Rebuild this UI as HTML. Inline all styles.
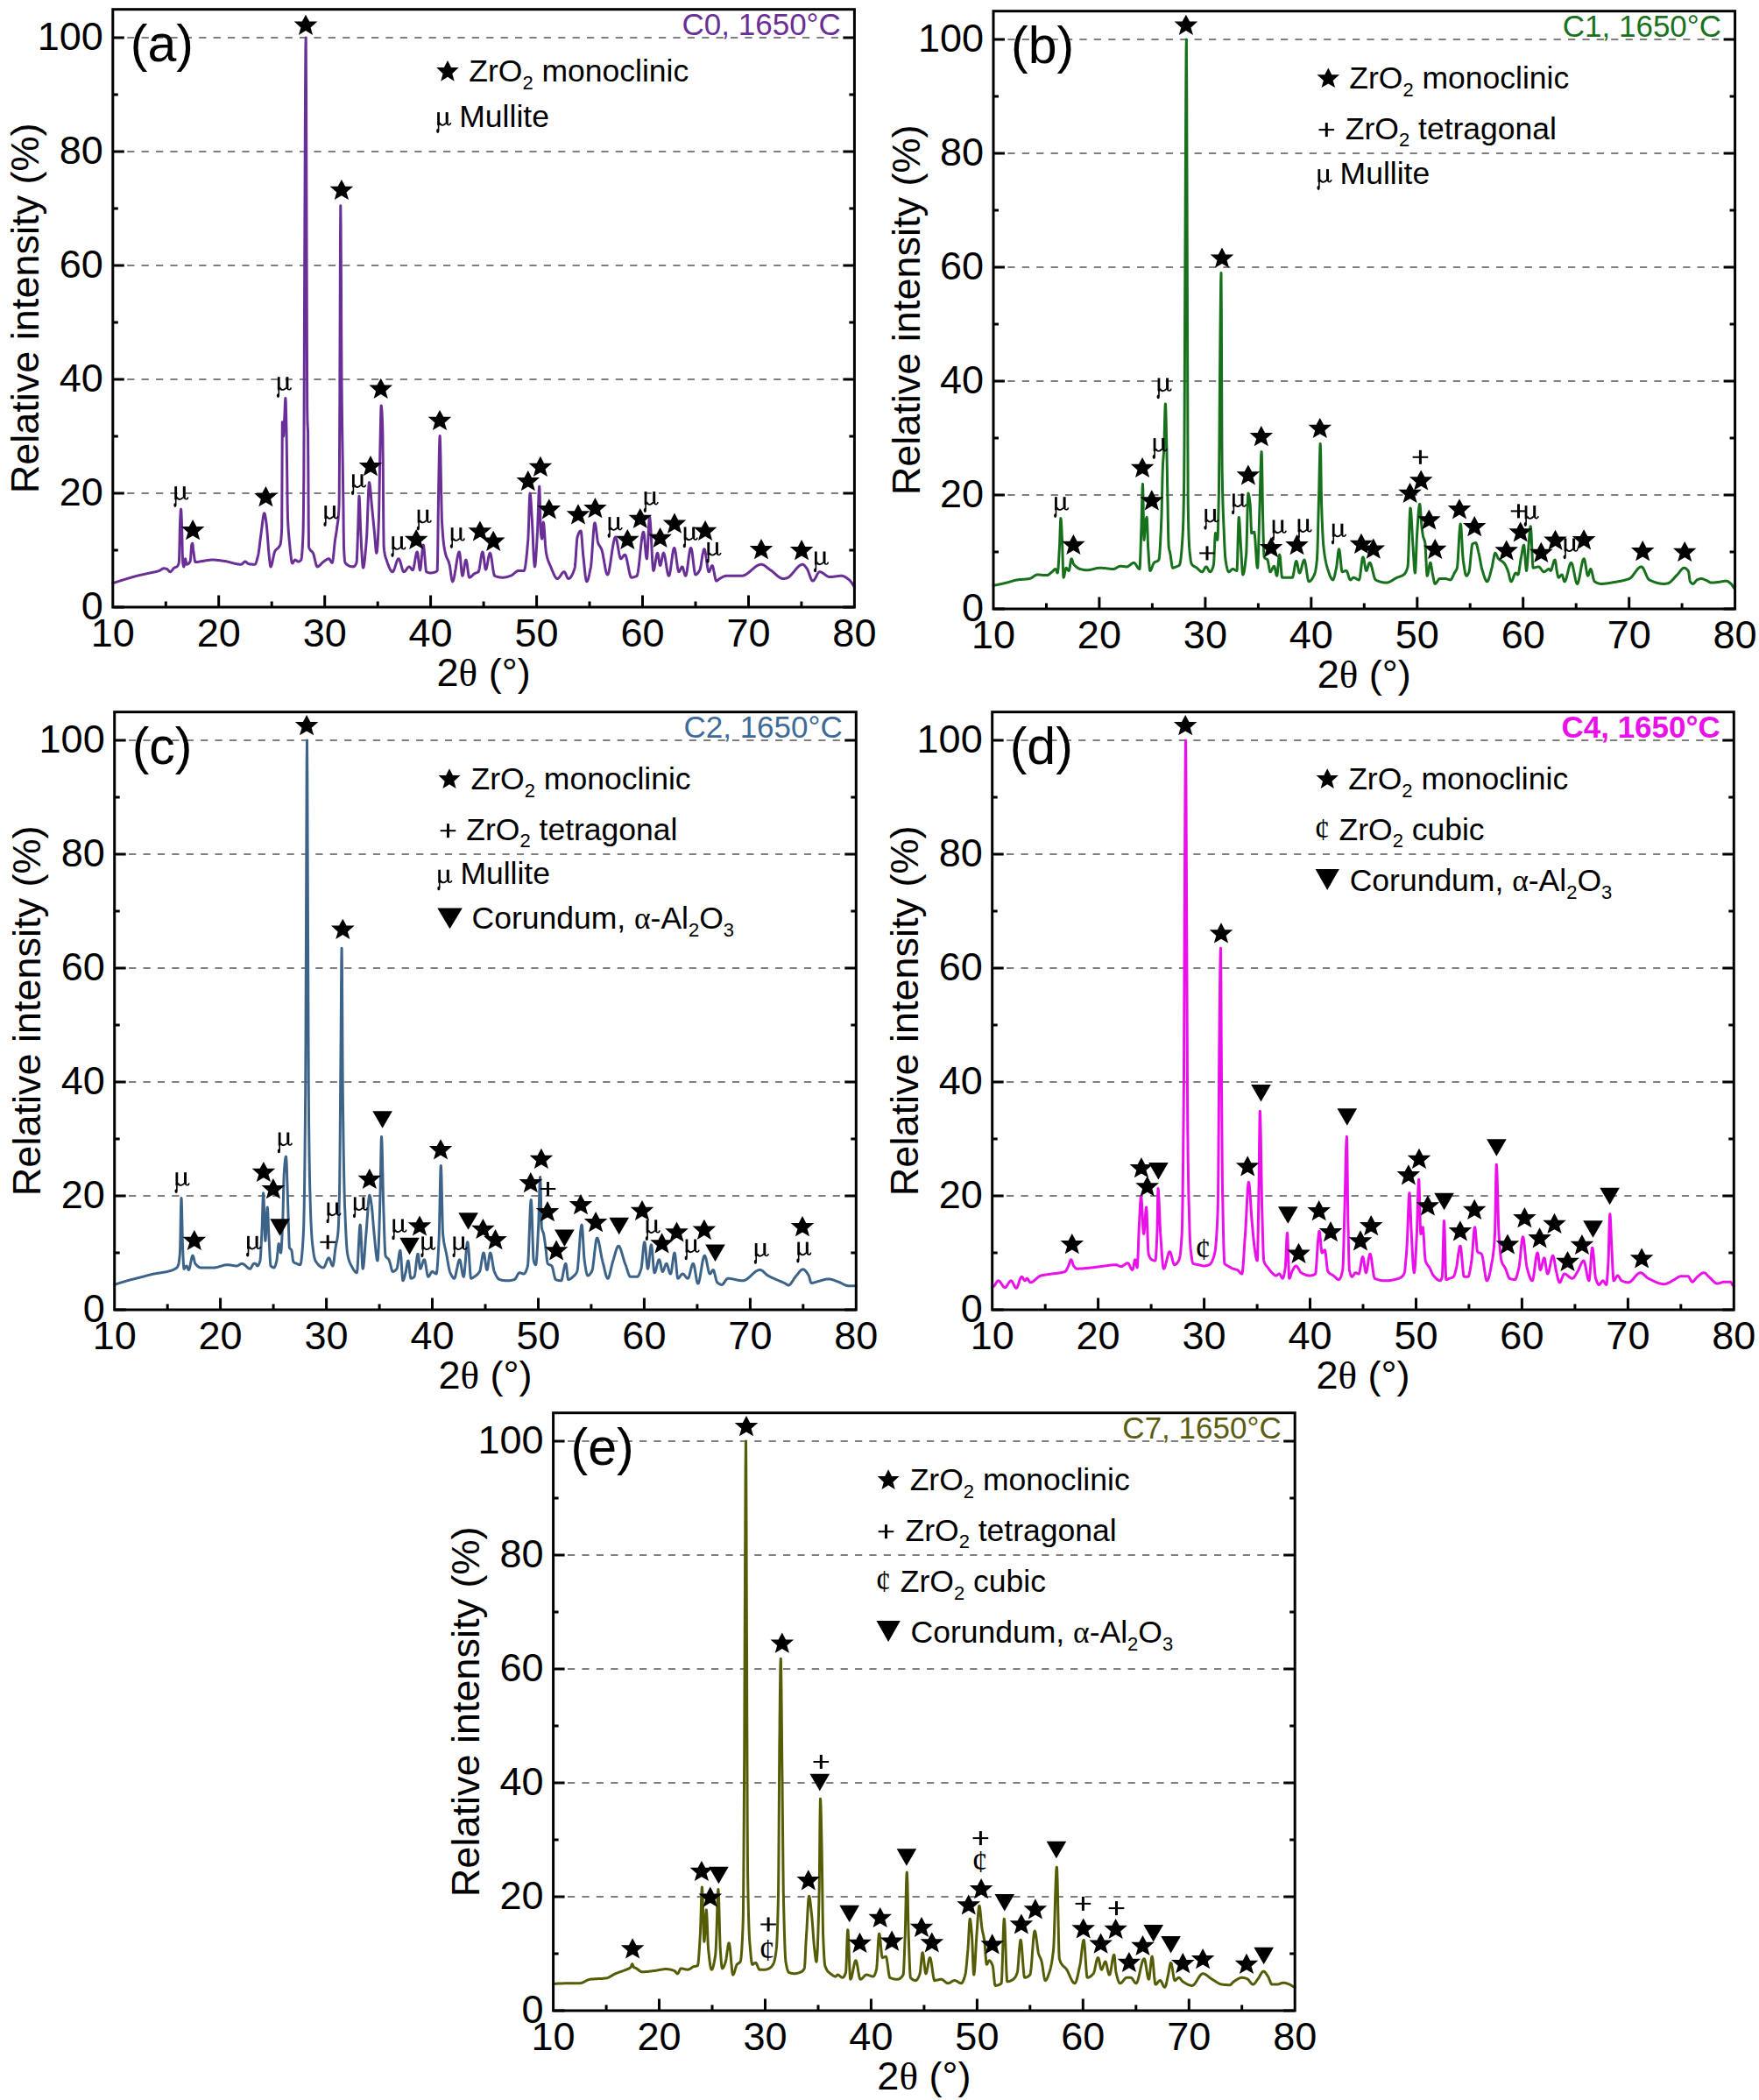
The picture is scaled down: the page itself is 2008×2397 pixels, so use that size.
<!DOCTYPE html><html><head><meta charset="utf-8"><style>html,body{margin:0;padding:0;background:#fff;overflow:hidden}svg{display:block}text{font-family:"Liberation Sans",sans-serif}.sf{font-family:"Liberation Serif",serif}</style></head><body>
<svg xmlns="http://www.w3.org/2000/svg" width="2008" height="2397" viewBox="0 0 2008 2397">
<rect width="2008" height="2397" fill="#fff"/>
<defs><g id="mu" fill="none" stroke="#000"><path d="M-5.85,-15.5V-0.5" stroke-width="2.8"/><path d="M-5.8,-1V5" stroke-width="1.6"/><ellipse cx="-6.6" cy="5.9" rx="1.6" ry="2.4" fill="#000" stroke="none"/><path d="M3.8,-15.5V-2.2" stroke-width="3.0"/><path d="M-4.6,-3.4Q-3.4,-0.5 -1.0,-0.8Q1,-1.1 2.5,-3.0" stroke-width="1.8"/><path d="M3.6,-3.0Q4.4,-0.8 6.3,-1.0Q7.9,-1.2 8.2,-3.4" stroke-width="1.6"/></g><g id="pl" fill="#000"><rect x="-1.5" y="-8" width="3" height="16"/><rect x="-8.8" y="-1" width="17.6" height="2"/></g></defs>
<g stroke="#7f7f7f" stroke-width="1.9" stroke-dasharray="8.2 8.2" fill="none">
<line x1="128.8" y1="563.0" x2="975.4" y2="563.0"/>
<line x1="128.8" y1="433.0" x2="975.4" y2="433.0"/>
<line x1="128.8" y1="303.0" x2="975.4" y2="303.0"/>
<line x1="128.8" y1="173.0" x2="975.4" y2="173.0"/>
<line x1="128.8" y1="43.0" x2="975.4" y2="43.0"/>
</g>
<path d="M128.8,665.7L129.1,665.6L129.4,665.5L129.7,665.4L130.0,665.3L130.3,665.2L130.6,665.1L130.9,665.0L131.2,664.9L131.5,664.8L131.8,664.7L132.1,664.6L132.4,664.5L132.7,664.4L133.0,664.3L133.3,664.2L133.6,664.1L133.9,664.0L134.2,663.9L134.5,663.8L134.8,663.7L135.1,663.6L135.5,663.5L135.8,663.4L136.1,663.3L136.4,663.2L136.7,663.1L137.0,663.0L137.3,662.9L137.6,662.8L137.9,662.7L138.2,662.6L138.5,662.5L138.8,662.5L139.1,662.4L139.4,662.3L139.7,662.2L140.0,662.1L140.3,662.0L140.6,661.9L140.9,661.8L140.9,661.8L141.2,661.7L141.5,661.6L141.8,661.5L142.1,661.4L142.4,661.3L142.7,661.2L143.0,661.2L143.3,661.1L143.6,661.0L143.9,660.9L144.2,660.8L144.5,660.7L144.8,660.6L145.1,660.5L145.4,660.4L145.7,660.3L146.0,660.2L146.3,660.1L146.6,660.0L146.9,660.0L147.2,659.9L147.5,659.8L147.8,659.7L148.2,659.6L148.5,659.5L148.8,659.4L149.1,659.3L149.4,659.2L149.7,659.2L150.0,659.1L150.3,659.0L150.6,658.9L150.9,658.8L151.2,658.7L151.5,658.6L151.8,658.5L152.1,658.5L152.4,658.4L152.7,658.3L153.0,658.2L153.3,658.1L153.6,658.0L153.9,658.0L154.2,657.9L154.5,657.8L154.8,657.7L155.1,657.6L155.4,657.6L155.7,657.5L156.0,657.4L156.3,657.3L156.6,657.2L156.6,657.2L156.9,657.2L157.2,657.1L157.5,657.0L157.8,657.0L158.1,656.9L158.4,656.8L158.7,656.7L159.0,656.7L159.3,656.6L159.6,656.5L159.9,656.5L160.2,656.4L160.5,656.3L160.8,656.2L161.2,656.2L161.5,656.1L161.8,656.0L162.1,656.0L162.4,655.9L162.7,655.8L163.0,655.8L163.3,655.7L163.6,655.7L163.9,655.6L164.2,655.5L164.5,655.5L164.8,655.4L165.1,655.3L165.4,655.3L165.7,655.2L166.0,655.1L166.3,655.1L166.6,655.0L166.9,654.9L167.2,654.9L167.5,654.8L167.8,654.7L168.1,654.7L168.4,654.6L168.7,654.5L169.0,654.5L169.3,654.4L169.6,654.3L169.9,654.3L170.2,654.2L170.5,654.1L170.8,654.1L171.1,654.0L171.1,654.0L171.4,653.9L171.7,653.9L172.0,653.8L172.3,653.7L172.6,653.7L172.9,653.6L173.2,653.5L173.5,653.5L173.9,653.4L174.2,653.4L174.5,653.3L174.8,653.2L175.1,653.2L175.4,653.1L175.7,653.0L176.0,653.0L176.3,652.9L176.6,652.9L176.9,652.8L177.2,652.7L177.5,652.7L177.8,652.6L178.1,652.5L178.4,652.4L178.7,652.4L179.0,652.3L179.3,652.2L179.6,652.1L179.9,652.1L180.2,652.0L180.5,651.9L180.8,651.8L181.1,651.7L181.4,651.6L181.7,651.5L182.0,651.4L182.0,651.4L182.3,651.3L182.6,651.1L182.9,651.0L183.2,650.8L183.5,650.5L183.8,650.3L184.1,650.1L184.4,649.9L184.7,649.7L185.0,649.5L185.3,649.3L185.6,649.1L185.9,649.0L186.2,648.9L186.6,648.8L186.9,648.8L186.9,648.8L187.2,648.8L187.5,648.8L187.8,648.9L188.1,648.9L188.4,648.9L188.7,649.0L189.0,649.1L189.3,649.1L189.6,649.2L189.9,649.3L190.2,649.4L190.5,649.5L190.5,649.5L190.8,649.6L191.1,649.8L191.4,650.1L191.7,650.5L192.0,650.8L192.3,651.2L192.6,651.6L192.9,651.9L193.2,652.2L193.5,652.5L193.8,652.6L194.1,652.7L194.1,652.7L194.4,652.7L194.7,652.5L195.0,652.4L195.3,652.1L195.6,651.9L195.9,651.5L196.2,651.2L196.5,650.8L196.8,650.5L197.1,650.1L197.4,649.7L197.7,649.3L198.0,649.0L198.3,648.7L198.6,648.4L198.9,648.1L198.9,648.1L199.2,648.0L199.6,647.8L199.9,647.7L200.2,647.5L200.5,647.4L200.8,647.3L201.1,647.2L201.4,647.1L201.7,646.9L202.0,646.7L202.3,646.5L202.6,646.2L202.6,646.2L202.9,645.8L203.2,645.3L203.5,644.7L203.8,643.7L204.1,642.5L204.4,641.0L204.4,641.0L204.7,634.1L205.0,620.6L205.3,605.8L205.6,595.5L205.6,595.5L205.9,589.2L206.2,583.9L206.5,581.3L206.6,581.2L206.8,582.9L207.1,588.5L207.4,595.5L207.4,595.5L207.7,606.0L208.0,620.4L208.3,633.7L208.6,641.0L208.6,641.0L208.9,643.4L209.2,645.2L209.5,646.4L209.8,646.9L209.8,646.9L210.1,646.2L210.4,644.5L210.7,642.3L211.0,640.1L211.3,638.4L211.6,637.8L211.6,637.8L211.9,638.8L212.3,641.0L212.6,643.2L212.9,644.2L212.9,644.2L213.2,644.2L213.5,644.2L213.8,644.1L214.1,644.0L214.4,643.9L214.7,643.7L215.0,643.5L215.3,643.2L215.6,643.0L215.9,642.6L216.2,642.3L216.5,641.9L216.8,641.5L217.1,641.0L217.1,641.0L217.4,639.3L217.7,635.8L218.0,631.4L218.3,627.0L218.6,623.4L218.9,621.5L218.9,621.5L219.2,620.8L219.5,620.3L219.7,620.2L219.8,620.3L220.1,622.1L220.4,625.2L220.7,628.0L220.7,628.0L221.0,630.2L221.3,632.4L221.6,634.7L221.9,636.9L222.2,638.8L222.5,640.3L222.8,641.3L223.1,641.6L223.1,641.6L223.4,641.6L223.7,641.6L224.0,641.6L224.3,641.6L224.6,641.6L224.9,641.5L225.3,641.5L225.6,641.5L225.9,641.4L226.2,641.4L226.5,641.3L226.8,641.3L227.1,641.2L227.4,641.1L227.7,641.1L228.0,641.0L228.3,641.0L228.6,640.9L228.9,640.8L229.2,640.8L229.5,640.7L229.8,640.7L230.1,640.6L230.4,640.5L230.7,640.5L231.0,640.4L231.3,640.4L231.6,640.4L231.6,640.3L231.9,640.3L232.2,640.3L232.5,640.2L232.8,640.2L233.1,640.1L233.4,640.1L233.7,640.0L234.0,640.0L234.3,639.9L234.6,639.9L234.9,639.8L235.2,639.8L235.5,639.7L235.8,639.7L236.1,639.7L236.4,639.6L236.7,639.6L237.0,639.5L237.3,639.5L237.6,639.4L238.0,639.4L238.3,639.4L238.6,639.3L238.9,639.3L239.2,639.2L239.5,639.2L239.8,639.2L240.1,639.2L240.4,639.1L240.7,639.1L241.0,639.1L241.3,639.1L241.6,639.1L241.9,639.1L242.2,639.1L242.5,639.0L242.5,639.0L242.8,639.1L243.1,639.1L243.4,639.1L243.7,639.1L244.0,639.1L244.3,639.1L244.6,639.1L244.9,639.1L245.2,639.1L245.5,639.2L245.8,639.2L246.1,639.2L246.4,639.2L246.7,639.2L247.0,639.3L247.3,639.3L247.6,639.3L247.9,639.4L248.2,639.4L248.5,639.4L248.8,639.5L249.1,639.5L249.4,639.5L249.7,639.6L250.0,639.6L250.3,639.6L250.6,639.7L251.0,639.7L251.3,639.7L251.6,639.8L251.9,639.8L252.2,639.9L252.5,639.9L252.8,639.9L253.1,640.0L253.4,640.0L253.7,640.1L254.0,640.1L254.3,640.2L254.6,640.2L254.9,640.2L255.2,640.3L255.5,640.3L255.8,640.4L255.8,640.4L256.1,640.4L256.4,640.4L256.7,640.5L257.0,640.5L257.3,640.6L257.6,640.6L257.9,640.7L258.2,640.8L258.5,640.8L258.8,640.9L259.1,640.9L259.4,641.0L259.7,641.1L260.0,641.2L260.3,641.2L260.6,641.3L260.9,641.4L261.2,641.5L261.5,641.5L261.8,641.6L262.1,641.7L262.4,641.8L262.7,641.9L263.0,641.9L263.3,642.0L263.7,642.1L264.0,642.2L264.3,642.3L264.6,642.4L264.9,642.4L265.2,642.5L265.5,642.6L265.8,642.7L266.1,642.8L266.4,642.9L266.7,642.9L267.0,643.0L267.3,643.1L267.6,643.2L267.9,643.2L268.2,643.3L268.5,643.4L268.8,643.4L269.1,643.5L269.4,643.6L269.7,643.6L270.0,643.7L270.3,643.8L270.6,643.8L270.9,643.9L271.2,643.9L271.5,644.0L271.8,644.0L272.1,644.0L272.4,644.1L272.7,644.1L273.0,644.1L273.3,644.2L273.6,644.2L273.9,644.2L274.2,644.2L274.5,644.2L274.8,644.2L275.1,644.2L275.1,644.2L275.4,644.2L275.7,644.1L276.0,644.0L276.4,643.7L276.7,643.5L277.0,643.2L277.3,642.9L277.6,642.6L277.9,642.3L278.2,642.0L278.5,641.8L278.8,641.5L279.1,641.3L279.4,641.1L279.7,641.0L280.0,641.0L280.0,641.0L280.3,641.0L280.6,641.2L280.9,641.4L281.2,641.6L281.5,641.9L281.8,642.2L282.1,642.5L282.4,642.8L282.7,643.1L283.0,643.3L283.3,643.5L283.6,643.6L283.6,643.6L283.9,643.7L284.2,643.7L284.5,643.7L284.8,643.8L285.1,643.8L285.4,643.9L285.7,643.9L286.0,644.0L286.3,644.0L286.6,644.0L286.9,644.1L287.2,644.1L287.5,644.1L287.8,644.1L288.1,644.2L288.4,644.2L288.7,644.2L289.0,644.2L289.4,644.2L289.7,644.2L290.0,644.2L290.3,644.2L290.6,644.2L290.9,644.2L290.9,644.2L291.2,644.1L291.5,643.9L291.8,643.4L292.1,642.8L292.4,642.0L292.7,641.1L293.0,640.2L293.3,639.1L293.6,638.0L293.9,636.9L294.2,635.7L294.5,634.5L294.5,634.5L294.8,633.1L295.1,631.5L295.4,629.6L295.7,627.5L296.0,625.2L296.3,622.8L296.6,620.3L296.9,617.8L297.2,615.3L297.5,612.9L297.8,610.6L298.1,608.5L298.1,608.5L298.4,606.4L298.7,604.0L299.0,601.5L299.3,599.0L299.6,596.5L299.9,594.1L300.2,591.9L300.5,589.9L300.8,588.2L301.1,586.9L301.4,586.0L301.7,585.8L301.7,585.8L302.1,586.1L302.4,587.0L302.7,588.3L303.0,590.0L303.3,592.1L303.6,594.2L303.9,596.5L304.2,598.8L304.2,598.8L304.5,601.3L304.8,604.5L305.1,608.1L305.4,612.1L305.7,616.2L306.0,620.4L306.3,624.4L306.6,628.2L306.9,631.6L307.2,634.5L307.2,634.5L307.5,637.2L307.8,640.0L308.1,642.6L308.4,644.8L308.7,646.3L309.0,646.9L309.0,646.9L309.3,646.7L309.6,646.2L309.9,645.5L310.2,644.5L310.5,643.4L310.8,642.1L311.1,640.7L311.4,639.2L311.7,637.7L312.0,636.2L312.3,634.8L312.6,633.4L312.9,632.1L313.2,631.0L313.5,630.0L313.8,629.3L313.8,629.3L314.1,628.8L314.4,628.3L314.7,627.9L315.1,627.5L315.4,627.2L315.7,626.9L316.0,626.7L316.3,626.4L316.6,626.2L316.9,626.0L317.2,625.7L317.5,625.5L317.8,625.2L318.1,624.8L318.4,624.4L318.7,624.0L319.0,623.5L319.3,622.9L319.6,622.3L319.9,621.5L319.9,621.5L320.2,620.5L320.5,618.9L320.8,616.6L321.1,613.1L321.4,608.4L321.7,602.0L321.7,602.0L322.0,540.1L322.3,481.8L322.3,481.8L322.6,484.3L322.9,489.9L323.2,495.5L323.5,498.0L323.5,498.0L323.8,496.0L324.1,490.9L324.4,484.6L324.7,478.5L324.7,478.5L325.0,471.7L325.3,463.8L325.6,457.2L325.9,454.4L325.9,454.4L326.2,458.5L326.5,468.9L326.8,482.9L327.1,498.0L327.1,498.0L327.4,519.0L327.8,546.9L328.1,573.0L328.4,589.0L328.4,589.0L328.7,596.1L329.0,601.7L329.3,606.2L329.6,609.9L329.9,613.1L330.0,615.0L330.2,616.3L330.5,619.5L330.8,622.7L331.1,625.8L331.4,628.9L331.7,631.7L332.0,634.4L332.3,636.8L332.6,638.9L332.9,640.6L333.2,641.9L333.5,642.7L333.8,643.0L333.8,643.0L334.1,642.8L334.4,642.5L334.7,642.1L335.0,641.6L335.3,641.0L335.6,640.4L335.9,639.9L336.2,639.5L336.5,639.2L336.8,639.0L336.8,639.0L337.1,639.1L337.4,639.2L337.7,639.4L338.0,639.6L338.3,639.8L338.6,640.0L338.9,640.3L339.2,640.5L339.5,640.7L339.8,640.9L340.1,641.0L340.5,641.0L340.5,641.0L340.8,641.0L341.1,640.9L341.4,640.9L341.7,640.7L342.0,640.6L342.3,640.4L342.6,640.2L342.9,639.9L343.2,639.7L343.5,639.3L343.7,639.0L343.8,639.0L344.1,637.9L344.4,635.9L344.7,633.0L345.0,629.1L345.3,624.2L345.6,618.4L345.9,611.5L346.0,608.5L346.2,601.4L346.5,579.6L346.7,555.2L346.8,547.2L347.1,477.9L347.4,385.0L347.7,303.0L347.7,303.0L348.0,233.1L348.3,161.0L348.6,97.8L348.9,55.0L349.2,43.0L349.2,45.0L349.5,103.7L349.8,206.4L350.1,303.0L350.1,303.0L350.4,392.2L350.7,466.4L350.9,478.5L351.0,483.7L351.3,488.3L351.6,494.1L351.6,497.5L351.9,540.0L352.2,595.7L352.5,624.1L352.5,624.1L352.8,625.1L353.1,626.0L353.5,626.7L353.8,627.3L354.1,627.8L354.4,628.1L354.7,628.5L355.0,628.7L355.3,628.9L355.6,629.1L355.9,629.4L356.2,629.6L356.5,629.9L356.8,630.3L357.1,630.7L357.4,631.2L357.4,631.3L357.7,632.0L358.0,632.9L358.3,633.9L358.6,635.1L358.9,636.3L359.2,637.6L359.5,639.0L359.8,640.3L360.1,641.6L360.4,642.8L360.7,643.9L361.0,644.9L361.3,645.7L361.6,646.3L361.9,646.7L362.2,646.9L362.2,646.9L362.5,646.8L362.8,646.8L363.1,646.7L363.4,646.5L363.7,646.4L364.0,646.2L364.3,645.9L364.6,645.7L364.9,645.4L365.2,645.1L365.5,644.8L365.8,644.5L366.2,644.2L366.5,643.9L366.8,643.5L367.1,643.2L367.4,642.9L367.7,642.6L368.0,642.3L368.3,642.0L368.6,641.7L368.9,641.4L369.2,641.2L369.5,641.0L369.5,641.0L369.8,640.8L370.1,640.6L370.4,640.4L370.7,640.2L371.0,639.9L371.3,639.7L371.6,639.5L371.9,639.3L372.2,639.1L372.5,638.9L372.8,638.7L373.1,638.5L373.4,638.4L373.7,638.2L374.0,638.1L374.3,638.0L374.6,637.9L374.9,637.8L375.2,637.8L375.5,637.8L375.5,637.8L375.8,637.8L376.1,638.1L376.4,638.5L376.7,638.9L377.0,639.5L377.3,640.0L377.6,640.6L377.9,641.1L378.2,641.6L378.5,642.0L378.8,642.2L379.2,642.3L379.2,642.3L379.5,641.9L379.8,640.7L380.1,638.9L380.4,636.7L380.7,634.0L381.0,631.1L381.3,628.0L381.6,624.9L381.9,621.9L382.2,619.2L382.5,616.7L382.5,616.3L382.8,614.7L383.1,612.8L383.4,611.0L383.7,609.2L384.0,607.4L384.3,605.4L384.6,603.3L384.8,601.4L384.9,600.9L385.2,598.7L385.5,596.7L385.8,594.6L386.1,592.1L386.4,588.7L386.7,584.2L387.0,578.2L387.1,575.4L387.3,559.8L387.6,501.9L387.9,449.9L387.9,437.2L388.2,354.4L388.5,272.1L388.8,234.8L388.8,234.8L389.1,259.7L389.4,317.7L389.7,383.9L390.0,433.0L390.0,433.0L390.3,462.1L390.6,486.4L390.9,507.6L391.2,527.8L391.5,549.0L391.7,563.0L391.9,573.9L392.2,604.7L392.5,624.1L392.5,624.1L392.8,630.2L393.1,635.1L393.4,638.7L393.7,641.0L394.0,642.2L394.0,642.3L394.3,642.6L394.6,642.9L394.9,643.3L395.2,643.6L395.5,643.9L395.8,644.1L396.1,644.4L396.4,644.6L396.7,644.9L397.0,645.1L397.3,645.3L397.6,645.5L397.9,645.6L398.2,645.8L398.5,645.9L398.8,646.1L399.1,646.2L399.4,646.3L399.7,646.4L400.0,646.5L400.3,646.6L400.6,646.6L400.9,646.7L401.2,646.7L401.5,646.8L401.8,646.8L402.1,646.8L402.4,646.8L402.7,646.8L403.0,646.8L403.1,646.9L403.3,646.8L403.6,646.8L403.9,646.7L404.2,646.5L404.5,646.3L404.9,646.0L405.2,645.7L405.5,645.3L405.8,644.8L406.1,644.3L406.4,643.7L406.7,643.0L407.0,642.3L407.0,642.3L407.3,639.7L407.6,634.1L407.9,626.6L408.2,618.2L408.5,610.0L408.5,608.5L408.8,601.2L409.1,589.9L409.4,578.5L409.7,569.8L410.0,566.2L410.0,566.2L410.3,568.6L410.6,574.8L410.9,583.3L411.2,592.7L411.5,601.6L411.8,608.5L411.8,608.5L412.1,614.1L412.4,620.0L412.7,625.8L413.0,631.4L413.3,636.6L413.6,641.0L413.9,644.6L414.2,647.0L414.5,648.1L414.6,648.1L414.8,647.9L415.1,647.2L415.4,645.8L415.7,644.0L416.0,641.7L416.3,639.1L416.6,636.1L416.9,632.9L417.2,629.5L417.6,625.9L417.9,622.2L418.2,618.5L418.3,616.3L418.5,614.6L418.8,609.2L419.1,602.2L419.4,594.1L419.7,585.6L420.0,577.0L420.3,568.8L420.6,561.6L420.9,555.9L421.2,552.0L421.5,550.6L421.5,550.6L421.8,551.2L422.1,552.6L422.4,554.7L422.7,557.5L423.0,560.7L423.3,564.2L423.6,567.8L423.9,571.4L424.2,574.9L424.5,578.0L424.5,578.0L424.8,580.9L425.1,583.9L425.4,586.9L425.7,590.0L426.0,593.1L426.3,596.2L426.6,599.3L426.9,602.4L427.2,605.5L427.5,608.5L427.5,608.5L427.8,611.9L428.1,615.7L428.4,619.7L428.7,623.5L429.0,626.9L429.3,629.5L429.6,631.0L429.8,631.2L429.9,631.1L430.3,629.9L430.6,627.4L430.9,623.8L431.2,619.3L431.5,614.0L431.8,608.2L432.1,602.0L432.1,600.7L432.4,593.8L432.7,581.0L433.0,565.0L433.3,547.3L433.6,529.2L433.9,512.3L434.2,498.0L434.2,498.0L434.5,484.0L434.8,470.5L435.1,463.1L435.1,462.9L435.4,463.6L435.7,466.3L436.0,470.7L436.3,476.6L436.6,483.8L436.7,487.0L436.9,496.3L437.2,527.1L437.5,566.4L437.8,602.3L438.1,622.9L438.2,624.1L438.4,626.5L438.7,629.0L439.0,631.1L439.3,632.8L439.6,634.2L439.9,635.3L440.2,636.3L440.5,637.2L440.8,638.0L441.1,638.9L441.2,639.0L441.4,639.8L441.7,640.7L442.0,641.6L442.3,642.5L442.6,643.3L442.9,644.2L443.3,645.0L443.6,645.8L443.9,646.6L444.2,647.3L444.5,648.0L444.8,648.7L445.1,649.4L445.4,649.9L445.7,650.5L446.0,651.0L446.3,651.4L446.6,651.8L446.9,652.1L447.2,652.4L447.5,652.5L447.8,652.7L448.1,652.7L448.1,652.7L448.4,652.6L448.7,652.4L449.0,652.0L449.3,651.5L449.6,650.9L449.9,650.1L450.2,649.3L450.5,648.5L450.8,647.6L451.1,646.6L451.4,645.6L451.7,644.6L452.0,643.7L452.3,642.7L452.6,641.8L452.9,640.9L453.2,640.2L453.5,639.5L453.8,638.9L454.1,638.4L454.4,638.0L454.7,637.8L455.0,637.8L455.0,637.8L455.3,637.9L455.6,638.3L456.0,638.8L456.3,639.5L456.6,640.3L456.9,641.2L457.2,642.2L457.5,643.2L457.8,644.3L458.1,645.4L458.4,646.6L458.7,647.7L459.0,648.7L459.3,649.7L459.6,650.5L459.9,651.3L460.2,651.9L460.5,652.4L460.8,652.6L461.0,652.7L461.1,652.7L461.4,652.6L461.7,652.5L462.0,652.3L462.3,652.1L462.6,651.8L462.9,651.4L463.2,651.0L463.5,650.6L463.8,650.2L464.1,649.8L464.4,649.3L464.7,648.9L465.0,648.5L465.3,648.1L465.6,647.8L465.9,647.5L466.2,647.2L466.5,647.0L466.8,646.9L467.1,646.9L467.2,646.9L467.4,646.9L467.7,647.1L468.0,647.3L468.3,647.7L468.6,648.1L469.0,648.5L469.3,649.0L469.6,649.4L469.9,649.8L470.2,650.2L470.5,650.5L470.8,650.7L471.1,650.8L471.1,650.8L471.4,650.5L471.7,650.0L472.0,649.1L472.3,647.9L472.6,646.5L472.9,644.9L473.2,643.2L473.5,641.4L473.8,639.6L474.1,637.8L474.4,636.1L474.7,634.5L475.0,633.1L475.3,631.8L475.6,630.9L475.9,630.2L476.2,630.0L476.3,630.0L476.5,630.3L476.8,631.5L477.1,633.4L477.4,635.9L477.7,638.6L478.0,641.5L478.3,644.3L478.6,646.8L478.9,648.9L479.2,650.2L479.5,650.8L479.5,650.8L479.8,650.2L480.1,648.6L480.4,646.3L480.7,643.3L481.0,640.0L481.3,636.4L481.7,632.9L482.0,629.6L482.3,626.6L482.6,624.3L482.9,622.7L483.2,622.1L483.2,622.1L483.5,622.7L483.8,624.4L484.1,626.8L484.4,629.9L484.7,633.4L485.0,637.2L485.3,640.9L485.6,644.5L485.9,647.6L486.2,650.2L486.5,652.0L486.8,652.7L486.8,652.7L487.1,652.9L487.4,653.0L487.7,653.2L488.0,653.3L488.3,653.4L488.6,653.5L488.9,653.6L489.2,653.7L489.5,653.8L489.8,653.8L490.1,653.9L490.4,653.9L490.7,654.0L491.0,654.0L491.3,654.0L491.5,654.0L491.6,654.0L491.9,654.0L492.2,654.0L492.5,653.9L492.8,653.9L493.1,653.8L493.4,653.8L493.7,653.7L494.0,653.7L494.3,653.6L494.7,653.5L495.0,653.4L495.3,653.4L495.3,653.3L495.6,653.3L495.9,653.2L496.2,653.1L496.5,653.1L496.8,653.0L497.1,652.9L497.4,652.7L497.7,652.6L498.0,652.4L498.3,652.2L498.6,652.0L498.9,651.7L499.1,651.4L499.2,651.0L499.5,641.2L499.8,621.9L500.1,597.8L500.4,573.9L500.7,555.2L500.7,555.2L501.0,539.6L501.3,523.5L501.6,509.5L501.9,500.0L502.2,497.4L502.2,497.5L502.5,503.5L502.8,515.8L503.1,531.7L503.4,548.4L503.7,563.0L503.7,563.0L504.0,577.5L504.3,590.4L504.4,593.5L504.6,596.8L504.9,601.8L505.2,606.2L505.5,610.3L505.8,613.8L506.1,617.0L506.4,619.8L506.7,622.3L507.0,624.4L507.4,626.4L507.7,628.1L508.0,629.6L508.3,631.0L508.3,631.2L508.6,632.2L508.9,633.3L509.2,634.3L509.5,635.2L509.8,635.9L510.1,636.6L510.4,637.3L510.7,637.9L511.0,638.5L511.3,639.2L511.6,639.8L511.9,640.5L512.2,641.3L512.5,642.2L512.8,643.2L512.9,643.6L513.1,644.3L513.4,645.8L513.7,647.7L514.0,649.7L514.3,651.9L514.6,654.1L514.9,656.2L515.2,658.3L515.5,660.1L515.8,661.7L516.1,662.8L516.4,663.6L516.7,663.8L516.7,663.7L517.0,663.5L517.3,663.0L517.6,662.3L517.9,661.2L518.2,660.0L518.5,658.6L518.8,657.0L519.1,655.3L519.4,653.5L519.7,651.6L520.1,649.7L520.4,647.7L520.7,645.6L521.0,643.6L521.3,641.7L521.6,639.8L521.9,638.0L522.2,636.3L522.5,634.8L522.8,633.4L523.1,632.2L523.4,631.3L523.7,630.6L524.0,630.1L524.3,630.0L524.3,630.0L524.6,630.5L524.9,632.0L525.2,634.2L525.5,637.0L525.8,640.2L526.1,643.6L526.4,647.0L526.7,650.2L527.0,653.0L527.3,655.2L527.6,656.7L527.9,657.2L527.9,657.2L528.2,657.0L528.5,656.1L528.8,654.9L529.1,653.2L529.4,651.4L529.7,649.4L530.0,647.3L530.3,645.3L530.6,643.4L530.9,641.7L531.2,640.4L531.5,639.5L531.8,639.1L531.9,639.0L532.1,639.3L532.4,640.1L532.7,641.5L533.1,643.3L533.4,645.4L533.7,647.7L534.0,650.1L534.3,652.4L534.6,654.5L534.9,656.4L535.2,657.9L535.5,658.9L535.8,659.2L535.8,659.2L536.1,659.2L536.4,659.1L536.7,659.0L537.0,658.8L537.3,658.6L537.6,658.4L537.9,658.2L538.2,657.9L538.5,657.6L538.8,657.4L539.1,657.0L539.4,656.7L539.7,656.4L540.0,656.1L540.3,655.8L540.6,655.6L540.9,655.3L541.2,655.1L541.5,654.8L541.8,654.6L541.8,654.6L542.1,654.5L542.4,654.4L542.7,654.2L543.0,654.1L543.3,654.0L543.6,653.9L543.9,653.8L544.2,653.7L544.5,653.6L544.8,653.5L545.1,653.3L545.4,653.1L545.8,652.9L546.1,652.7L546.1,652.7L546.4,652.2L546.7,651.3L547.0,650.1L547.3,648.6L547.6,646.8L547.9,644.9L548.2,642.9L548.5,640.8L548.8,638.8L549.1,636.8L549.4,635.0L549.7,633.3L550.0,631.9L550.3,630.9L550.6,630.2L550.9,630.0L550.9,630.0L551.2,630.3L551.5,631.4L551.8,633.1L552.1,635.2L552.4,637.5L552.7,640.0L553.0,642.5L553.3,644.9L553.6,647.0L553.9,648.6L554.2,649.7L554.5,650.1L554.5,650.1L554.8,649.9L555.1,649.3L555.4,648.4L555.7,647.2L556.0,645.7L556.3,644.1L556.6,642.4L556.9,640.7L557.2,638.9L557.5,637.2L557.8,635.6L558.1,634.2L558.4,633.0L558.8,632.1L559.1,631.5L559.4,631.2L559.4,631.2L559.7,631.5L560.0,632.2L560.3,633.2L560.6,634.6L560.9,636.2L561.2,638.1L561.5,640.1L561.8,642.2L562.1,644.4L562.4,646.6L562.7,648.7L563.0,650.7L563.3,652.5L563.6,654.1L563.9,655.5L564.2,656.5L564.5,657.1L564.7,657.2L564.8,657.3L565.1,657.4L565.4,657.6L565.7,657.7L566.0,657.8L566.3,657.9L566.6,658.0L566.9,658.1L567.2,658.2L567.5,658.3L567.8,658.4L568.1,658.5L568.4,658.5L568.7,658.6L569.0,658.7L569.3,658.7L569.6,658.8L569.9,658.9L570.2,658.9L570.5,659.0L570.8,659.0L571.1,659.0L571.5,659.1L571.8,659.1L572.1,659.1L572.4,659.2L572.7,659.2L573.0,659.2L573.3,659.2L573.6,659.2L573.9,659.2L573.9,659.2L574.2,659.2L574.5,659.2L574.8,659.2L575.1,659.2L575.4,659.1L575.7,659.1L576.0,659.1L576.3,659.0L576.6,659.0L576.9,658.9L577.2,658.9L577.5,658.8L577.8,658.7L578.1,658.7L578.4,658.6L578.7,658.5L579.0,658.4L579.3,658.4L579.6,658.3L579.9,658.2L580.2,658.1L580.5,658.0L580.8,657.9L581.1,657.8L581.4,657.7L581.7,657.6L582.0,657.5L582.3,657.4L582.6,657.3L582.9,657.2L582.9,657.2L583.2,657.1L583.5,657.0L583.8,656.8L584.1,656.7L584.5,656.5L584.8,656.3L585.1,656.0L585.4,655.8L585.7,655.6L586.0,655.3L586.3,655.0L586.6,654.8L586.9,654.5L587.2,654.2L587.5,654.0L587.8,653.7L588.1,653.4L588.4,653.2L588.7,652.9L589.0,652.7L589.3,652.5L589.6,652.3L589.9,652.1L590.2,651.9L590.5,651.8L590.8,651.6L591.1,651.5L591.4,651.5L591.7,651.4L592.0,651.4L592.0,651.4L592.3,651.4L592.6,651.4L592.9,651.4L593.2,651.4L593.5,651.4L593.8,651.4L594.1,651.4L594.4,651.4L594.7,651.4L595.0,651.4L595.3,651.4L595.6,651.4L595.9,651.4L596.2,651.4L596.5,651.4L596.8,651.4L597.2,651.4L597.5,651.4L597.8,651.4L598.1,651.4L598.1,651.4L598.4,651.2L598.7,650.6L599.0,649.7L599.3,648.4L599.6,646.8L599.9,645.0L600.2,642.8L600.5,640.4L600.8,637.8L601.1,635.0L601.4,631.9L601.7,628.8L602.0,625.4L602.3,622.0L602.6,618.5L602.8,616.3L602.9,614.6L603.2,608.2L603.5,599.6L603.8,590.1L604.1,580.6L604.4,572.2L604.7,566.0L605.0,563.1L605.1,563.0L605.3,563.6L605.6,565.8L605.9,569.4L606.2,573.9L606.5,579.1L606.8,584.4L607.1,589.7L607.4,593.5L607.4,594.5L607.7,599.9L608.0,606.2L608.3,613.2L608.6,620.3L608.9,627.3L609.2,633.7L609.5,639.2L609.9,643.5L610.2,646.1L610.4,646.9L610.5,646.8L610.8,646.0L611.1,644.0L611.4,641.1L611.7,637.4L612.0,633.0L612.3,628.2L612.6,623.1L612.9,617.9L613.2,612.6L613.4,608.5L613.5,607.4L613.8,600.7L614.1,592.1L614.4,582.7L614.7,573.4L615.0,565.2L615.3,558.9L615.6,555.5L615.7,555.2L615.9,556.8L616.2,565.0L616.5,577.4L616.8,590.9L617.1,602.3L617.4,608.5L617.4,608.5L617.7,610.8L618.0,612.8L618.3,614.2L618.6,614.9L618.7,615.0L618.9,614.3L619.2,610.7L619.5,605.6L619.8,600.4L620.1,596.8L620.3,596.1L620.4,596.3L620.7,597.6L621.0,600.3L621.3,603.8L621.6,608.1L621.9,612.7L622.2,617.4L622.5,621.9L622.9,625.9L623.2,629.1L623.5,631.2L623.5,631.3L623.8,632.7L624.1,634.0L624.4,635.3L624.7,636.4L625.0,637.5L625.3,638.5L625.6,639.4L625.9,640.3L626.2,641.1L626.5,641.9L626.8,642.6L627.1,643.3L627.4,644.0L627.7,644.7L628.0,645.4L628.3,646.0L628.6,646.7L628.7,646.9L628.9,647.4L629.2,648.1L629.5,648.8L629.8,649.6L630.1,650.3L630.4,651.1L630.7,651.8L631.0,652.5L631.3,653.2L631.6,654.0L631.9,654.7L632.2,655.3L632.5,656.0L632.8,656.6L633.1,657.2L633.4,657.7L633.7,658.2L634.0,658.7L634.3,659.1L634.6,659.5L634.9,659.8L635.2,660.1L635.6,660.3L635.9,660.4L636.2,660.5L636.3,660.5L636.5,660.5L636.8,660.4L637.1,660.3L637.4,660.1L637.7,659.8L638.0,659.5L638.3,659.2L638.6,658.8L638.9,658.5L639.2,658.0L639.5,657.6L639.8,657.1L640.1,656.7L640.4,656.2L640.7,655.8L641.0,655.3L641.3,654.9L641.6,654.5L641.9,654.1L642.2,653.8L642.5,653.5L642.8,653.2L643.1,653.0L643.4,652.8L643.7,652.7L644.0,652.7L644.0,652.7L644.3,652.8L644.6,653.0L644.9,653.4L645.2,653.9L645.5,654.5L645.8,655.2L646.1,655.9L646.4,656.6L646.7,657.3L647.0,658.0L647.3,658.7L647.6,659.3L647.9,659.8L648.2,660.2L648.6,660.4L648.9,660.5L648.9,660.5L649.2,660.5L649.5,660.4L649.8,660.3L650.1,660.1L650.4,659.9L650.7,659.7L651.0,659.4L651.3,659.1L651.6,658.7L651.9,658.3L652.2,657.8L652.5,657.3L652.8,656.8L653.1,656.2L653.4,655.6L653.7,654.9L654.0,654.2L654.3,653.5L654.6,652.7L654.9,651.8L655.2,651.0L655.5,650.1L655.8,649.1L656.1,648.1L656.1,648.1L656.4,646.4L656.7,643.5L657.0,639.7L657.3,635.3L657.6,630.6L657.9,625.9L658.2,621.5L658.5,617.7L658.8,614.7L659.1,613.0L659.1,613.0L659.4,612.1L659.7,611.2L660.0,610.3L660.3,609.5L660.6,608.8L660.9,608.1L661.3,607.5L661.6,607.0L661.9,606.6L662.2,606.3L662.5,606.1L662.8,605.9L663.0,605.9L663.1,605.9L663.4,606.9L663.7,609.0L664.0,612.0L664.3,615.6L664.6,619.6L664.9,623.8L665.2,627.8L665.5,631.5L665.8,634.5L665.8,634.5L666.1,637.2L666.4,640.1L666.7,643.0L667.0,646.0L667.3,649.0L667.6,651.8L667.9,654.5L668.2,657.0L668.5,659.1L668.8,661.0L669.1,662.4L669.4,663.3L669.7,663.7L669.8,663.8L670.0,663.7L670.3,663.4L670.6,663.0L670.9,662.3L671.2,661.6L671.5,660.6L671.8,659.6L672.1,658.4L672.4,657.1L672.7,655.8L673.0,654.3L673.3,652.8L673.6,651.3L673.9,649.7L674.3,648.1L674.3,648.1L674.6,646.2L674.9,643.4L675.2,640.1L675.5,636.2L675.8,632.0L676.1,627.6L676.4,623.0L676.7,618.5L677.0,614.0L677.3,609.9L677.6,606.0L677.9,602.7L678.2,600.0L678.5,598.1L678.8,597.0L679.0,596.8L679.1,596.9L679.4,597.5L679.7,598.7L680.0,600.4L680.3,602.5L680.6,604.8L680.9,607.4L681.2,609.9L681.5,612.4L681.8,614.7L682.1,616.8L682.4,618.4L682.7,619.5L682.7,619.6L683.0,620.3L683.3,621.0L683.6,621.7L683.9,622.2L684.2,622.7L684.5,623.1L684.8,623.6L685.1,624.0L685.4,624.5L685.7,625.0L686.0,625.5L686.3,626.1L686.6,626.7L686.6,626.9L687.0,627.7L687.3,628.8L687.6,630.0L687.9,631.4L688.2,632.9L688.5,634.5L688.8,636.1L689.1,637.9L689.4,639.6L689.7,641.4L690.0,643.1L690.3,644.8L690.6,646.5L690.9,648.1L691.2,649.6L691.5,651.0L691.8,652.3L692.1,653.4L692.4,654.4L692.7,655.1L693.0,655.6L693.3,655.9L693.5,656.0L693.6,655.9L693.9,655.7L694.2,655.2L694.5,654.4L694.8,653.5L695.1,652.3L695.4,650.9L695.7,649.4L696.0,647.7L696.3,646.0L696.6,644.1L696.9,642.1L697.2,640.0L697.5,637.9L697.8,635.8L698.1,633.6L698.4,631.5L698.7,629.4L699.0,627.3L699.3,625.3L699.7,623.4L700.0,621.6L700.3,619.9L700.6,618.4L700.9,617.0L701.2,615.8L701.5,614.8L701.8,614.0L702.1,613.4L702.4,613.1L702.6,613.0L702.7,613.1L703.0,613.4L703.3,614.0L703.6,614.9L703.9,616.0L704.2,617.3L704.5,618.8L704.8,620.4L705.1,622.2L705.4,624.0L705.7,625.8L706.0,627.6L706.3,629.3L706.6,631.0L706.9,632.6L707.2,634.0L707.5,635.3L707.8,636.3L708.1,637.1L708.4,637.6L708.7,637.8L708.7,637.8L709.0,637.7L709.3,637.5L709.6,637.3L709.9,637.0L710.2,636.6L710.5,636.2L710.8,635.7L711.1,635.3L711.4,634.9L711.7,634.4L712.0,634.1L712.3,633.7L712.7,633.5L713.0,633.3L713.3,633.2L713.3,633.2L713.6,633.3L713.9,633.6L714.2,634.1L714.5,634.8L714.8,635.7L715.1,636.8L715.4,638.0L715.7,639.3L716.0,640.7L716.3,642.2L716.6,643.7L716.9,645.3L717.2,646.8L717.5,648.4L717.8,649.9L718.1,651.4L718.4,652.8L718.7,654.2L719.0,655.4L719.3,656.5L719.6,657.4L719.9,658.2L720.2,658.7L720.5,659.1L720.8,659.2L720.8,659.2L721.1,659.2L721.4,659.2L721.7,659.2L722.0,659.1L722.3,659.1L722.6,659.0L722.9,658.9L723.2,658.9L723.5,658.8L723.8,658.7L724.1,658.6L724.4,658.5L724.7,658.4L725.0,658.2L725.4,658.1L725.7,658.0L726.0,657.8L726.3,657.7L726.6,657.5L726.9,657.3L727.0,657.2L727.2,657.1L727.5,656.4L727.8,655.4L728.1,654.0L728.4,652.3L728.7,650.3L729.0,648.1L729.3,645.7L729.6,643.1L729.9,640.3L730.2,637.5L730.5,634.6L730.8,631.7L731.1,628.7L731.4,625.9L731.7,623.1L732.0,620.4L732.3,617.8L732.6,615.5L732.9,613.3L733.2,611.5L733.5,609.9L733.8,608.6L734.1,607.8L734.4,607.3L734.6,607.2L734.7,607.3L735.0,608.3L735.3,610.2L735.6,612.8L735.9,616.0L736.2,619.5L736.5,623.2L736.8,626.9L737.1,630.3L737.4,633.3L737.7,635.6L738.0,637.2L738.4,637.8L738.4,637.8L738.7,636.5L739.0,633.2L739.3,628.2L739.6,622.1L739.9,615.4L740.2,608.6L740.5,602.2L740.8,596.7L741.1,592.6L741.4,590.5L741.5,590.3L741.7,590.6L742.0,592.3L742.3,595.3L742.6,599.4L742.9,604.3L743.2,609.9L743.5,615.9L743.8,622.1L744.1,628.2L744.4,634.1L744.7,639.4L745.0,644.1L745.3,647.8L745.6,650.3L745.9,651.4L746.0,651.4L746.2,651.2L746.5,650.6L746.8,649.6L747.1,648.3L747.4,646.6L747.7,644.8L748.0,642.9L748.3,640.9L748.6,639.0L748.9,637.1L749.2,635.3L749.5,633.8L749.8,632.6L750.1,631.7L750.4,631.3L750.6,631.2L750.7,631.4L751.1,632.2L751.4,633.6L751.7,635.5L752.0,637.5L752.3,639.7L752.6,641.7L752.9,643.5L753.2,644.8L753.5,645.5L753.6,645.5L753.8,645.5L754.1,644.9L754.4,644.0L754.7,642.8L755.0,641.3L755.3,639.7L755.6,638.1L755.9,636.4L756.2,634.9L756.5,633.5L756.8,632.4L757.1,631.6L757.4,631.3L757.5,631.2L757.7,631.4L758.0,631.8L758.3,632.6L758.6,633.7L758.9,635.0L759.2,636.5L759.5,638.2L759.8,640.0L760.1,641.9L760.4,643.9L760.7,645.8L761.0,647.7L761.3,649.6L761.6,651.3L761.9,652.9L762.2,654.3L762.5,655.5L762.8,656.4L763.1,657.0L763.4,657.2L763.5,657.2L763.8,657.1L764.1,656.5L764.4,655.6L764.7,654.3L765.0,652.8L765.3,651.0L765.6,649.0L765.9,646.8L766.2,644.6L766.5,642.3L766.8,639.9L767.1,637.6L767.4,635.4L767.7,633.2L768.0,631.3L768.3,629.5L768.6,628.0L768.9,626.8L769.2,626.0L769.5,625.5L769.7,625.4L769.8,625.4L770.1,625.9L770.4,626.8L770.7,628.1L771.0,629.7L771.3,631.5L771.6,633.6L771.9,635.8L772.2,638.1L772.5,640.4L772.8,642.7L773.1,644.9L773.4,647.0L773.7,648.8L774.0,650.3L774.3,651.5L774.6,652.3L774.9,652.7L775.0,652.7L775.2,652.6L775.5,652.4L775.8,651.9L776.1,651.4L776.4,650.7L776.8,650.1L777.1,649.4L777.4,648.7L777.7,648.0L778.0,647.5L778.3,647.1L778.6,646.9L778.7,646.9L778.9,646.9L779.2,647.2L779.5,647.8L779.8,648.7L780.1,649.7L780.4,650.8L780.7,652.1L781.0,653.3L781.3,654.4L781.6,655.4L781.9,656.3L782.2,656.9L782.5,657.2L782.6,657.2L782.8,657.2L783.1,656.7L783.4,655.8L783.7,654.5L784.0,653.0L784.3,651.2L784.6,649.1L784.9,646.9L785.2,644.6L785.5,642.3L785.8,639.9L786.1,637.5L786.4,635.3L786.7,633.1L787.0,631.1L787.3,629.3L787.6,627.8L787.9,626.7L788.2,625.8L788.5,625.4L788.7,625.4L788.8,625.5L789.1,626.1L789.5,627.2L789.8,628.7L790.1,630.6L790.4,632.7L790.7,635.1L791.0,637.6L791.3,640.2L791.6,642.8L791.9,645.3L792.2,647.7L792.5,650.0L792.8,651.9L793.1,653.6L793.4,654.9L793.7,655.7L794.0,656.0L794.0,656.0L794.3,655.9L794.6,655.8L794.9,655.7L795.2,655.5L795.5,655.3L795.8,655.0L796.1,654.7L796.4,654.4L796.7,654.0L797.0,653.6L797.3,653.2L797.6,652.7L797.9,652.3L798.2,651.8L798.5,651.3L798.8,650.8L798.8,650.7L799.1,650.0L799.4,649.0L799.7,647.7L800.0,646.1L800.3,644.3L800.6,642.4L800.9,640.4L801.2,638.4L801.5,636.4L801.8,634.5L802.1,632.6L802.5,631.0L802.8,629.5L803.1,628.3L803.4,627.4L803.7,626.8L803.9,626.7L804.0,626.7L804.3,627.0L804.6,627.8L804.9,629.0L805.2,630.4L805.5,632.2L805.8,634.1L806.1,636.2L806.4,638.4L806.7,640.6L807.0,642.8L807.3,644.9L807.6,646.9L807.9,648.6L808.2,650.2L808.5,651.4L808.8,652.2L809.1,652.7L809.2,652.7L809.4,652.7L809.7,652.4L810.0,651.9L810.3,651.3L810.6,650.6L810.9,649.8L811.2,649.0L811.5,648.1L811.8,647.4L812.1,646.7L812.4,646.1L812.7,645.7L813.0,645.6L813.1,645.5L813.3,645.7L813.6,646.2L813.9,647.1L814.2,648.3L814.5,649.7L814.8,651.3L815.2,652.9L815.5,654.7L815.8,656.4L816.1,658.0L816.4,659.5L816.7,660.9L817.0,661.9L817.3,662.7L817.6,663.1L817.7,663.1L817.9,663.1L818.2,663.0L818.5,662.9L818.8,662.7L819.1,662.5L819.4,662.3L819.7,662.0L820.0,661.7L820.3,661.5L820.6,661.2L820.9,660.9L821.2,660.7L821.5,660.5L821.6,660.5L821.8,660.4L822.1,660.2L822.4,660.0L822.7,659.9L823.0,659.7L823.3,659.5L823.6,659.3L823.9,659.2L824.2,659.0L824.5,658.8L824.8,658.7L825.1,658.5L825.4,658.4L825.7,658.2L826.0,658.1L826.3,657.9L826.6,657.8L826.9,657.7L827.2,657.6L827.5,657.5L827.8,657.4L828.2,657.4L828.5,657.3L828.8,657.3L829.1,657.3L829.3,657.2L829.4,657.2L829.7,657.2L830.0,657.2L830.3,657.2L830.6,657.2L830.9,657.2L831.2,657.2L831.5,657.2L831.8,657.2L832.1,657.2L832.4,657.2L832.7,657.2L833.0,657.2L833.3,657.2L833.6,657.2L833.9,657.2L834.2,657.2L834.5,657.2L834.8,657.2L835.1,657.2L835.4,657.2L835.7,657.2L836.0,657.2L836.3,657.2L836.6,657.2L836.9,657.2L837.2,657.2L837.5,657.2L837.8,657.2L838.1,657.2L838.4,657.2L838.7,657.2L839.0,657.2L839.3,657.2L839.6,657.2L839.9,657.2L840.2,657.2L840.5,657.2L840.9,657.2L841.2,657.2L841.5,657.2L841.8,657.2L842.1,657.2L842.4,657.2L842.7,657.2L843.0,657.2L843.3,657.2L843.6,657.2L843.9,657.2L844.2,657.2L844.5,657.2L844.8,657.2L845.1,657.2L845.4,657.2L845.7,657.2L846.0,657.2L846.3,657.2L846.6,657.2L846.7,657.2L846.9,657.2L847.2,657.2L847.5,657.2L847.8,657.2L848.1,657.1L848.4,657.0L848.7,657.0L849.0,656.9L849.3,656.8L849.6,656.6L849.9,656.5L850.2,656.4L850.5,656.2L850.8,656.1L851.1,655.9L851.4,655.7L851.7,655.6L852.0,655.4L852.3,655.2L852.6,655.0L852.9,654.8L853.2,654.5L853.6,654.3L853.9,654.1L854.2,653.9L854.5,653.6L854.8,653.4L855.1,653.1L855.4,652.9L855.7,652.6L856.0,652.4L856.3,652.1L856.6,651.9L856.9,651.6L857.2,651.3L857.5,651.1L857.8,650.8L858.1,650.5L858.4,650.3L858.7,650.0L859.0,649.7L859.3,649.5L859.6,649.2L859.9,649.0L860.2,648.7L860.5,648.5L860.8,648.2L861.1,648.0L861.4,647.7L861.7,647.5L862.0,647.3L862.3,647.0L862.6,646.8L862.9,646.6L863.2,646.4L863.5,646.2L863.8,646.0L864.1,645.8L864.4,645.6L864.7,645.5L865.0,645.3L865.3,645.2L865.6,645.0L865.9,644.9L866.2,644.8L866.6,644.7L866.9,644.6L867.2,644.5L867.5,644.4L867.8,644.4L868.1,644.3L868.4,644.3L868.7,644.3L869.0,644.2L869.0,644.2L869.3,644.3L869.6,644.3L869.9,644.3L870.2,644.4L870.5,644.5L870.8,644.6L871.1,644.7L871.4,644.8L871.7,645.0L872.0,645.1L872.3,645.3L872.6,645.5L872.9,645.7L873.2,645.9L873.5,646.1L873.8,646.3L874.1,646.5L874.4,646.7L874.7,647.0L875.0,647.2L875.3,647.5L875.6,647.7L875.9,647.9L876.2,648.2L876.5,648.4L876.8,648.7L877.1,648.9L877.4,649.2L877.7,649.4L878.0,649.6L878.3,649.9L878.6,650.1L878.9,650.3L879.3,650.5L879.6,650.7L879.6,650.8L879.9,650.9L880.2,651.1L880.5,651.3L880.8,651.5L881.1,651.8L881.4,652.0L881.7,652.2L882.0,652.5L882.3,652.7L882.6,653.0L882.9,653.3L883.2,653.5L883.5,653.8L883.8,654.1L884.1,654.3L884.4,654.6L884.7,654.9L885.0,655.1L885.3,655.4L885.6,655.7L885.9,655.9L886.2,656.2L886.5,656.5L886.8,656.7L887.1,657.0L887.4,657.2L887.7,657.5L888.0,657.7L888.3,658.0L888.6,658.2L888.9,658.4L889.2,658.6L889.5,658.8L889.8,659.0L890.1,659.2L890.4,659.4L890.7,659.5L891.0,659.7L891.3,659.8L891.6,660.0L891.9,660.1L892.3,660.2L892.6,660.3L892.9,660.4L893.2,660.4L893.5,660.5L893.8,660.5L894.1,660.5L894.1,660.5L894.4,660.5L894.7,660.5L895.0,660.5L895.3,660.4L895.6,660.4L895.9,660.3L896.2,660.3L896.5,660.2L896.8,660.1L897.1,660.1L897.4,660.0L897.7,659.9L898.0,659.9L898.0,659.8L898.3,659.8L898.6,659.7L898.9,659.5L899.2,659.4L899.5,659.2L899.8,659.1L900.1,658.9L900.4,658.7L900.7,658.4L901.0,658.2L901.3,657.9L901.6,657.7L901.9,657.4L902.2,657.1L902.5,656.8L902.8,656.5L903.1,656.2L903.4,655.9L903.7,655.5L904.0,655.2L904.3,654.8L904.6,654.5L905.0,654.1L905.3,653.8L905.6,653.4L905.9,653.0L906.2,652.7L906.5,652.3L906.8,651.9L907.1,651.6L907.4,651.2L907.7,650.8L908.0,650.5L908.3,650.1L908.6,649.7L908.9,649.4L909.2,649.0L909.5,648.7L909.8,648.4L910.1,648.0L910.4,647.7L910.7,647.4L911.0,647.1L911.3,646.8L911.6,646.6L911.9,646.3L912.2,646.0L912.5,645.8L912.8,645.6L913.1,645.4L913.4,645.2L913.7,645.0L914.0,644.8L914.3,644.7L914.6,644.6L914.9,644.5L915.2,644.4L915.5,644.3L915.8,644.3L916.1,644.3L916.3,644.2L916.4,644.3L916.7,644.3L917.0,644.4L917.3,644.6L917.6,644.8L918.0,645.1L918.3,645.4L918.6,645.7L918.9,646.0L919.2,646.4L919.5,646.8L919.8,647.2L920.1,647.6L920.4,648.0L920.7,648.4L921.0,648.8L921.0,648.8L921.3,649.2L921.6,649.8L921.9,650.4L922.2,651.0L922.5,651.7L922.8,652.5L923.1,653.3L923.4,654.2L923.7,655.0L924.0,655.9L924.3,656.7L924.6,657.6L924.9,658.4L925.2,659.2L925.5,659.9L925.8,660.6L926.1,661.2L926.4,661.8L926.7,662.2L927.0,662.6L927.3,662.9L927.6,663.1L927.9,663.1L927.9,663.1L928.2,663.0L928.5,662.9L928.8,662.7L929.1,662.4L929.4,662.0L929.7,661.6L930.0,661.1L930.3,660.6L930.7,660.0L931.0,659.5L931.3,658.9L931.6,658.3L931.9,657.7L932.2,657.1L932.5,656.5L932.8,655.9L933.1,655.3L933.4,654.8L933.7,654.3L934.0,653.9L934.3,653.5L934.6,653.2L934.9,653.0L935.2,652.8L935.5,652.7L935.6,652.7L935.8,652.7L936.1,652.7L936.4,652.8L936.7,652.8L937.0,652.9L937.3,653.0L937.6,653.2L937.9,653.3L938.2,653.4L938.5,653.6L938.8,653.8L939.1,654.0L939.4,654.2L939.7,654.4L940.0,654.6L940.3,654.8L940.6,655.0L940.9,655.3L941.2,655.5L941.5,655.7L941.8,655.9L942.1,656.2L942.4,656.4L942.7,656.6L943.0,656.8L943.4,657.0L943.7,657.2L944.0,657.4L944.3,657.6L944.6,657.8L944.9,657.9L945.2,658.1L945.5,658.2L945.8,658.3L946.1,658.4L946.4,658.5L946.7,658.5L947.0,658.5L947.2,658.5L947.3,658.5L947.6,658.5L947.9,658.5L948.2,658.5L948.5,658.5L948.8,658.5L949.1,658.5L949.4,658.5L949.7,658.4L950.0,658.4L950.3,658.4L950.6,658.3L950.9,658.3L951.2,658.3L951.5,658.2L951.8,658.2L952.1,658.2L952.4,658.1L952.7,658.1L953.0,658.0L953.3,658.0L953.6,658.0L953.9,657.9L954.2,657.9L954.5,657.8L954.8,657.8L955.1,657.7L955.4,657.7L955.7,657.7L956.0,657.6L956.4,657.6L956.7,657.5L957.0,657.5L957.3,657.5L957.6,657.4L957.9,657.4L958.2,657.4L958.5,657.3L958.8,657.3L959.1,657.3L959.4,657.3L959.7,657.3L960.0,657.3L960.3,657.3L960.6,657.3L960.8,657.2L960.9,657.3L961.2,657.3L961.5,657.3L961.8,657.4L962.1,657.4L962.4,657.5L962.7,657.6L963.0,657.7L963.3,657.8L963.6,658.0L963.9,658.1L964.2,658.3L964.5,658.4L964.8,658.6L965.1,658.8L965.4,659.0L965.7,659.2L966.0,659.4L966.3,659.6L966.6,659.8L966.9,660.0L967.2,660.2L967.5,660.4L967.8,660.7L968.1,660.9L968.4,661.1L968.5,661.1L968.7,661.3L969.1,661.6L969.4,661.9L969.7,662.1L970.0,662.4L970.3,662.8L970.6,663.1L970.9,663.5L971.2,663.8L971.5,664.2L971.8,664.6L972.1,665.0L972.4,665.5L972.7,665.9L973.0,666.3L973.3,666.8L973.6,667.3L973.9,667.7L974.2,668.2L974.5,668.7L974.8,669.2L975.1,669.7L975.4,670.2L975.4,670.3" fill="none" stroke="#6a2f96" stroke-width="3.0" stroke-linejoin="round" stroke-linecap="round"/>
<g fill="#000">
<use href="#mu" x="206.5" y="570.7"/>
<polygon points="220.1,593.0 224.3,600.9 233.4,600.9 225.7,607.7 228.2,616.2 220.1,611.4 212.0,616.2 214.5,607.7 206.8,600.9 215.9,600.9"/>
<polygon points="303.4,555.0 307.6,562.9 316.7,562.9 309.0,569.7 311.5,578.2 303.4,573.4 295.3,578.2 297.8,569.7 290.1,562.9 299.2,562.9"/>
<use href="#mu" x="324.1" y="445.7"/>
<polygon points="349.0,16.7 353.2,24.6 362.3,24.6 354.6,31.4 357.1,39.9 349.0,35.1 340.9,39.9 343.4,31.4 335.7,24.6 344.8,24.6"/>
<polygon points="389.9,204.9 394.1,212.8 403.2,212.8 395.5,219.6 398.0,228.1 389.9,223.3 381.8,228.1 384.3,219.6 376.6,212.8 385.7,212.8"/>
<use href="#mu" x="377.6" y="592.6"/>
<use href="#mu" x="409.2" y="556.8"/>
<polygon points="423.0,520.1 427.2,528.0 436.3,528.0 428.6,534.8 431.1,543.3 423.0,538.5 414.9,543.3 417.4,534.8 409.7,528.0 418.8,528.0"/>
<polygon points="434.7,431.7 438.9,439.6 448.0,439.6 440.3,446.4 442.8,454.9 434.7,450.1 426.6,454.9 429.1,446.4 421.4,439.6 430.5,439.6"/>
<use href="#mu" x="454.6" y="627.7"/>
<polygon points="475.2,603.9 479.4,611.8 488.5,611.8 480.8,618.6 483.3,627.1 475.2,622.3 467.1,627.1 469.6,618.6 461.9,611.8 471.0,611.8"/>
<use href="#mu" x="483.9" y="597.2"/>
<polygon points="502.0,467.9 506.2,475.8 515.3,475.8 507.6,482.6 510.1,491.1 502.0,486.3 493.9,491.1 496.4,482.6 488.7,475.8 497.8,475.8"/>
<use href="#mu" x="522.0" y="617.7"/>
<polygon points="547.9,594.4 552.1,602.3 561.2,602.3 553.5,609.1 556.0,617.6 547.9,612.8 539.8,617.6 542.3,609.1 534.6,602.3 543.7,602.3"/>
<polygon points="563.2,605.7 567.4,613.6 576.5,613.6 568.8,620.4 571.3,628.9 563.2,624.1 555.1,628.9 557.6,620.4 549.9,613.6 559.0,613.6"/>
<polygon points="602.8,537.1 607.0,545.0 616.1,545.0 608.4,551.8 610.9,560.3 602.8,555.5 594.7,560.3 597.2,551.8 589.5,545.0 598.6,545.0"/>
<polygon points="616.9,520.8 621.1,528.7 630.2,528.7 622.5,535.5 625.0,544.0 616.9,539.2 608.8,544.0 611.3,535.5 603.6,528.7 612.7,528.7"/>
<polygon points="626.8,569.2 631.0,577.1 640.1,577.1 632.4,583.9 634.9,592.4 626.8,587.6 618.7,592.4 621.2,583.9 613.5,577.1 622.6,577.1"/>
<polygon points="660.0,575.3 664.2,583.2 673.3,583.2 665.6,590.0 668.1,598.5 660.0,593.7 651.9,598.5 654.4,590.0 646.7,583.2 655.8,583.2"/>
<polygon points="679.4,568.0 683.6,575.9 692.7,575.9 685.0,582.7 687.5,591.2 679.4,586.4 671.3,591.2 673.8,582.7 666.1,575.9 675.2,575.9"/>
<use href="#mu" x="701.8" y="605.6"/>
<polygon points="716.3,603.9 720.5,611.8 729.6,611.8 721.9,618.6 724.4,627.1 716.3,622.3 708.2,627.1 710.7,618.6 703.0,611.8 712.1,611.8"/>
<polygon points="730.8,579.9 735.0,587.8 744.1,587.8 736.4,594.6 738.9,603.1 730.8,598.3 722.7,603.1 725.2,594.6 717.5,587.8 726.6,587.8"/>
<use href="#mu" x="742.9" y="576.6"/>
<polygon points="753.6,601.9 757.8,609.8 766.9,609.8 759.2,616.6 761.7,625.1 753.6,620.3 745.5,625.1 748.0,616.6 740.3,609.8 749.4,609.8"/>
<polygon points="770.0,585.6 774.2,593.5 783.3,593.5 775.6,600.3 778.1,608.8 770.0,604.0 761.9,608.8 764.4,600.3 756.7,593.5 765.8,593.5"/>
<use href="#mu" x="787.9" y="617.0"/>
<polygon points="805.1,593.9 809.3,601.8 818.4,601.8 810.7,608.6 813.2,617.1 805.1,612.3 797.0,617.1 799.5,608.6 791.8,601.8 800.9,601.8"/>
<use href="#mu" x="814.6" y="634.4"/>
<polygon points="869.0,615.0 873.2,622.9 882.3,622.9 874.6,629.7 877.1,638.2 869.0,633.4 860.9,638.2 863.4,629.7 855.7,622.9 864.8,622.9"/>
<polygon points="915.1,616.0 919.3,623.9 928.4,623.9 920.7,630.7 923.2,639.2 915.1,634.4 907.0,639.2 909.5,630.7 901.8,623.9 910.9,623.9"/>
<use href="#mu" x="937.2" y="645.0"/>
</g>
<g stroke="#000" stroke-width="3" fill="none">
<rect x="128.8" y="10.7" width="846.6" height="682.3"/>
<path d="M128.8,693.0h13.0M975.4,693.0h-13.0M128.8,628.0h6.0M975.4,628.0h-6.0M128.8,563.0h13.0M975.4,563.0h-13.0M128.8,498.0h6.0M975.4,498.0h-6.0M128.8,433.0h13.0M975.4,433.0h-13.0M128.8,368.0h6.0M975.4,368.0h-6.0M128.8,303.0h13.0M975.4,303.0h-13.0M128.8,238.0h6.0M975.4,238.0h-6.0M128.8,173.0h13.0M975.4,173.0h-13.0M128.8,108.0h6.0M975.4,108.0h-6.0M128.8,43.0h13.0M975.4,43.0h-13.0M189.3,693.0v-6.5M249.7,693.0v-13.5M310.2,693.0v-6.5M370.7,693.0v-13.5M431.2,693.0v-6.5M491.6,693.0v-13.5M552.1,693.0v-6.5M612.6,693.0v-13.5M673.0,693.0v-6.5M733.5,693.0v-13.5M794.0,693.0v-6.5M854.5,693.0v-13.5M914.9,693.0v-6.5" stroke-linecap="butt"/>
</g>
<g font-size="45" fill="#000">
<text x="117.8" y="707.2" text-anchor="end">0</text>
<text x="117.8" y="577.2" text-anchor="end">20</text>
<text x="117.8" y="447.2" text-anchor="end">40</text>
<text x="117.8" y="317.2" text-anchor="end">60</text>
<text x="117.8" y="187.2" text-anchor="end">80</text>
<text x="117.8" y="57.2" text-anchor="end">100</text>
<text x="128.8" y="737.5" text-anchor="middle">10</text>
<text x="249.7" y="737.5" text-anchor="middle">20</text>
<text x="370.7" y="737.5" text-anchor="middle">30</text>
<text x="491.6" y="737.5" text-anchor="middle">40</text>
<text x="612.6" y="737.5" text-anchor="middle">50</text>
<text x="733.5" y="737.5" text-anchor="middle">60</text>
<text x="854.5" y="737.5" text-anchor="middle">70</text>
<text x="975.4" y="737.5" text-anchor="middle">80</text>
</g>
<text font-size="45" transform="translate(44.3,351.9) rotate(-90)" text-anchor="middle">Relative intensity (%)</text>
<text font-size="45" x="552.1" y="782.5" text-anchor="middle">2<tspan class="sf">&#952;</tspan> (&#176;)</text>
<text font-size="59" x="148.8" y="70.1">(a)</text>
<text font-size="35" x="959.9" y="40.2" text-anchor="end" fill="#6a2f96">C0, 1650°C</text>
<polygon points="511.0,69.1 515.0,77.1 523.7,77.1 516.3,84.1 518.7,92.7 511.0,87.8 503.2,92.7 505.6,84.1 498.2,77.1 506.9,77.1" fill="#000"/>
<text x="535.3" y="93.1" font-size="35.5">ZrO<tspan font-size="22" dy="8.7">2</tspan><tspan dy="-8.7"> monoclinic</tspan></text>
<use href="#mu" x="506.4" y="143.6"/><text x="524.3" y="144.6" font-size="35.5">Mullite</text>
<g stroke="#7f7f7f" stroke-width="1.9" stroke-dasharray="8.2 8.2" fill="none">
<line x1="1134.0" y1="565.0" x2="1980.6" y2="565.0"/>
<line x1="1134.0" y1="435.0" x2="1980.6" y2="435.0"/>
<line x1="1134.0" y1="305.0" x2="1980.6" y2="305.0"/>
<line x1="1134.0" y1="175.0" x2="1980.6" y2="175.0"/>
<line x1="1134.0" y1="45.0" x2="1980.6" y2="45.0"/>
</g>
<path d="M1134.0,668.4L1134.3,668.3L1134.6,668.2L1134.9,668.2L1135.2,668.1L1135.5,668.1L1135.8,668.0L1136.1,668.0L1136.4,667.9L1136.7,667.8L1137.0,667.8L1137.3,667.7L1137.6,667.7L1137.9,667.6L1138.2,667.5L1138.5,667.5L1138.8,667.4L1139.1,667.3L1139.4,667.3L1139.7,667.2L1140.0,667.2L1140.3,667.1L1140.7,667.0L1141.0,667.0L1141.3,666.9L1141.6,666.8L1141.9,666.8L1142.2,666.7L1142.5,666.6L1142.8,666.6L1143.1,666.5L1143.4,666.4L1143.7,666.4L1144.0,666.3L1144.3,666.2L1144.6,666.2L1144.9,666.1L1145.2,666.0L1145.5,666.0L1145.8,665.9L1146.1,665.8L1146.4,665.8L1146.7,665.7L1147.0,665.6L1147.3,665.6L1147.6,665.5L1147.9,665.4L1148.2,665.3L1148.5,665.3L1148.8,665.2L1149.1,665.1L1149.2,665.1L1149.4,665.1L1149.7,665.0L1150.0,664.9L1150.3,664.8L1150.6,664.7L1150.9,664.7L1151.2,664.6L1151.5,664.5L1151.8,664.4L1152.1,664.3L1152.4,664.2L1152.7,664.1L1153.0,664.0L1153.4,663.9L1153.7,663.8L1154.0,663.8L1154.3,663.7L1154.6,663.6L1154.9,663.5L1155.2,663.4L1155.5,663.3L1155.8,663.2L1156.1,663.1L1156.4,663.0L1156.7,662.9L1157.0,662.8L1157.3,662.8L1157.6,662.7L1157.9,662.6L1158.2,662.5L1158.5,662.4L1158.8,662.4L1159.1,662.3L1159.4,662.2L1159.7,662.2L1160.0,662.1L1160.3,662.0L1160.6,662.0L1160.9,661.9L1161.2,661.9L1161.5,661.9L1161.5,661.8L1161.8,661.8L1162.1,661.8L1162.4,661.7L1162.7,661.7L1163.0,661.7L1163.3,661.6L1163.6,661.6L1163.9,661.6L1164.2,661.5L1164.5,661.5L1164.8,661.5L1165.1,661.5L1165.4,661.4L1165.7,661.4L1166.0,661.4L1166.4,661.4L1166.7,661.4L1167.0,661.3L1167.3,661.3L1167.6,661.3L1167.9,661.3L1168.2,661.3L1168.5,661.2L1168.8,661.2L1169.1,661.2L1169.4,661.2L1169.7,661.1L1170.0,661.1L1170.3,661.1L1170.6,661.1L1170.9,661.1L1171.2,661.0L1171.5,661.0L1171.8,661.0L1172.1,660.9L1172.4,660.9L1172.7,660.9L1173.0,660.8L1173.3,660.8L1173.6,660.8L1173.9,660.7L1174.2,660.7L1174.5,660.6L1174.8,660.6L1175.1,660.5L1175.1,660.5L1175.4,660.5L1175.7,660.4L1176.0,660.3L1176.3,660.2L1176.6,660.0L1176.9,659.9L1177.2,659.7L1177.5,659.6L1177.8,659.4L1178.1,659.2L1178.4,659.0L1178.7,658.8L1179.1,658.6L1179.4,658.3L1179.7,658.1L1180.0,657.9L1180.3,657.7L1180.6,657.5L1180.9,657.3L1181.2,657.1L1181.5,656.9L1181.8,656.8L1182.1,656.6L1182.4,656.5L1182.7,656.3L1183.0,656.2L1183.3,656.1L1183.6,656.1L1183.9,656.0L1184.2,656.0L1184.3,656.0L1184.5,656.0L1184.8,656.0L1185.1,656.0L1185.4,656.0L1185.7,656.0L1186.0,656.0L1186.3,656.1L1186.6,656.1L1186.9,656.1L1187.2,656.1L1187.5,656.1L1187.8,656.2L1188.1,656.2L1188.4,656.2L1188.7,656.2L1189.0,656.3L1189.3,656.3L1189.6,656.3L1189.9,656.4L1190.2,656.4L1190.5,656.4L1190.8,656.4L1191.1,656.5L1191.4,656.5L1191.8,656.5L1192.1,656.5L1192.4,656.6L1192.7,656.6L1193.0,656.6L1193.3,656.6L1193.6,656.6L1193.9,656.6L1194.2,656.6L1194.5,656.6L1194.8,656.6L1195.0,656.6L1195.1,656.6L1195.4,656.6L1195.7,656.6L1196.0,656.5L1196.3,656.3L1196.6,656.2L1196.9,656.0L1197.2,655.8L1197.5,655.6L1197.8,655.4L1198.1,655.2L1198.4,654.9L1198.7,654.7L1199.0,654.4L1199.3,654.1L1199.6,653.9L1199.9,653.6L1200.2,653.4L1200.5,653.1L1200.8,652.9L1201.0,652.8L1201.1,652.7L1201.4,652.4L1201.7,652.1L1202.0,651.8L1202.3,651.4L1202.6,651.1L1202.9,650.8L1203.2,650.5L1203.5,650.2L1203.8,649.9L1204.1,649.7L1204.4,649.6L1204.8,649.5L1204.9,649.5L1205.1,649.6L1205.4,650.0L1205.7,650.7L1206.0,651.6L1206.3,652.5L1206.6,653.3L1206.9,653.8L1207.2,654.0L1207.2,654.0L1207.5,653.2L1207.8,650.9L1208.1,647.4L1208.4,643.0L1208.7,638.0L1209.0,632.6L1209.3,627.3L1209.5,624.1L1209.6,621.8L1209.9,613.9L1210.2,604.9L1210.5,596.9L1210.8,592.1L1210.9,591.6L1211.1,592.2L1211.4,595.2L1211.7,600.1L1212.0,606.2L1212.3,612.6L1212.5,616.4L1212.6,619.1L1212.9,628.5L1213.2,639.5L1213.5,649.8L1213.8,657.1L1214.1,659.2L1214.1,659.2L1214.4,658.8L1214.7,657.9L1215.0,656.6L1215.3,655.0L1215.6,653.4L1215.9,651.8L1216.2,650.3L1216.5,649.1L1216.8,648.4L1217.1,648.2L1217.1,648.2L1217.5,648.3L1217.8,648.6L1218.1,649.0L1218.4,649.4L1218.7,649.9L1219.0,650.4L1219.3,650.8L1219.6,651.2L1219.9,651.4L1220.1,651.5L1220.2,651.4L1220.5,650.9L1220.8,649.8L1221.1,648.2L1221.4,646.2L1221.7,644.2L1222.0,642.2L1222.3,640.4L1222.6,639.0L1222.9,638.0L1223.1,637.8L1223.2,637.8L1223.5,638.1L1223.8,638.8L1224.1,639.7L1224.4,640.8L1224.7,641.8L1225.0,642.8L1225.3,643.5L1225.4,643.6L1225.6,643.9L1225.9,644.3L1226.2,644.6L1226.5,645.0L1226.8,645.3L1227.1,645.6L1227.4,646.0L1227.7,646.3L1228.0,646.5L1228.3,646.8L1228.6,647.1L1228.9,647.3L1229.2,647.6L1229.5,647.8L1229.8,648.0L1230.1,648.2L1230.5,648.4L1230.8,648.5L1231.1,648.7L1231.4,648.9L1231.7,649.0L1232.0,649.1L1232.3,649.2L1232.6,649.4L1232.9,649.4L1233.1,649.5L1233.2,649.5L1233.5,649.6L1233.8,649.7L1234.1,649.8L1234.4,649.9L1234.7,649.9L1235.0,650.0L1235.3,650.1L1235.6,650.2L1235.9,650.2L1236.2,650.3L1236.5,650.3L1236.8,650.4L1237.1,650.5L1237.4,650.5L1237.7,650.6L1238.0,650.6L1238.3,650.6L1238.6,650.7L1238.9,650.7L1239.2,650.7L1239.5,650.8L1239.8,650.8L1240.1,650.8L1240.4,650.8L1240.7,650.8L1240.7,650.8L1241.0,650.8L1241.3,650.8L1241.6,650.8L1241.9,650.7L1242.2,650.7L1242.5,650.7L1242.8,650.7L1243.2,650.6L1243.5,650.6L1243.8,650.5L1244.1,650.5L1244.4,650.4L1244.7,650.4L1245.0,650.3L1245.3,650.2L1245.6,650.2L1245.9,650.1L1246.2,650.0L1246.5,650.0L1246.8,649.9L1247.1,649.8L1247.4,649.7L1247.7,649.7L1248.0,649.6L1248.3,649.5L1248.6,649.4L1248.9,649.3L1249.2,649.3L1249.5,649.2L1249.8,649.1L1250.1,649.0L1250.4,649.0L1250.7,648.9L1251.0,648.8L1251.3,648.8L1251.6,648.7L1251.9,648.6L1252.2,648.6L1252.5,648.5L1252.8,648.5L1253.1,648.4L1253.4,648.4L1253.7,648.3L1254.0,648.3L1254.3,648.3L1254.6,648.3L1254.9,648.2L1255.2,648.2L1255.5,648.2L1255.8,648.2L1255.9,648.2L1256.2,648.2L1256.5,648.2L1256.8,648.2L1257.1,648.2L1257.4,648.2L1257.7,648.2L1258.0,648.3L1258.3,648.3L1258.6,648.3L1258.9,648.3L1259.2,648.4L1259.5,648.4L1259.8,648.4L1260.1,648.4L1260.4,648.5L1260.7,648.5L1261.0,648.5L1261.3,648.6L1261.6,648.6L1261.9,648.6L1262.2,648.7L1262.5,648.7L1262.8,648.8L1263.1,648.8L1263.4,648.8L1263.7,648.9L1264.0,648.9L1264.3,649.0L1264.6,649.0L1264.9,649.0L1265.2,649.1L1265.5,649.1L1265.8,649.1L1266.1,649.2L1266.4,649.2L1266.7,649.2L1267.0,649.3L1267.3,649.3L1267.6,649.3L1267.9,649.4L1268.2,649.4L1268.5,649.4L1268.9,649.4L1269.2,649.4L1269.5,649.5L1269.8,649.5L1270.1,649.5L1270.4,649.5L1270.7,649.5L1271.0,649.5L1271.1,649.5L1271.3,649.5L1271.6,649.5L1271.9,649.4L1272.2,649.3L1272.5,649.2L1272.8,649.1L1273.1,649.0L1273.4,648.8L1273.7,648.7L1274.0,648.5L1274.3,648.3L1274.6,648.1L1274.9,647.9L1275.2,647.7L1275.5,647.5L1275.8,647.3L1276.1,647.2L1276.4,647.0L1276.7,646.8L1277.0,646.7L1277.3,646.6L1277.6,646.4L1277.9,646.4L1278.2,646.3L1278.5,646.3L1278.8,646.2L1278.8,646.3L1279.1,646.3L1279.4,646.3L1279.7,646.3L1280.0,646.3L1280.3,646.3L1280.6,646.3L1280.9,646.4L1281.2,646.4L1281.6,646.4L1281.9,646.5L1282.2,646.5L1282.5,646.6L1282.8,646.6L1283.1,646.6L1283.4,646.7L1283.7,646.7L1284.0,646.7L1284.3,646.8L1284.6,646.8L1284.9,646.8L1285.2,646.9L1285.5,646.9L1285.8,646.9L1286.1,646.9L1286.4,646.9L1286.4,646.9L1286.7,646.9L1287.0,646.8L1287.3,646.7L1287.6,646.5L1287.9,646.4L1288.2,646.2L1288.5,646.0L1288.8,645.8L1289.1,645.5L1289.4,645.3L1289.7,645.1L1290.0,645.0L1290.0,644.9L1290.3,644.8L1290.6,644.6L1290.9,644.3L1291.2,644.1L1291.5,643.8L1291.8,643.6L1292.1,643.3L1292.4,643.1L1292.7,642.9L1293.0,642.7L1293.3,642.6L1293.6,642.5L1293.9,642.4L1294.2,642.4L1294.2,642.4L1294.6,642.4L1294.9,642.5L1295.2,642.7L1295.5,643.0L1295.8,643.3L1296.1,643.7L1296.4,644.1L1296.7,644.5L1297.0,645.0L1297.3,645.4L1297.6,645.9L1297.9,646.4L1298.2,646.9L1298.5,647.4L1298.8,647.8L1299.1,648.2L1299.4,648.6L1299.7,648.9L1300.0,649.1L1300.3,649.3L1300.6,649.5L1300.9,649.5L1300.9,649.5L1301.2,647.7L1301.5,642.7L1301.8,635.4L1302.1,626.6L1302.4,617.1L1302.7,607.7L1303.0,600.8L1303.0,599.0L1303.3,588.5L1303.6,576.3L1303.9,564.7L1304.2,556.0L1304.5,552.6L1304.5,552.6L1304.8,559.8L1305.1,576.6L1305.4,596.2L1305.7,611.6L1306.0,616.4L1306.0,616.3L1306.3,614.3L1306.6,610.5L1306.9,605.7L1307.3,601.3L1307.6,598.1L1307.6,598.1L1307.9,596.0L1308.2,594.0L1308.5,592.2L1308.8,591.0L1309.1,590.4L1309.1,590.4L1309.4,592.3L1309.7,599.0L1310.0,608.1L1310.3,617.3L1310.6,624.1L1310.6,624.2L1310.9,629.1L1311.2,634.1L1311.5,638.9L1311.8,643.3L1312.1,646.9L1312.4,649.6L1312.7,651.2L1312.9,651.5L1313.0,651.4L1313.3,651.3L1313.6,650.9L1313.9,650.5L1314.2,649.9L1314.5,649.2L1314.8,648.4L1315.1,647.6L1315.4,646.8L1315.7,645.9L1316.0,645.1L1316.3,644.4L1316.6,643.7L1316.9,643.1L1317.2,642.6L1317.5,642.4L1317.5,642.3L1317.8,642.0L1318.1,641.8L1318.4,641.6L1318.7,641.5L1319.0,641.3L1319.3,641.2L1319.6,641.1L1319.9,641.0L1320.3,640.9L1320.6,640.8L1320.9,640.7L1321.2,640.5L1321.5,640.3L1321.8,640.1L1322.1,639.9L1322.4,639.6L1322.7,639.3L1322.8,639.1L1323.0,638.7L1323.3,637.0L1323.6,634.4L1323.9,630.8L1324.2,626.4L1324.5,621.3L1324.8,615.7L1325.1,609.6L1325.4,603.1L1325.7,596.3L1325.8,593.6L1326.0,588.5L1326.3,576.7L1326.6,562.7L1326.9,548.8L1327.2,537.3L1327.4,532.5L1327.5,530.1L1327.8,525.5L1328.1,521.8L1328.4,518.0L1328.7,513.0L1328.7,513.0L1329.0,504.6L1329.3,492.9L1329.6,480.4L1329.9,469.4L1330.2,462.3L1330.4,461.0L1330.5,461.6L1330.8,467.6L1331.1,478.3L1331.4,491.9L1331.7,506.2L1332.0,516.9L1332.0,519.5L1332.3,534.8L1332.6,552.8L1333.0,571.9L1333.3,590.4L1333.6,606.4L1333.9,618.2L1334.2,624.1L1334.2,624.2L1334.5,626.2L1334.8,627.6L1335.1,628.7L1335.4,629.8L1335.7,631.0L1335.7,631.3L1336.0,632.6L1336.3,634.6L1336.6,636.7L1336.9,639.0L1337.2,641.2L1337.5,643.3L1337.8,645.2L1338.1,646.7L1338.4,647.7L1338.7,648.2L1338.8,648.2L1339.0,648.2L1339.3,648.2L1339.6,648.1L1339.9,648.0L1340.2,647.9L1340.5,647.8L1340.8,647.7L1341.1,647.6L1341.4,647.4L1341.7,647.3L1342.0,647.2L1342.3,647.0L1342.6,646.9L1342.6,646.9L1342.9,646.8L1343.2,646.7L1343.5,646.6L1343.8,646.5L1344.1,646.3L1344.4,646.2L1344.7,646.1L1345.0,645.9L1345.3,645.8L1345.7,645.6L1346.0,645.3L1346.3,645.1L1346.4,645.0L1346.6,644.7L1346.9,643.9L1347.2,642.7L1347.5,641.1L1347.8,639.1L1348.1,636.7L1348.4,633.9L1348.7,630.7L1349.0,627.2L1349.3,623.3L1349.6,619.1L1349.9,614.5L1350.2,609.6L1350.2,608.5L1350.5,603.6L1350.8,594.7L1351.1,582.5L1351.4,566.9L1351.7,547.5L1351.7,547.4L1352.0,508.2L1352.3,444.1L1352.6,371.1L1352.9,305.0L1352.9,305.0L1353.2,239.9L1353.5,168.2L1353.8,103.1L1354.1,57.9L1354.4,45.0L1354.4,46.9L1354.7,103.9L1355.0,205.4L1355.3,305.0L1355.3,305.0L1355.6,403.8L1355.9,506.6L1356.2,572.7L1356.3,578.0L1356.5,591.1L1356.8,603.8L1357.1,613.3L1357.4,620.2L1357.7,625.2L1357.9,626.8L1358.0,628.9L1358.3,632.3L1358.7,635.3L1359.0,637.8L1359.3,640.0L1359.6,641.7L1359.9,642.9L1360.2,643.6L1360.2,643.7L1360.5,644.1L1360.8,644.5L1361.1,644.9L1361.4,645.2L1361.7,645.5L1362.0,645.7L1362.3,646.0L1362.6,646.2L1362.9,646.4L1363.2,646.5L1363.5,646.7L1363.8,646.8L1364.1,647.0L1364.4,647.1L1364.7,647.3L1365.0,647.4L1365.3,647.6L1365.6,647.8L1365.9,648.0L1366.2,648.2L1366.2,648.2L1366.5,648.4L1366.8,648.7L1367.1,649.0L1367.4,649.3L1367.7,649.6L1368.0,649.9L1368.3,650.2L1368.6,650.5L1368.9,650.8L1369.2,651.0L1369.5,651.3L1369.8,651.6L1370.1,651.8L1370.4,652.1L1370.7,652.3L1371.0,652.4L1371.4,652.6L1371.7,652.7L1372.0,652.7L1372.3,652.8L1372.3,652.8L1372.6,652.7L1372.9,652.5L1373.2,652.2L1373.5,651.7L1373.8,651.3L1374.1,650.7L1374.4,650.2L1374.7,649.6L1375.0,649.0L1375.3,648.5L1375.6,648.0L1375.9,647.6L1376.2,647.2L1376.5,647.0L1376.8,646.9L1376.9,646.9L1377.1,646.9L1377.4,647.1L1377.7,647.4L1378.0,647.8L1378.3,648.3L1378.6,648.8L1378.9,649.4L1379.2,649.9L1379.5,650.5L1379.8,651.1L1380.1,651.6L1380.4,652.0L1380.7,652.4L1381.0,652.6L1381.3,652.7L1381.4,652.8L1381.6,652.7L1381.9,652.6L1382.2,652.4L1382.5,652.1L1382.8,651.7L1383.1,651.2L1383.4,650.6L1383.7,649.9L1384.0,649.1L1384.4,648.3L1384.7,647.3L1385.0,646.3L1385.3,645.2L1385.3,645.0L1385.6,643.0L1385.9,638.1L1386.2,631.5L1386.5,624.2L1386.8,617.4L1387.1,611.9L1387.4,608.8L1387.5,608.5L1387.7,608.7L1388.0,609.4L1388.3,610.7L1388.6,612.1L1388.9,613.7L1389.2,615.0L1389.5,616.0L1389.8,616.4L1389.8,616.4L1390.1,613.6L1390.4,606.2L1390.7,595.2L1391.0,581.5L1391.3,566.2L1391.4,563.0L1391.6,545.4L1391.9,512.5L1392.2,473.5L1392.5,434.8L1392.8,402.5L1392.8,402.5L1393.1,373.1L1393.4,343.5L1393.7,320.7L1394.0,311.5L1394.0,311.5L1394.3,349.1L1394.6,430.2L1394.9,507.6L1395.1,532.5L1395.2,540.3L1395.5,556.6L1395.8,569.0L1396.1,578.9L1396.4,587.2L1396.7,593.6L1396.7,595.2L1397.1,603.2L1397.4,610.9L1397.7,618.2L1398.0,624.7L1398.3,630.3L1398.6,634.9L1398.9,638.2L1399.0,639.1L1399.2,640.3L1399.5,642.1L1399.8,643.8L1400.1,645.5L1400.4,646.9L1400.7,648.3L1401.0,649.4L1401.3,650.4L1401.6,651.3L1401.9,651.9L1402.2,652.4L1402.5,652.7L1402.7,652.8L1402.8,652.7L1403.1,652.7L1403.4,652.6L1403.7,652.4L1404.0,652.1L1404.3,651.9L1404.6,651.6L1404.9,651.3L1405.2,650.9L1405.5,650.6L1405.8,650.3L1406.1,650.1L1406.4,649.8L1406.7,649.7L1407.0,649.5L1407.3,649.5L1407.3,649.5L1407.6,649.5L1407.9,649.6L1408.2,649.7L1408.5,649.8L1408.8,650.0L1409.1,650.2L1409.4,650.4L1409.7,650.6L1410.1,650.7L1410.4,650.9L1410.7,651.1L1411.0,651.2L1411.3,651.3L1411.6,651.4L1411.9,651.4L1411.9,651.5L1412.2,649.6L1412.5,642.8L1412.8,632.7L1413.1,620.9L1413.4,609.1L1413.7,599.0L1414.0,592.2L1414.2,590.4L1414.3,590.4L1414.6,591.9L1414.9,595.3L1415.2,599.9L1415.5,605.4L1415.8,611.3L1416.1,617.1L1416.4,622.3L1416.5,624.1L1416.7,626.9L1417.0,632.1L1417.3,637.6L1417.6,643.1L1417.9,648.1L1418.2,652.2L1418.5,655.0L1418.8,656.0L1418.8,656.0L1419.1,655.8L1419.4,655.3L1419.7,654.4L1420.0,653.3L1420.3,651.8L1420.6,650.0L1420.9,648.0L1421.2,645.7L1421.5,643.2L1421.8,640.5L1422.1,637.6L1422.4,634.5L1422.6,633.2L1422.8,630.4L1423.1,622.0L1423.4,610.6L1423.7,597.7L1424.0,584.9L1424.3,573.8L1424.6,566.0L1424.9,563.0L1424.9,563.0L1425.2,563.4L1425.5,564.3L1425.8,565.7L1426.1,567.5L1426.4,569.8L1426.7,572.3L1427.0,575.0L1427.2,576.7L1427.3,578.2L1427.6,584.5L1427.9,592.8L1428.2,600.9L1428.5,606.8L1428.7,608.5L1428.8,608.5L1429.1,608.5L1429.4,608.4L1429.7,608.2L1430.0,608.1L1430.3,607.9L1430.6,607.7L1430.9,607.5L1431.2,607.4L1431.5,607.3L1431.8,607.2L1431.8,607.3L1432.1,608.3L1432.4,610.7L1432.7,614.0L1433.0,618.2L1433.3,622.8L1433.6,627.7L1433.9,632.6L1434.2,637.3L1434.5,641.4L1434.8,644.8L1435.1,647.1L1435.5,648.2L1435.5,648.2L1435.8,646.9L1436.1,642.0L1436.4,634.3L1436.7,624.6L1437.0,613.8L1437.3,602.7L1437.6,592.0L1437.8,584.5L1437.9,582.7L1438.2,572.5L1438.5,560.8L1438.8,548.8L1439.1,537.3L1439.4,527.4L1439.7,519.9L1440.0,516.0L1440.1,515.6L1440.3,517.8L1440.6,529.4L1440.9,547.4L1441.2,567.5L1441.5,585.5L1441.7,593.6L1441.8,598.1L1442.1,609.9L1442.4,621.0L1442.7,630.0L1443.0,635.2L1443.1,635.9L1443.3,636.2L1443.6,636.6L1443.9,637.0L1444.2,637.2L1444.5,637.4L1444.8,637.6L1445.1,637.7L1445.4,637.8L1445.7,638.0L1446.0,638.1L1446.3,638.4L1446.6,638.6L1446.9,639.0L1447.0,639.1L1447.2,639.6L1447.5,640.8L1447.8,642.4L1448.1,644.2L1448.5,646.1L1448.8,648.0L1449.1,649.8L1449.4,651.2L1449.7,652.3L1450.0,652.7L1450.0,652.8L1450.3,652.7L1450.6,652.5L1450.9,652.1L1451.2,651.7L1451.5,651.1L1451.8,650.5L1452.1,649.9L1452.4,649.2L1452.7,648.6L1453.0,648.0L1453.3,647.4L1453.6,646.9L1453.9,646.6L1454.2,646.3L1454.5,646.2L1454.5,646.2L1454.8,646.5L1455.1,647.3L1455.4,648.5L1455.7,649.9L1456.0,651.5L1456.3,653.0L1456.6,654.5L1456.9,655.8L1457.2,656.8L1457.5,657.3L1457.6,657.3L1457.8,657.1L1458.1,655.6L1458.4,653.3L1458.7,650.2L1459.0,646.7L1459.3,643.1L1459.6,639.7L1459.9,636.7L1460.2,634.5L1460.5,633.4L1460.7,633.2L1460.8,633.5L1461.2,635.0L1461.5,637.6L1461.8,640.9L1462.1,644.7L1462.4,648.6L1462.7,652.3L1463.0,655.5L1463.3,657.9L1463.6,659.1L1463.7,659.2L1463.9,659.2L1464.2,659.2L1464.5,659.2L1464.8,659.2L1465.1,659.2L1465.4,659.2L1465.7,659.2L1466.0,659.2L1466.3,659.2L1466.6,659.2L1466.9,659.2L1467.2,659.2L1467.5,659.2L1467.8,659.2L1468.1,659.2L1468.4,659.2L1468.7,659.2L1469.0,659.2L1469.3,659.2L1469.6,659.2L1469.9,659.2L1469.9,659.2L1470.2,659.2L1470.5,659.2L1470.8,659.2L1471.1,659.2L1471.4,659.2L1471.7,659.2L1472.0,659.2L1472.3,659.2L1472.6,659.2L1472.9,659.2L1473.2,659.2L1473.5,659.2L1473.8,659.2L1474.2,659.2L1474.5,659.2L1474.8,659.2L1475.1,659.2L1475.2,659.2L1475.4,659.2L1475.7,658.7L1476.0,657.8L1476.3,656.6L1476.6,655.1L1476.9,653.5L1477.2,651.7L1477.5,649.8L1477.8,648.0L1478.1,646.2L1478.4,644.5L1478.7,643.1L1479.0,641.9L1479.3,641.0L1479.6,640.5L1479.8,640.4L1479.9,640.4L1480.2,640.9L1480.5,641.7L1480.8,642.9L1481.1,644.3L1481.4,645.9L1481.7,647.6L1482.0,649.2L1482.3,650.7L1482.6,652.0L1482.9,653.1L1483.2,653.8L1483.5,654.0L1483.5,654.0L1483.8,653.9L1484.1,653.5L1484.4,652.9L1484.7,652.1L1485.0,651.1L1485.3,650.0L1485.6,648.8L1485.9,647.6L1486.2,646.3L1486.5,645.1L1486.9,643.8L1487.2,642.7L1487.5,641.6L1487.8,640.7L1488.1,640.0L1488.4,639.4L1488.7,639.2L1488.8,639.1L1489.0,639.1L1489.3,639.5L1489.6,640.4L1489.9,641.5L1490.2,643.0L1490.5,644.6L1490.8,646.5L1491.1,648.5L1491.4,650.6L1491.7,652.7L1492.0,654.8L1492.3,656.8L1492.6,658.6L1492.9,660.3L1493.2,661.6L1493.5,662.7L1493.8,663.5L1494.1,663.8L1494.2,663.8L1494.4,663.8L1494.7,663.7L1495.0,663.6L1495.3,663.5L1495.6,663.3L1495.9,663.1L1496.2,662.8L1496.5,662.5L1496.8,662.1L1497.1,661.8L1497.4,661.4L1497.7,660.9L1498.0,660.5L1498.3,660.0L1498.6,659.4L1498.9,658.9L1499.2,658.3L1499.5,657.7L1499.9,657.0L1500.2,656.4L1500.3,656.0L1500.5,655.7L1500.8,654.9L1501.1,653.9L1501.4,652.8L1501.7,651.4L1502.0,649.8L1502.3,647.9L1502.6,645.9L1502.9,643.5L1503.2,640.8L1503.4,639.1L1503.5,637.6L1503.8,631.7L1504.1,623.2L1504.4,612.7L1504.7,601.0L1505.0,588.7L1505.3,576.6L1505.6,565.2L1505.7,563.0L1505.9,553.5L1506.2,539.4L1506.5,525.3L1506.8,513.7L1507.1,507.2L1507.2,506.5L1507.4,509.0L1507.7,521.9L1508.0,541.0L1508.3,560.8L1508.6,576.0L1508.7,578.0L1508.9,584.9L1509.2,593.0L1509.5,600.3L1509.8,606.9L1510.1,612.7L1510.4,617.6L1510.7,621.6L1511.0,624.1L1511.0,624.7L1511.3,627.4L1511.6,629.8L1511.9,632.1L1512.2,634.3L1512.6,636.2L1512.9,638.1L1513.2,639.7L1513.5,641.3L1513.8,642.7L1514.1,644.1L1514.4,645.3L1514.7,646.5L1515.0,647.5L1515.3,648.6L1515.6,649.5L1515.6,649.5L1515.9,650.4L1516.2,651.3L1516.5,652.2L1516.8,653.1L1517.1,654.0L1517.4,654.9L1517.7,655.7L1518.0,656.5L1518.3,657.3L1518.6,658.0L1518.9,658.6L1519.2,659.3L1519.5,659.8L1519.8,660.3L1520.1,660.8L1520.4,661.2L1520.7,661.5L1521.0,661.7L1521.3,661.8L1521.6,661.9L1521.6,661.9L1521.9,661.7L1522.2,661.3L1522.5,660.7L1522.8,659.9L1523.1,658.9L1523.4,657.8L1523.7,656.6L1524.0,655.2L1524.3,653.8L1524.6,652.3L1524.9,650.9L1525.3,649.4L1525.5,648.2L1525.6,647.9L1525.9,646.0L1526.2,643.6L1526.5,640.9L1526.8,638.0L1527.1,635.1L1527.4,632.4L1527.7,630.0L1528.0,628.2L1528.3,627.1L1528.5,626.8L1528.6,626.8L1528.9,627.4L1529.2,628.9L1529.5,631.1L1529.8,633.7L1530.1,636.6L1530.4,639.8L1530.7,642.9L1531.0,645.8L1531.3,648.4L1531.6,650.6L1531.9,652.1L1532.2,652.7L1532.3,652.8L1532.5,652.7L1532.8,652.7L1533.1,652.6L1533.4,652.5L1533.7,652.4L1534.0,652.3L1534.3,652.2L1534.6,652.1L1534.9,651.9L1535.2,651.8L1535.5,651.7L1535.8,651.6L1536.1,651.5L1536.4,651.5L1536.7,651.5L1536.9,651.5L1537.0,651.5L1537.3,651.8L1537.6,652.3L1537.9,652.9L1538.3,653.7L1538.6,654.6L1538.9,655.6L1539.2,656.7L1539.5,657.7L1539.8,658.7L1540.1,659.6L1540.4,660.4L1540.7,661.0L1541.0,661.5L1541.3,661.8L1541.5,661.9L1541.6,661.8L1541.9,661.8L1542.2,661.6L1542.5,661.4L1542.8,661.1L1543.1,660.8L1543.4,660.5L1543.7,660.2L1544.0,659.9L1544.3,659.6L1544.6,659.4L1544.9,659.3L1545.2,659.2L1545.2,659.2L1545.5,659.3L1545.8,659.3L1546.1,659.4L1546.4,659.5L1546.7,659.6L1547.0,659.8L1547.3,660.0L1547.6,660.1L1547.9,660.3L1548.2,660.5L1548.5,660.7L1548.8,660.9L1549.1,661.1L1549.4,661.2L1549.7,661.4L1550.0,661.5L1550.3,661.7L1550.6,661.8L1551.0,661.8L1551.3,661.8L1551.4,661.9L1551.6,661.7L1551.9,661.0L1552.2,659.8L1552.5,658.2L1552.8,656.1L1553.1,653.9L1553.4,651.4L1553.7,648.8L1554.0,646.3L1554.3,643.8L1554.6,641.6L1554.9,639.5L1555.2,637.9L1555.5,636.7L1555.8,636.0L1556.0,635.9L1556.1,635.9L1556.4,636.4L1556.7,637.4L1557.0,638.7L1557.3,640.3L1557.6,642.1L1557.9,644.0L1558.2,645.9L1558.5,647.6L1558.8,649.2L1559.1,650.4L1559.4,651.2L1559.7,651.5L1559.7,651.5L1560.0,651.3L1560.3,650.9L1560.6,650.2L1560.9,649.3L1561.2,648.4L1561.5,647.3L1561.8,646.3L1562.1,645.2L1562.4,644.3L1562.7,643.5L1563.0,642.8L1563.3,642.5L1563.6,642.4L1563.6,642.4L1564.0,642.5L1564.3,642.8L1564.6,643.4L1564.9,644.0L1565.2,644.9L1565.5,645.8L1565.8,646.8L1566.1,648.0L1566.4,649.2L1566.7,650.4L1567.0,651.7L1567.3,652.9L1567.6,654.2L1567.9,655.4L1568.2,656.6L1568.5,657.7L1568.8,658.7L1569.1,659.6L1569.4,660.4L1569.7,661.0L1570.0,661.5L1570.3,661.8L1570.4,661.9L1570.6,662.0L1570.9,662.1L1571.2,662.3L1571.5,662.4L1571.8,662.6L1572.1,662.7L1572.4,662.8L1572.7,663.0L1573.0,663.1L1573.3,663.2L1573.6,663.4L1573.9,663.5L1574.2,663.6L1574.5,663.7L1574.8,663.8L1575.1,663.9L1575.4,664.0L1575.7,664.1L1576.0,664.2L1576.3,664.3L1576.7,664.3L1577.0,664.4L1577.3,664.5L1577.6,664.5L1577.9,664.6L1578.2,664.7L1578.5,664.7L1578.8,664.8L1579.1,664.8L1579.4,664.9L1579.7,664.9L1580.0,665.0L1580.3,665.0L1580.6,665.0L1580.9,665.0L1581.2,665.1L1581.5,665.1L1581.8,665.1L1582.1,665.1L1582.4,665.1L1582.6,665.1L1582.7,665.1L1583.0,665.1L1583.3,665.1L1583.6,665.0L1583.9,665.0L1584.2,664.9L1584.5,664.8L1584.8,664.7L1585.1,664.6L1585.4,664.5L1585.7,664.4L1586.0,664.3L1586.3,664.1L1586.6,664.0L1586.9,663.8L1587.2,663.7L1587.5,663.5L1587.8,663.4L1588.1,663.2L1588.4,663.0L1588.7,662.8L1589.0,662.6L1589.3,662.5L1589.7,662.3L1590.0,662.1L1590.3,661.9L1590.6,661.7L1590.9,661.5L1591.2,661.3L1591.5,661.1L1591.8,660.9L1592.1,660.7L1592.4,660.5L1592.7,660.4L1593.0,660.2L1593.3,660.0L1593.6,659.9L1593.9,659.7L1594.2,659.5L1594.5,659.4L1594.8,659.2L1594.8,659.2L1595.1,659.1L1595.4,659.0L1595.7,658.9L1596.0,658.8L1596.3,658.7L1596.6,658.6L1596.9,658.5L1597.2,658.4L1597.5,658.3L1597.8,658.2L1598.1,658.1L1598.4,658.0L1598.7,657.9L1599.0,657.8L1599.3,657.6L1599.6,657.5L1599.9,657.4L1600.2,657.3L1600.5,657.1L1600.8,657.0L1601.1,656.8L1601.4,656.6L1601.7,656.5L1602.0,656.3L1602.4,656.0L1602.4,656.0L1602.7,655.8L1603.0,655.6L1603.3,655.3L1603.6,654.9L1603.9,654.6L1604.2,654.1L1604.5,653.7L1604.8,653.1L1605.1,652.5L1605.4,651.9L1605.7,651.1L1606.0,650.3L1606.3,649.4L1606.6,648.4L1606.9,647.4L1607.0,646.9L1607.2,645.6L1607.5,641.0L1607.8,634.0L1608.1,625.4L1608.4,615.9L1608.7,606.2L1609.0,597.0L1609.3,589.2L1609.6,583.3L1609.9,580.2L1610.0,580.0L1610.2,580.3L1610.5,582.1L1610.8,585.3L1611.1,589.6L1611.4,594.7L1611.7,600.3L1612.0,606.1L1612.3,612.0L1612.6,617.5L1612.9,622.4L1613.1,624.1L1613.2,626.8L1613.5,631.7L1613.8,636.9L1614.1,642.1L1614.4,646.7L1614.7,650.5L1615.1,653.1L1615.4,654.0L1615.4,654.0L1615.7,652.4L1616.0,647.9L1616.3,641.5L1616.6,633.8L1616.9,625.7L1617.2,618.1L1617.5,611.6L1617.7,608.5L1617.8,606.8L1618.1,602.3L1618.4,597.7L1618.7,593.3L1619.0,589.0L1619.3,585.0L1619.6,581.6L1619.9,578.8L1620.2,576.7L1620.5,575.6L1620.7,575.4L1620.8,575.6L1621.1,577.1L1621.4,580.1L1621.7,583.9L1622.0,588.3L1622.3,592.8L1622.6,596.9L1622.9,600.2L1623.0,600.8L1623.2,602.8L1623.5,605.2L1623.8,607.5L1624.1,609.5L1624.4,611.2L1624.5,611.8L1624.7,612.6L1625.0,613.7L1625.3,614.5L1625.6,615.3L1625.9,616.1L1626.2,617.0L1626.5,618.1L1626.8,619.6L1626.8,619.6L1627.1,622.7L1627.4,627.9L1627.7,634.5L1628.1,641.5L1628.4,648.1L1628.7,653.4L1629.0,656.7L1629.1,657.3L1629.3,657.3L1629.6,656.8L1629.9,655.8L1630.2,654.5L1630.5,653.0L1630.8,651.3L1631.1,649.5L1631.4,647.7L1631.7,646.0L1632.0,644.6L1632.3,643.4L1632.6,642.6L1632.9,642.4L1632.9,642.4L1633.2,642.7L1633.5,643.8L1633.8,645.4L1634.1,647.3L1634.4,649.3L1634.7,651.3L1635.0,653.1L1635.2,654.0L1635.3,654.6L1635.6,656.1L1635.9,657.8L1636.2,659.4L1636.5,661.0L1636.8,662.5L1637.1,663.9L1637.4,665.0L1637.7,665.8L1638.0,666.3L1638.2,666.4L1638.3,666.4L1638.6,666.3L1638.9,666.1L1639.2,665.8L1639.5,665.5L1639.8,665.1L1640.1,664.6L1640.4,664.2L1640.8,663.7L1641.1,663.2L1641.4,662.7L1641.7,662.2L1642.0,661.8L1642.3,661.4L1642.6,661.1L1642.9,660.8L1643.2,660.6L1643.5,660.6L1643.5,660.5L1643.8,660.5L1644.1,660.5L1644.4,660.5L1644.7,660.5L1645.0,660.5L1645.3,660.5L1645.6,660.5L1645.9,660.5L1646.2,660.5L1646.5,660.5L1646.8,660.5L1647.1,660.5L1647.4,660.5L1647.7,660.5L1648.0,660.5L1648.3,660.5L1648.6,660.5L1648.9,660.5L1649.2,660.5L1649.5,660.5L1649.7,660.5L1649.8,660.6L1650.1,660.6L1650.4,660.6L1650.7,660.6L1651.0,660.7L1651.3,660.8L1651.6,660.9L1651.9,661.0L1652.2,661.0L1652.5,661.1L1652.8,661.2L1653.1,661.3L1653.4,661.4L1653.8,661.5L1654.1,661.6L1654.4,661.7L1654.7,661.7L1655.0,661.8L1655.3,661.8L1655.6,661.8L1655.7,661.9L1655.9,661.8L1656.2,661.7L1656.5,661.5L1656.8,661.2L1657.1,660.8L1657.4,660.3L1657.7,659.7L1658.0,659.1L1658.3,658.5L1658.6,657.8L1658.9,657.1L1659.2,656.4L1659.5,655.8L1659.8,655.1L1660.1,654.5L1660.3,654.0L1660.4,653.9L1660.7,653.4L1661.0,653.0L1661.3,652.5L1661.6,652.1L1661.9,651.6L1662.2,651.0L1662.5,650.4L1662.8,649.8L1663.1,648.9L1663.4,648.2L1663.4,648.0L1663.7,646.0L1664.0,642.8L1664.3,638.6L1664.6,633.7L1664.9,628.3L1665.2,622.7L1665.5,617.1L1665.8,611.8L1666.1,607.1L1666.5,603.1L1666.8,600.1L1667.1,598.4L1667.2,598.1L1667.4,598.3L1667.7,600.0L1668.0,603.1L1668.3,607.5L1668.6,612.6L1668.9,618.1L1669.2,623.8L1669.5,629.1L1669.8,633.8L1670.1,637.5L1670.3,639.1L1670.4,640.0L1670.7,642.2L1671.0,644.3L1671.3,646.4L1671.6,648.4L1671.9,650.2L1672.2,651.9L1672.5,653.5L1672.8,654.8L1673.1,655.8L1673.4,656.6L1673.7,657.1L1674.0,657.3L1674.0,657.3L1674.3,657.2L1674.6,657.1L1674.9,656.8L1675.2,656.4L1675.5,656.0L1675.8,655.4L1676.1,654.8L1676.4,654.2L1676.7,653.5L1677.0,652.8L1677.0,652.7L1677.3,651.6L1677.6,649.6L1677.9,647.1L1678.2,644.1L1678.5,640.8L1678.8,637.3L1679.1,633.9L1679.5,630.5L1679.8,627.4L1680.1,624.8L1680.4,622.7L1680.7,621.4L1680.9,620.9L1681.0,620.9L1681.3,620.7L1681.6,620.5L1681.9,620.3L1682.2,620.2L1682.5,620.1L1682.8,619.9L1683.1,619.8L1683.4,619.8L1683.7,619.7L1684.0,619.6L1684.3,619.6L1684.6,619.6L1684.7,619.6L1684.9,619.7L1685.2,620.1L1685.5,620.8L1685.8,621.7L1686.1,622.8L1686.4,624.0L1686.7,625.3L1687.0,626.7L1687.3,628.0L1687.6,629.3L1687.8,630.0L1687.9,630.5L1688.2,631.8L1688.5,633.2L1688.8,634.7L1689.1,636.2L1689.4,637.8L1689.7,639.5L1690.0,641.1L1690.3,642.8L1690.6,644.4L1690.9,645.9L1691.2,647.4L1691.5,648.7L1691.8,650.0L1692.2,651.1L1692.3,651.5L1692.5,652.0L1692.8,653.0L1693.1,654.0L1693.4,655.0L1693.7,655.9L1694.0,656.9L1694.3,657.8L1694.6,658.7L1694.9,659.6L1695.2,660.4L1695.5,661.1L1695.8,661.8L1696.1,662.3L1696.4,662.8L1696.7,663.3L1697.0,663.6L1697.3,663.7L1697.6,663.8L1697.6,663.8L1697.9,663.7L1698.2,663.5L1698.5,663.1L1698.8,662.6L1699.1,661.9L1699.4,661.2L1699.7,660.3L1700.0,659.4L1700.3,658.4L1700.6,657.4L1700.9,656.3L1701.2,655.1L1701.5,653.9L1701.8,652.8L1702.1,651.6L1702.4,650.4L1702.7,649.3L1703.0,648.2L1703.0,648.2L1703.3,647.0L1703.6,645.5L1703.9,643.9L1704.2,642.1L1704.5,640.3L1704.9,638.4L1705.2,636.7L1705.5,635.1L1705.8,633.7L1706.1,632.6L1706.4,631.7L1706.7,631.3L1706.8,631.3L1707.0,631.3L1707.3,631.5L1707.6,631.9L1707.9,632.3L1708.2,632.9L1708.5,633.5L1708.8,634.2L1709.1,634.9L1709.4,635.5L1709.7,636.2L1710.0,636.8L1710.3,637.3L1710.6,637.7L1710.7,637.8L1710.9,638.0L1711.2,638.3L1711.5,638.6L1711.8,638.8L1712.1,639.1L1712.4,639.3L1712.7,639.5L1713.0,639.6L1713.3,639.8L1713.6,640.0L1713.9,640.2L1714.2,640.4L1714.5,640.5L1714.8,640.7L1715.1,641.0L1715.4,641.2L1715.7,641.4L1716.0,641.7L1716.3,642.0L1716.6,642.3L1716.7,642.4L1716.9,642.6L1717.2,643.0L1717.5,643.5L1717.9,644.0L1718.2,644.5L1718.5,645.0L1718.8,645.6L1719.1,646.2L1719.4,646.9L1719.7,647.5L1720.0,648.2L1720.3,648.9L1720.6,649.7L1720.9,650.4L1721.2,651.1L1721.3,651.5L1721.5,651.9L1721.8,652.9L1722.1,654.1L1722.4,655.3L1722.7,656.7L1723.0,658.0L1723.3,659.3L1723.6,660.5L1723.9,661.6L1724.2,662.6L1724.5,663.3L1724.8,663.7L1725.0,663.8L1725.1,663.8L1725.4,663.7L1725.7,663.4L1726.0,663.0L1726.3,662.4L1726.6,661.7L1726.9,661.0L1727.2,660.2L1727.5,659.4L1727.8,658.6L1728.1,657.8L1728.4,657.0L1728.7,656.2L1729.0,655.6L1729.3,655.0L1729.6,654.5L1729.9,654.2L1730.2,654.1L1730.4,654.0L1730.6,654.1L1730.9,654.3L1731.2,654.6L1731.5,654.9L1731.8,655.3L1732.1,655.7L1732.4,655.9L1732.7,656.0L1732.7,656.0L1733.0,655.8L1733.3,655.1L1733.6,654.0L1733.9,652.6L1734.2,650.9L1734.5,649.0L1734.8,647.0L1735.1,645.0L1735.4,642.9L1735.7,640.8L1736.0,638.9L1736.3,637.1L1736.5,635.9L1736.6,635.6L1736.9,634.0L1737.2,632.2L1737.5,630.4L1737.8,628.6L1738.1,626.9L1738.4,625.3L1738.7,624.0L1739.0,623.0L1739.3,622.4L1739.6,622.2L1739.6,622.2L1739.9,623.4L1740.2,625.8L1740.5,629.3L1740.8,633.3L1741.1,637.7L1741.4,642.0L1741.7,645.9L1742.0,648.9L1742.3,650.9L1742.6,651.5L1742.6,651.4L1742.9,650.2L1743.2,647.4L1743.6,643.6L1743.9,639.1L1744.2,634.3L1744.5,629.7L1744.8,625.6L1744.9,624.1L1745.1,622.0L1745.4,618.2L1745.7,614.1L1746.0,610.1L1746.3,606.4L1746.6,603.5L1746.9,601.5L1747.2,600.8L1747.2,600.8L1747.5,602.1L1747.8,605.7L1748.1,611.0L1748.4,617.5L1748.7,624.5L1749.0,631.5L1749.3,638.0L1749.6,643.3L1749.9,646.9L1750.2,648.2L1750.2,648.2L1750.5,648.2L1750.8,648.2L1751.1,648.1L1751.4,648.1L1751.7,648.0L1752.0,647.9L1752.3,647.8L1752.6,647.8L1752.9,647.7L1753.2,647.6L1753.5,647.5L1753.8,647.4L1754.1,647.3L1754.4,647.2L1754.7,647.1L1755.0,647.1L1755.3,647.0L1755.6,646.9L1755.9,646.9L1756.3,646.9L1756.4,646.9L1756.6,646.9L1756.9,647.0L1757.2,647.2L1757.5,647.4L1757.8,647.7L1758.1,648.0L1758.4,648.4L1758.7,648.8L1759.0,649.2L1759.3,649.6L1759.6,650.1L1759.9,650.5L1760.2,650.9L1760.5,651.3L1760.8,651.7L1761.1,652.0L1761.4,652.3L1761.7,652.5L1762.0,652.7L1762.3,652.7L1762.4,652.8L1762.6,652.7L1762.9,652.7L1763.2,652.6L1763.5,652.5L1763.8,652.3L1764.1,652.1L1764.4,651.9L1764.7,651.7L1765.0,651.5L1765.3,651.2L1765.6,651.0L1765.9,650.7L1766.2,650.5L1766.5,650.3L1766.8,650.1L1767.1,649.9L1767.4,649.7L1767.7,649.6L1768.0,649.5L1768.3,649.5L1768.5,649.5L1768.6,649.6L1769.0,649.9L1769.3,650.5L1769.6,651.0L1769.9,651.4L1770.0,651.5L1770.2,651.4L1770.5,651.2L1770.8,650.7L1771.1,650.1L1771.4,649.3L1771.7,648.3L1772.0,647.3L1772.3,646.2L1772.6,645.0L1772.9,643.9L1773.2,642.8L1773.5,641.8L1773.8,640.9L1774.1,640.2L1774.4,639.6L1774.7,639.2L1775.0,639.1L1775.0,639.1L1775.3,639.5L1775.6,640.6L1775.9,642.3L1776.2,644.3L1776.5,646.6L1776.8,648.9L1777.1,651.0L1777.4,652.9L1777.7,654.0L1777.7,654.3L1778.0,655.6L1778.3,657.0L1778.6,658.1L1778.9,658.9L1779.2,659.2L1779.2,659.2L1779.5,659.2L1779.8,659.0L1780.1,658.8L1780.4,658.5L1780.7,658.1L1781.0,657.7L1781.3,657.3L1781.6,656.9L1782.0,656.6L1782.3,656.3L1782.6,656.1L1782.9,656.0L1783.0,656.0L1783.2,656.1L1783.5,656.5L1783.8,657.3L1784.1,658.3L1784.4,659.4L1784.7,660.6L1785.0,661.7L1785.3,662.7L1785.6,663.4L1785.9,663.8L1786.0,663.8L1786.2,663.8L1786.5,663.6L1786.8,663.2L1787.1,662.6L1787.4,661.9L1787.7,661.1L1788.0,660.2L1788.3,659.1L1788.6,658.0L1788.9,656.8L1789.2,655.6L1789.5,654.3L1789.8,653.1L1790.1,651.8L1790.4,650.5L1790.7,649.3L1791.0,648.1L1791.3,647.0L1791.6,646.0L1791.9,645.1L1792.2,644.2L1792.5,643.5L1792.8,643.0L1793.1,642.6L1793.4,642.4L1793.6,642.4L1793.7,642.4L1794.0,642.6L1794.3,643.1L1794.7,643.8L1795.0,644.7L1795.3,645.8L1795.6,647.0L1795.9,648.3L1796.2,649.7L1796.5,651.2L1796.8,652.8L1797.1,654.4L1797.4,656.0L1797.7,657.5L1798.0,659.0L1798.3,660.4L1798.6,661.8L1798.9,663.0L1799.2,664.1L1799.5,665.0L1799.8,665.7L1800.1,666.1L1800.4,666.4L1800.5,666.4L1800.7,666.4L1801.0,666.1L1801.3,665.5L1801.6,664.8L1801.9,663.9L1802.2,662.8L1802.5,661.5L1802.8,660.2L1803.1,658.7L1803.4,657.1L1803.7,655.5L1804.0,653.8L1804.3,652.1L1804.6,650.4L1804.9,648.7L1805.2,647.1L1805.5,645.5L1805.8,644.0L1806.1,642.7L1806.4,641.4L1806.7,640.3L1807.0,639.4L1807.3,638.7L1807.7,638.1L1808.0,637.8L1808.1,637.8L1808.3,637.8L1808.6,638.3L1808.9,639.1L1809.2,640.3L1809.5,641.8L1809.8,643.4L1810.1,645.3L1810.4,647.2L1810.7,649.1L1811.0,650.9L1811.3,652.7L1811.6,654.3L1811.9,655.6L1812.2,656.5L1812.5,657.1L1812.7,657.3L1812.8,657.3L1813.1,657.0L1813.4,656.3L1813.7,655.4L1814.0,654.3L1814.3,653.2L1814.6,652.0L1814.9,651.0L1815.2,650.2L1815.5,649.6L1815.8,649.5L1815.8,649.5L1816.1,649.7L1816.4,650.3L1816.7,651.0L1817.0,652.0L1817.3,653.1L1817.6,654.4L1817.9,655.7L1818.2,657.1L1818.5,658.4L1818.8,659.7L1819.1,660.9L1819.4,662.0L1819.7,662.8L1820.0,663.4L1820.4,663.8L1820.4,663.8L1820.7,664.0L1821.0,664.2L1821.3,664.4L1821.6,664.5L1821.9,664.7L1822.2,664.9L1822.5,665.0L1822.8,665.2L1823.1,665.3L1823.4,665.4L1823.7,665.5L1824.0,665.7L1824.3,665.8L1824.6,665.9L1824.9,666.0L1825.2,666.0L1825.5,666.1L1825.8,666.2L1826.1,666.2L1826.4,666.3L1826.7,666.3L1827.0,666.4L1827.3,666.4L1827.6,666.4L1827.9,666.4L1828.0,666.4L1828.2,666.4L1828.5,666.4L1828.8,666.4L1829.1,666.4L1829.4,666.4L1829.7,666.4L1830.0,666.3L1830.3,666.3L1830.6,666.3L1830.9,666.3L1831.2,666.3L1831.5,666.2L1831.8,666.2L1832.1,666.2L1832.4,666.1L1832.7,666.1L1833.0,666.1L1833.4,666.0L1833.7,666.0L1834.0,666.0L1834.3,665.9L1834.6,665.9L1834.9,665.8L1835.2,665.8L1835.5,665.8L1835.8,665.7L1836.1,665.7L1836.4,665.6L1836.7,665.6L1837.0,665.5L1837.3,665.5L1837.6,665.4L1837.9,665.4L1838.2,665.3L1838.5,665.3L1838.8,665.2L1839.1,665.2L1839.4,665.1L1839.7,665.1L1840.0,665.0L1840.3,664.9L1840.6,664.9L1840.9,664.8L1841.2,664.8L1841.5,664.7L1841.8,664.7L1842.1,664.6L1842.4,664.6L1842.7,664.5L1843.0,664.5L1843.2,664.5L1843.3,664.4L1843.6,664.4L1843.9,664.3L1844.2,664.3L1844.5,664.2L1844.8,664.2L1845.1,664.1L1845.4,664.1L1845.7,664.0L1846.1,664.0L1846.4,663.9L1846.7,663.9L1847.0,663.8L1847.3,663.8L1847.6,663.7L1847.9,663.7L1848.2,663.6L1848.5,663.6L1848.8,663.5L1849.1,663.5L1849.4,663.4L1849.7,663.3L1850.0,663.3L1850.3,663.2L1850.6,663.2L1850.9,663.1L1851.2,663.0L1851.5,663.0L1851.8,662.9L1852.1,662.8L1852.4,662.8L1852.7,662.7L1853.0,662.6L1853.3,662.6L1853.6,662.5L1853.9,662.4L1854.2,662.3L1854.5,662.3L1854.8,662.2L1855.1,662.1L1855.4,662.0L1855.7,661.9L1856.0,661.8L1856.3,661.8L1856.6,661.7L1856.9,661.6L1857.2,661.5L1857.5,661.4L1857.8,661.3L1858.1,661.2L1858.4,661.1L1858.8,661.0L1859.1,660.9L1859.4,660.8L1859.7,660.6L1859.9,660.5L1860.0,660.5L1860.3,660.4L1860.6,660.2L1860.9,660.0L1861.2,659.8L1861.5,659.6L1861.8,659.3L1862.1,659.0L1862.4,658.7L1862.7,658.4L1863.0,658.1L1863.3,657.7L1863.6,657.4L1863.9,657.0L1864.2,656.6L1864.5,656.2L1864.8,655.8L1865.1,655.4L1865.4,655.0L1865.7,654.6L1866.0,654.2L1866.3,653.7L1866.6,653.3L1866.9,652.9L1867.2,652.5L1867.5,652.1L1867.8,651.7L1868.1,651.3L1868.4,650.9L1868.7,650.5L1869.0,650.1L1869.3,649.8L1869.6,649.4L1869.9,649.1L1870.2,648.8L1870.5,648.5L1870.8,648.2L1871.1,648.0L1871.4,647.7L1871.8,647.5L1872.1,647.4L1872.4,647.2L1872.7,647.1L1873.0,647.0L1873.3,646.9L1873.6,646.9L1873.7,646.9L1873.9,646.9L1874.2,647.0L1874.5,647.2L1874.8,647.4L1875.1,647.8L1875.4,648.1L1875.7,648.6L1876.0,649.1L1876.3,649.6L1876.6,650.2L1876.9,650.8L1877.2,651.5L1877.5,652.1L1877.8,652.8L1878.1,653.5L1878.4,654.2L1878.7,654.9L1879.0,655.7L1879.3,656.4L1879.6,657.0L1879.9,657.7L1880.2,658.3L1880.5,658.9L1880.8,659.5L1881.1,660.0L1881.4,660.5L1881.7,660.9L1882.0,661.3L1882.3,661.6L1882.6,661.8L1882.8,661.9L1882.9,661.9L1883.2,662.1L1883.5,662.2L1883.8,662.4L1884.1,662.5L1884.5,662.7L1884.8,662.8L1885.1,662.9L1885.4,663.1L1885.7,663.2L1886.0,663.3L1886.3,663.5L1886.6,663.6L1886.9,663.7L1887.2,663.8L1887.5,663.9L1887.8,664.1L1888.1,664.2L1888.4,664.3L1888.7,664.4L1889.0,664.5L1889.3,664.6L1889.6,664.7L1889.9,664.8L1890.2,664.9L1890.5,665.0L1890.8,665.1L1891.1,665.2L1891.4,665.2L1891.7,665.3L1892.0,665.4L1892.3,665.5L1892.6,665.6L1892.9,665.6L1893.2,665.7L1893.5,665.8L1893.8,665.8L1894.1,665.9L1894.4,665.9L1894.7,666.0L1895.0,666.0L1895.3,666.1L1895.6,666.1L1895.9,666.2L1896.2,666.2L1896.5,666.2L1896.8,666.3L1897.1,666.3L1897.5,666.3L1897.8,666.3L1898.1,666.4L1898.4,666.4L1898.7,666.4L1899.0,666.4L1899.3,666.4L1899.6,666.4L1899.6,666.4L1899.9,666.4L1900.2,666.4L1900.5,666.4L1900.8,666.3L1901.1,666.3L1901.4,666.3L1901.7,666.2L1902.0,666.2L1902.3,666.1L1902.6,666.1L1902.9,666.0L1903.2,665.9L1903.5,665.9L1903.8,665.8L1904.0,665.8L1904.1,665.7L1904.4,665.7L1904.7,665.5L1905.0,665.4L1905.3,665.3L1905.6,665.1L1905.9,664.9L1906.2,664.7L1906.5,664.5L1906.8,664.3L1907.1,664.0L1907.4,663.8L1907.7,663.5L1908.0,663.2L1908.3,662.9L1908.6,662.6L1908.9,662.3L1909.2,662.0L1909.5,661.6L1909.8,661.3L1910.2,661.0L1910.5,660.6L1910.8,660.3L1911.1,659.9L1911.4,659.6L1911.7,659.3L1912.0,658.9L1912.3,658.6L1912.6,658.2L1912.9,657.9L1913.2,657.6L1913.5,657.2L1913.8,656.9L1914.1,656.6L1914.4,656.3L1914.7,656.0L1914.7,656.0L1915.0,655.7L1915.3,655.4L1915.6,655.0L1915.9,654.7L1916.2,654.3L1916.5,653.9L1916.8,653.5L1917.1,653.1L1917.4,652.7L1917.7,652.3L1918.0,651.9L1918.3,651.5L1918.6,651.2L1918.9,650.8L1919.2,650.4L1919.5,650.1L1919.8,649.8L1920.1,649.5L1920.4,649.2L1920.7,648.9L1921.0,648.7L1921.3,648.5L1921.6,648.4L1921.9,648.3L1922.2,648.2L1922.5,648.2L1922.5,648.2L1922.8,648.2L1923.2,648.3L1923.5,648.3L1923.8,648.5L1924.1,648.6L1924.4,648.8L1924.7,649.0L1925.0,649.2L1925.3,649.5L1925.6,649.8L1925.9,650.1L1926.2,650.4L1926.5,650.8L1926.8,651.2L1927.1,651.6L1927.4,652.1L1927.4,652.1L1927.7,653.1L1928.0,654.8L1928.3,657.0L1928.6,659.4L1928.9,661.5L1929.2,663.1L1929.4,663.8L1929.5,663.9L1929.8,664.3L1930.1,664.7L1930.4,665.1L1930.7,665.4L1931.0,665.7L1931.3,665.9L1931.6,666.1L1931.9,666.2L1932.2,666.3L1932.5,666.4L1932.7,666.4L1932.8,666.4L1933.1,666.3L1933.4,666.2L1933.7,665.9L1934.0,665.6L1934.3,665.3L1934.6,664.9L1934.9,664.5L1935.2,664.1L1935.5,663.7L1935.9,663.3L1936.2,663.0L1936.5,662.6L1936.8,662.3L1937.1,662.1L1937.4,661.9L1937.4,661.9L1937.7,661.7L1938.0,661.6L1938.3,661.5L1938.6,661.4L1938.9,661.2L1939.2,661.1L1939.5,661.0L1939.8,660.9L1940.1,660.8L1940.4,660.8L1940.7,660.7L1941.0,660.6L1941.3,660.6L1941.6,660.6L1941.9,660.6L1942.0,660.5L1942.2,660.6L1942.5,660.6L1942.8,660.6L1943.1,660.7L1943.4,660.7L1943.7,660.8L1944.0,660.9L1944.3,661.0L1944.6,661.1L1944.9,661.2L1945.2,661.3L1945.5,661.4L1945.8,661.6L1946.1,661.7L1946.4,661.8L1946.7,661.9L1947.0,662.1L1947.3,662.2L1947.6,662.3L1947.9,662.5L1948.1,662.5L1948.2,662.6L1948.6,662.7L1948.9,662.9L1949.2,663.1L1949.5,663.2L1949.8,663.4L1950.1,663.6L1950.4,663.8L1950.7,664.0L1951.0,664.2L1951.3,664.4L1951.6,664.6L1951.9,664.7L1952.2,664.8L1952.5,664.9L1952.8,665.0L1953.1,665.1L1953.4,665.1L1953.4,665.1L1953.7,665.1L1954.0,665.1L1954.3,665.1L1954.6,665.1L1954.9,665.1L1955.2,665.0L1955.5,665.0L1955.8,665.0L1956.1,665.0L1956.4,665.0L1956.7,664.9L1957.0,664.9L1957.3,664.9L1957.6,664.9L1957.9,664.8L1958.2,664.8L1958.5,664.8L1958.8,664.7L1959.1,664.7L1959.4,664.7L1959.7,664.6L1960.0,664.6L1960.3,664.6L1960.6,664.5L1960.9,664.5L1961.2,664.5L1961.4,664.5L1961.6,664.4L1961.9,664.4L1962.2,664.4L1962.5,664.3L1962.8,664.3L1963.1,664.2L1963.4,664.2L1963.7,664.1L1964.0,664.1L1964.3,664.0L1964.6,664.0L1964.9,663.9L1965.2,663.8L1965.5,663.8L1965.8,663.7L1966.1,663.7L1966.4,663.6L1966.7,663.6L1967.0,663.5L1967.3,663.5L1967.6,663.4L1967.9,663.4L1968.2,663.3L1968.5,663.3L1968.8,663.3L1969.1,663.2L1969.4,663.2L1969.7,663.2L1970.0,663.2L1970.3,663.2L1970.6,663.2L1970.7,663.1L1970.9,663.2L1971.2,663.2L1971.5,663.3L1971.8,663.4L1972.1,663.5L1972.4,663.6L1972.7,663.8L1973.0,664.0L1973.3,664.2L1973.6,664.4L1973.9,664.7L1974.3,664.9L1974.6,665.1L1974.9,665.4L1975.2,665.7L1975.5,665.9L1975.8,666.2L1976.0,666.4L1976.1,666.5L1976.4,666.8L1976.7,667.1L1977.0,667.5L1977.3,667.9L1977.6,668.4L1977.9,668.8L1978.2,669.3L1978.5,669.7L1978.8,670.2L1979.1,670.6L1979.4,671.0L1979.4,671.0L1979.7,671.3L1980.0,671.6L1980.3,671.9L1980.6,672.2L1980.6,672.3" fill="none" stroke="#17701b" stroke-width="3.0" stroke-linejoin="round" stroke-linecap="round"/>
<g fill="#000">
<polygon points="1225.4,609.9 1229.6,617.8 1238.7,617.8 1231.0,624.6 1233.5,633.1 1225.4,628.3 1217.3,633.1 1219.8,624.6 1212.1,617.8 1221.2,617.8"/>
<use href="#mu" x="1211.3" y="582.7"/>
<polygon points="1304.1,521.9 1308.3,529.8 1317.4,529.8 1309.7,536.6 1312.2,545.1 1304.1,540.3 1296.0,545.1 1298.5,536.6 1290.8,529.8 1299.9,529.8"/>
<polygon points="1314.8,559.3 1319.0,567.2 1328.1,567.2 1320.4,574.0 1322.9,582.5 1314.8,577.7 1306.7,582.5 1309.2,574.0 1301.5,567.2 1310.6,567.2"/>
<use href="#mu" x="1323.9" y="515.6"/>
<use href="#mu" x="1328.8" y="447.0"/>
<polygon points="1353.9,16.7 1358.1,24.6 1367.2,24.6 1359.5,31.4 1362.0,39.9 1353.9,35.1 1345.8,39.9 1348.3,31.4 1340.6,24.6 1349.7,24.6"/>
<polygon points="1395.0,282.6 1399.2,290.5 1408.3,290.5 1400.6,297.3 1403.1,305.8 1395.0,301.0 1386.9,305.8 1389.4,297.3 1381.7,290.5 1390.8,290.5"/>
<use href="#pl" x="1378.0" y="631.4"/>
<use href="#mu" x="1382.6" y="596.4"/>
<use href="#mu" x="1414.2" y="578.9"/>
<polygon points="1424.9,530.4 1429.1,538.3 1438.2,538.3 1430.5,545.1 1433.0,553.6 1424.9,548.8 1416.8,553.6 1419.3,545.1 1411.6,538.3 1420.7,538.3"/>
<polygon points="1439.8,486.1 1444.0,494.0 1453.1,494.0 1445.4,500.8 1447.9,509.3 1439.8,504.5 1431.7,509.3 1434.2,500.8 1426.5,494.0 1435.6,494.0"/>
<polygon points="1451.0,613.0 1455.2,620.9 1464.3,620.9 1456.6,627.7 1459.1,636.2 1451.0,631.4 1442.9,636.2 1445.4,627.7 1437.7,620.9 1446.8,620.9"/>
<use href="#mu" x="1459.9" y="609.0"/>
<polygon points="1480.5,610.0 1484.7,617.9 1493.8,617.9 1486.1,624.7 1488.6,633.2 1480.5,628.4 1472.4,633.2 1474.9,624.7 1467.2,617.9 1476.3,617.9"/>
<use href="#mu" x="1488.8" y="607.8"/>
<polygon points="1506.8,476.9 1511.0,484.8 1520.1,484.8 1512.4,491.6 1514.9,500.1 1506.8,495.3 1498.7,500.1 1501.2,491.6 1493.5,484.8 1502.6,484.8"/>
<use href="#mu" x="1528.1" y="613.2"/>
<polygon points="1554.0,608.8 1558.2,616.7 1567.3,616.7 1559.6,623.5 1562.1,632.0 1554.0,627.2 1545.9,632.0 1548.4,623.5 1540.7,616.7 1549.8,616.7"/>
<polygon points="1567.8,614.5 1572.0,622.4 1581.1,622.4 1573.4,629.2 1575.9,637.7 1567.8,632.9 1559.7,637.7 1562.2,629.2 1554.5,622.4 1563.6,622.4"/>
<polygon points="1609.6,550.9 1613.8,558.8 1622.9,558.8 1615.2,565.6 1617.7,574.1 1609.6,569.3 1601.5,574.1 1604.0,565.6 1596.3,558.8 1605.4,558.8"/>
<use href="#pl" x="1621.4" y="521.8"/>
<polygon points="1622.2,536.4 1626.4,544.3 1635.5,544.3 1627.8,551.1 1630.3,559.6 1622.2,554.8 1614.1,559.6 1616.6,551.1 1608.9,544.3 1618.0,544.3"/>
<polygon points="1631.3,581.4 1635.5,589.3 1644.6,589.3 1636.9,596.1 1639.4,604.6 1631.3,599.8 1623.2,604.6 1625.7,596.1 1618.0,589.3 1627.1,589.3"/>
<polygon points="1638.2,614.9 1642.4,622.8 1651.5,622.8 1643.8,629.6 1646.3,638.1 1638.2,633.3 1630.1,638.1 1632.6,629.6 1624.9,622.8 1634.0,622.8"/>
<polygon points="1666.0,569.2 1670.2,577.1 1679.3,577.1 1671.6,583.9 1674.1,592.4 1666.0,587.6 1657.9,592.4 1660.4,583.9 1652.7,577.1 1661.8,577.1"/>
<polygon points="1683.2,589.1 1687.4,597.0 1696.5,597.0 1688.8,603.8 1691.3,612.3 1683.2,607.5 1675.1,612.3 1677.6,603.8 1669.9,597.0 1679.0,597.0"/>
<polygon points="1719.7,616.4 1723.9,624.3 1733.0,624.3 1725.3,631.1 1727.8,639.6 1719.7,634.8 1711.6,639.6 1714.1,631.1 1706.4,624.3 1715.5,624.3"/>
<polygon points="1735.7,595.4 1739.9,603.3 1749.0,603.3 1741.3,610.1 1743.8,618.6 1735.7,613.8 1727.6,618.6 1730.1,610.1 1722.4,603.3 1731.5,603.3"/>
<use href="#pl" x="1733.5" y="583.4"/>
<use href="#mu" x="1747.9" y="592.6"/>
<polygon points="1759.3,618.8 1763.5,626.7 1772.6,626.7 1764.9,633.5 1767.4,642.0 1759.3,637.2 1751.2,642.0 1753.7,633.5 1746.0,626.7 1755.1,626.7"/>
<polygon points="1775.5,604.7 1779.7,612.6 1788.8,612.6 1781.1,619.4 1783.6,627.9 1775.5,623.1 1767.4,627.9 1769.9,619.4 1762.2,612.6 1771.3,612.6"/>
<use href="#mu" x="1792.8" y="629.9"/>
<polygon points="1808.1,604.2 1812.3,612.1 1821.4,612.1 1813.7,618.9 1816.2,627.4 1808.1,622.6 1800.0,627.4 1802.5,618.9 1794.8,612.1 1803.9,612.1"/>
<polygon points="1875.2,617.1 1879.4,625.0 1888.5,625.0 1880.8,631.8 1883.3,640.3 1875.2,635.5 1867.1,640.3 1869.6,631.8 1861.9,625.0 1871.0,625.0"/>
<polygon points="1923.2,617.9 1927.4,625.8 1936.5,625.8 1928.8,632.6 1931.3,641.1 1923.2,636.3 1915.1,641.1 1917.6,632.6 1909.9,625.8 1919.0,625.8"/>
</g>
<g stroke="#000" stroke-width="3" fill="none">
<rect x="1134.0" y="12.7" width="846.6" height="682.3"/>
<path d="M1134.0,695.0h13.0M1980.6,695.0h-13.0M1134.0,630.0h6.0M1980.6,630.0h-6.0M1134.0,565.0h13.0M1980.6,565.0h-13.0M1134.0,500.0h6.0M1980.6,500.0h-6.0M1134.0,435.0h13.0M1980.6,435.0h-13.0M1134.0,370.0h6.0M1980.6,370.0h-6.0M1134.0,305.0h13.0M1980.6,305.0h-13.0M1134.0,240.0h6.0M1980.6,240.0h-6.0M1134.0,175.0h13.0M1980.6,175.0h-13.0M1134.0,110.0h6.0M1980.6,110.0h-6.0M1134.0,45.0h13.0M1980.6,45.0h-13.0M1194.5,695.0v-6.5M1254.9,695.0v-13.5M1315.4,695.0v-6.5M1375.9,695.0v-13.5M1436.4,695.0v-6.5M1496.8,695.0v-13.5M1557.3,695.0v-6.5M1617.8,695.0v-13.5M1678.2,695.0v-6.5M1738.7,695.0v-13.5M1799.2,695.0v-6.5M1859.7,695.0v-13.5M1920.1,695.0v-6.5" stroke-linecap="butt"/>
</g>
<g font-size="45" fill="#000">
<text x="1123.0" y="709.2" text-anchor="end">0</text>
<text x="1123.0" y="579.2" text-anchor="end">20</text>
<text x="1123.0" y="449.2" text-anchor="end">40</text>
<text x="1123.0" y="319.2" text-anchor="end">60</text>
<text x="1123.0" y="189.2" text-anchor="end">80</text>
<text x="1123.0" y="59.2" text-anchor="end">100</text>
<text x="1134.0" y="739.5" text-anchor="middle">10</text>
<text x="1254.9" y="739.5" text-anchor="middle">20</text>
<text x="1375.9" y="739.5" text-anchor="middle">30</text>
<text x="1496.8" y="739.5" text-anchor="middle">40</text>
<text x="1617.8" y="739.5" text-anchor="middle">50</text>
<text x="1738.7" y="739.5" text-anchor="middle">60</text>
<text x="1859.7" y="739.5" text-anchor="middle">70</text>
<text x="1980.6" y="739.5" text-anchor="middle">80</text>
</g>
<text font-size="45" transform="translate(1049.5,353.9) rotate(-90)" text-anchor="middle">Relative intensity (%)</text>
<text font-size="45" x="1557.3" y="784.5" text-anchor="middle">2<tspan class="sf">&#952;</tspan> (&#176;)</text>
<text font-size="59" x="1154.0" y="72.1">(b)</text>
<text font-size="35" x="1965.1" y="42.2" text-anchor="end" fill="#1a721d">C1, 1650°C</text>
<polygon points="1516.3,77.6 1520.3,85.3 1529.1,85.3 1521.7,91.9 1524.1,100.1 1516.3,95.4 1508.5,100.1 1510.9,91.9 1503.5,85.3 1512.3,85.3" fill="#000"/>
<text x="1540.3" y="100.8" font-size="35.5">ZrO<tspan font-size="22" dy="8.7">2</tspan><tspan dy="-8.7"> monoclinic</tspan></text>
<use href="#pl" x="1514.3" y="148.1"/>
<text x="1535.8" y="158.6" font-size="35.5">ZrO<tspan font-size="22" dy="8.7">2</tspan><tspan dy="-8.7"> tetragonal</tspan></text>
<use href="#mu" x="1511.7" y="208.6"/><text x="1529.6" y="209.6" font-size="35.5">Mullite</text>
<g stroke="#7f7f7f" stroke-width="1.9" stroke-dasharray="8.2 8.2" fill="none">
<line x1="130.7" y1="1365.0" x2="977.3" y2="1365.0"/>
<line x1="130.7" y1="1235.0" x2="977.3" y2="1235.0"/>
<line x1="130.7" y1="1105.0" x2="977.3" y2="1105.0"/>
<line x1="130.7" y1="975.0" x2="977.3" y2="975.0"/>
<line x1="130.7" y1="845.0" x2="977.3" y2="845.0"/>
</g>
<path d="M130.7,1466.4L131.0,1466.3L131.3,1466.2L131.6,1466.1L131.9,1466.0L132.2,1465.9L132.5,1465.8L132.8,1465.7L133.1,1465.6L133.4,1465.5L133.7,1465.4L134.0,1465.3L134.3,1465.2L134.6,1465.1L134.9,1465.0L135.2,1464.9L135.5,1464.8L135.8,1464.7L136.1,1464.6L136.4,1464.5L136.7,1464.4L137.0,1464.3L137.4,1464.2L137.7,1464.1L138.0,1464.0L138.3,1463.9L138.6,1463.8L138.9,1463.7L139.2,1463.6L139.5,1463.5L139.8,1463.5L140.1,1463.4L140.4,1463.3L140.7,1463.2L141.0,1463.1L141.3,1463.0L141.6,1462.9L141.9,1462.8L142.2,1462.7L142.5,1462.6L142.8,1462.5L143.1,1462.5L143.4,1462.4L143.7,1462.3L144.0,1462.2L144.3,1462.1L144.6,1462.0L144.9,1461.9L145.2,1461.8L145.2,1461.8L145.5,1461.8L145.8,1461.7L146.1,1461.6L146.4,1461.5L146.7,1461.4L147.0,1461.3L147.3,1461.3L147.6,1461.2L147.9,1461.1L148.2,1461.0L148.5,1460.9L148.8,1460.9L149.1,1460.8L149.4,1460.7L149.7,1460.6L150.1,1460.6L150.4,1460.5L150.7,1460.4L151.0,1460.3L151.3,1460.2L151.6,1460.2L151.9,1460.1L152.2,1460.0L152.5,1459.9L152.8,1459.9L153.1,1459.8L153.4,1459.7L153.7,1459.6L154.0,1459.6L154.3,1459.5L154.6,1459.4L154.9,1459.3L155.2,1459.3L155.5,1459.2L155.8,1459.1L156.1,1459.0L156.4,1459.0L156.7,1458.9L157.0,1458.8L157.3,1458.7L157.6,1458.7L157.9,1458.6L158.2,1458.5L158.5,1458.4L158.8,1458.4L159.1,1458.3L159.4,1458.2L159.7,1458.1L160.0,1458.1L160.3,1458.0L160.5,1458.0L160.6,1457.9L160.9,1457.8L161.2,1457.7L161.5,1457.7L161.8,1457.6L162.1,1457.5L162.4,1457.4L162.7,1457.3L163.1,1457.3L163.4,1457.2L163.7,1457.1L164.0,1457.0L164.3,1456.9L164.6,1456.9L164.9,1456.8L165.2,1456.7L165.5,1456.6L165.8,1456.5L166.1,1456.4L166.4,1456.4L166.7,1456.3L167.0,1456.2L167.3,1456.1L167.6,1456.0L167.9,1456.0L168.2,1455.9L168.5,1455.8L168.8,1455.7L169.1,1455.6L169.4,1455.5L169.7,1455.5L170.0,1455.4L170.3,1455.3L170.6,1455.2L170.9,1455.2L171.2,1455.1L171.5,1455.0L171.8,1454.9L172.1,1454.9L172.4,1454.8L172.7,1454.7L173.0,1454.6L173.3,1454.6L173.6,1454.5L173.9,1454.4L174.2,1454.4L174.5,1454.3L174.8,1454.2L175.1,1454.2L175.4,1454.1L175.7,1454.0L175.8,1454.0L176.1,1454.0L176.4,1453.9L176.7,1453.9L177.0,1453.8L177.3,1453.7L177.6,1453.7L177.9,1453.6L178.2,1453.6L178.5,1453.5L178.8,1453.5L179.1,1453.4L179.4,1453.4L179.7,1453.3L180.0,1453.3L180.3,1453.3L180.6,1453.2L180.9,1453.2L181.2,1453.1L181.5,1453.1L181.8,1453.0L182.1,1453.0L182.4,1452.9L182.7,1452.9L183.0,1452.9L183.3,1452.8L183.6,1452.8L183.9,1452.7L184.2,1452.7L184.5,1452.6L184.8,1452.6L185.1,1452.5L185.4,1452.5L185.7,1452.4L186.0,1452.4L186.3,1452.3L186.6,1452.3L186.9,1452.2L187.2,1452.2L187.5,1452.1L187.8,1452.1L188.1,1452.0L188.5,1452.0L188.8,1451.9L189.1,1451.9L189.4,1451.8L189.7,1451.7L190.0,1451.7L190.3,1451.6L190.6,1451.5L190.9,1451.5L190.9,1451.5L191.2,1451.4L191.5,1451.3L191.8,1451.2L192.1,1451.2L192.4,1451.1L192.7,1451.0L193.0,1450.9L193.3,1450.9L193.6,1450.8L193.9,1450.7L194.2,1450.6L194.5,1450.5L194.8,1450.4L195.1,1450.4L195.4,1450.3L195.7,1450.2L196.0,1450.1L196.3,1450.0L196.6,1449.8L196.9,1449.7L197.2,1449.6L197.5,1449.5L197.8,1449.4L198.1,1449.2L198.4,1449.1L198.7,1448.9L199.0,1448.8L199.3,1448.6L199.6,1448.5L199.9,1448.3L200.1,1448.2L200.2,1448.1L200.5,1447.9L200.8,1447.7L201.1,1447.5L201.5,1447.2L201.8,1447.0L202.1,1446.6L202.4,1446.2L202.7,1445.8L203.0,1445.3L203.1,1445.0L203.3,1444.7L203.6,1443.8L203.9,1442.6L204.2,1441.0L204.5,1439.1L204.8,1436.7L205.1,1433.9L205.4,1430.7L205.4,1430.0L205.7,1424.0L206.0,1410.0L206.3,1393.1L206.6,1377.8L206.9,1368.6L207.0,1367.6L207.2,1369.4L207.5,1378.9L207.8,1392.9L208.1,1407.7L208.4,1419.3L208.5,1420.9L208.7,1426.7L209.0,1434.0L209.3,1440.4L209.6,1445.3L209.9,1447.9L210.0,1448.2L210.2,1448.2L210.5,1448.0L210.8,1447.7L211.1,1447.2L211.4,1446.8L211.7,1446.3L212.0,1445.8L212.3,1445.4L212.6,1445.1L212.9,1445.0L213.1,1445.0L213.2,1445.0L213.5,1445.5L213.8,1446.2L214.2,1447.0L214.5,1447.9L214.8,1448.7L215.1,1449.3L215.4,1449.5L215.4,1449.5L215.7,1449.3L216.0,1448.7L216.3,1447.9L216.6,1446.7L216.9,1445.4L217.2,1443.9L217.5,1442.3L217.8,1440.7L218.1,1439.2L218.4,1437.7L218.7,1436.3L219.0,1435.1L219.3,1434.2L219.6,1433.5L219.9,1433.3L220.0,1433.2L220.2,1433.4L220.5,1433.9L220.8,1434.8L221.1,1435.8L221.4,1437.1L221.7,1438.3L222.0,1439.6L222.3,1440.7L222.6,1441.6L222.9,1442.3L223.0,1442.3L223.2,1442.7L223.5,1443.0L223.8,1443.4L224.1,1443.8L224.4,1444.1L224.7,1444.4L225.0,1444.7L225.3,1445.0L225.6,1445.3L225.9,1445.6L226.2,1445.8L226.5,1446.0L226.8,1446.2L227.2,1446.4L227.5,1446.5L227.8,1446.7L228.1,1446.8L228.4,1446.8L228.7,1446.9L229.0,1446.9L229.0,1446.9L229.3,1446.9L229.6,1446.9L229.9,1446.9L230.2,1446.9L230.5,1446.9L230.8,1446.9L231.1,1446.9L231.4,1446.9L231.7,1446.9L232.0,1446.9L232.3,1446.9L232.6,1446.9L232.9,1446.9L233.2,1446.9L233.5,1446.9L233.8,1446.9L234.1,1446.9L234.4,1446.9L234.7,1446.9L235.0,1446.9L235.3,1446.9L235.6,1446.9L235.9,1446.9L236.2,1446.9L236.5,1446.9L236.8,1446.9L237.1,1446.9L237.4,1446.9L237.7,1446.9L238.0,1446.9L238.3,1446.9L238.6,1446.9L238.9,1446.9L239.2,1446.9L239.5,1446.9L239.9,1446.9L240.2,1446.9L240.5,1446.9L240.8,1446.9L241.1,1446.9L241.4,1446.9L241.7,1446.9L242.0,1446.9L242.3,1446.9L242.6,1446.9L242.9,1446.9L243.2,1446.9L243.5,1446.9L243.8,1446.9L244.1,1446.9L244.3,1446.9L244.4,1446.9L244.7,1446.9L245.0,1446.9L245.3,1446.9L245.6,1446.8L245.9,1446.8L246.2,1446.8L246.5,1446.7L246.8,1446.7L247.1,1446.6L247.4,1446.5L247.7,1446.5L248.0,1446.4L248.3,1446.3L248.6,1446.3L248.9,1446.2L249.2,1446.1L249.5,1446.0L249.8,1445.9L250.1,1445.8L250.4,1445.7L250.7,1445.6L251.0,1445.5L251.3,1445.4L251.6,1445.4L251.9,1445.3L252.2,1445.2L252.5,1445.1L252.9,1445.0L253.2,1444.9L253.5,1444.8L253.8,1444.7L254.1,1444.6L254.4,1444.5L254.7,1444.4L255.0,1444.3L255.3,1444.3L255.6,1444.2L255.9,1444.1L256.2,1444.0L256.5,1444.0L256.8,1443.9L257.1,1443.9L257.4,1443.8L257.7,1443.8L258.0,1443.7L258.3,1443.7L258.6,1443.7L258.9,1443.7L259.2,1443.7L259.5,1443.7L259.5,1443.7L259.8,1443.7L260.1,1443.7L260.4,1443.7L260.7,1443.7L261.0,1443.7L261.3,1443.8L261.6,1443.8L261.9,1443.8L262.2,1443.9L262.5,1443.9L262.8,1444.0L263.1,1444.0L263.4,1444.1L263.7,1444.1L264.0,1444.2L264.3,1444.2L264.6,1444.3L264.9,1444.3L265.2,1444.4L265.6,1444.4L265.9,1444.5L266.2,1444.5L266.5,1444.6L266.8,1444.6L267.1,1444.7L267.4,1444.7L267.7,1444.8L268.0,1444.8L268.3,1444.8L268.6,1444.9L268.9,1444.9L269.2,1444.9L269.5,1444.9L269.8,1444.9L270.1,1444.9L270.1,1445.0L270.4,1444.9L270.7,1444.9L271.0,1444.8L271.3,1444.7L271.6,1444.6L271.9,1444.4L272.2,1444.3L272.5,1444.1L272.8,1443.9L273.1,1443.7L273.4,1443.5L273.7,1443.3L274.0,1443.2L274.3,1443.0L274.6,1442.8L274.9,1442.7L275.2,1442.6L275.5,1442.5L275.8,1442.4L276.1,1442.4L276.3,1442.3L276.4,1442.4L276.7,1442.4L277.0,1442.5L277.3,1442.6L277.6,1442.7L277.9,1442.9L278.3,1443.0L278.6,1443.2L278.9,1443.5L279.2,1443.7L279.5,1444.0L279.8,1444.2L280.1,1444.5L280.4,1444.8L280.7,1445.1L281.0,1445.4L281.3,1445.7L281.6,1446.0L281.9,1446.3L282.2,1446.5L282.5,1446.8L282.8,1447.0L283.1,1447.3L283.4,1447.5L283.7,1447.7L284.0,1447.8L284.3,1448.0L284.6,1448.1L284.9,1448.2L285.2,1448.2L285.4,1448.2L285.5,1448.2L285.8,1448.1L286.1,1447.8L286.4,1447.5L286.7,1447.0L287.0,1446.5L287.3,1446.0L287.6,1445.4L287.9,1444.8L288.2,1444.3L288.5,1443.7L288.8,1443.3L289.1,1442.9L289.4,1442.6L289.7,1442.4L290.0,1442.3L290.0,1442.3L290.3,1442.3L290.6,1442.3L290.9,1442.3L291.3,1442.3L291.6,1442.3L291.6,1442.3L291.9,1442.5L292.2,1442.8L292.5,1443.2L292.8,1443.8L293.1,1444.2L293.4,1444.7L293.7,1444.9L293.9,1445.0L294.0,1444.9L294.3,1444.8L294.6,1444.6L294.9,1444.2L295.2,1443.7L295.5,1443.1L295.8,1442.4L296.1,1441.6L296.4,1440.7L296.7,1439.7L296.9,1439.1L297.0,1438.5L297.3,1436.0L297.6,1432.1L297.9,1427.1L298.2,1421.4L298.5,1415.1L298.8,1408.5L299.1,1402.0L299.2,1400.8L299.4,1394.3L299.7,1384.0L300.0,1373.3L300.3,1365.1L300.6,1361.8L300.6,1361.8L300.9,1364.3L301.2,1371.1L301.5,1380.6L301.8,1391.2L302.1,1401.6L302.4,1410.1L302.7,1415.4L302.9,1416.3L303.0,1416.0L303.3,1412.9L303.6,1407.3L304.0,1400.2L304.3,1392.7L304.6,1385.8L304.9,1380.6L305.2,1378.1L305.2,1378.0L305.5,1379.4L305.8,1384.3L306.1,1391.3L306.4,1399.1L306.7,1406.2L306.8,1408.5L307.0,1411.9L307.3,1417.9L307.6,1424.2L307.9,1430.3L308.2,1435.9L308.5,1440.4L308.8,1443.6L309.1,1445.0L309.1,1445.0L309.4,1445.3L309.7,1445.5L310.0,1445.8L310.3,1446.0L310.6,1446.2L310.9,1446.4L311.2,1446.5L311.5,1446.7L311.8,1446.8L312.1,1446.8L312.4,1446.9L312.7,1446.9L312.8,1446.9L313.0,1446.9L313.3,1446.6L313.6,1446.2L313.9,1445.6L314.2,1444.9L314.5,1444.0L314.8,1443.0L315.1,1441.9L315.4,1440.8L315.7,1439.6L315.9,1439.1L316.0,1438.1L316.3,1435.6L316.6,1432.4L317.0,1428.9L317.3,1425.4L317.6,1422.5L317.9,1420.4L318.2,1419.6L318.2,1419.6L318.5,1420.1L318.8,1421.4L319.1,1423.2L319.4,1425.2L319.7,1427.2L320.0,1428.8L320.3,1429.8L320.5,1430.0L320.6,1429.8L320.9,1428.2L321.2,1425.0L321.5,1420.5L321.8,1414.9L322.1,1408.6L322.4,1401.9L322.7,1395.0L322.8,1393.6L323.0,1386.3L323.3,1373.8L323.6,1360.1L323.9,1348.0L324.2,1340.3L324.2,1340.3L324.5,1336.0L324.8,1332.0L325.1,1328.4L325.4,1325.4L325.7,1323.0L326.0,1321.3L326.3,1320.3L326.5,1320.2L326.6,1320.4L326.9,1323.6L327.2,1329.5L327.5,1337.6L327.8,1347.0L328.1,1357.1L328.4,1367.1L328.7,1376.3L328.8,1378.0L329.0,1385.6L329.3,1396.8L329.7,1408.2L330.0,1417.7L330.3,1423.4L330.4,1424.2L330.6,1424.5L330.9,1425.0L331.2,1425.3L331.5,1425.5L331.8,1425.7L332.1,1426.0L332.4,1426.3L332.7,1426.8L332.7,1426.8L333.0,1427.8L333.3,1429.6L333.6,1431.9L333.9,1434.3L334.2,1436.7L334.5,1438.7L334.8,1440.0L335.0,1440.4L335.1,1440.5L335.4,1440.8L335.7,1441.0L336.0,1441.2L336.3,1441.4L336.6,1441.6L336.9,1441.7L337.2,1441.8L337.5,1441.9L337.8,1442.0L338.1,1442.1L338.4,1442.2L338.7,1442.3L338.7,1442.4L339.0,1442.5L339.3,1442.6L339.6,1442.7L339.9,1442.9L340.2,1443.0L340.5,1443.1L340.8,1443.3L341.1,1443.4L341.4,1443.5L341.7,1443.5L342.0,1443.6L342.4,1443.6L342.6,1443.7L342.7,1443.6L343.0,1443.3L343.3,1442.4L343.6,1441.1L343.9,1439.3L344.2,1437.0L344.5,1434.3L344.8,1431.1L345.1,1427.6L345.4,1423.7L345.7,1419.3L346.0,1414.6L346.3,1409.6L346.3,1408.5L346.6,1403.0L346.9,1392.3L347.2,1377.7L347.5,1359.2L347.8,1337.0L348.1,1311.2L348.4,1282.1L348.6,1256.5L348.7,1249.0L349.0,1191.6L349.3,1115.5L349.6,1040.0L349.6,1040.0L349.9,954.8L350.2,872.5L350.5,845.0L350.5,846.5L350.8,889.1L351.1,965.2L351.4,1040.0L351.4,1040.0L351.7,1110.2L352.0,1184.7L352.3,1246.9L352.5,1271.4L352.6,1283.0L352.9,1308.4L353.2,1329.0L353.5,1345.5L353.8,1358.6L354.0,1363.0L354.1,1369.3L354.4,1378.9L354.7,1387.7L355.0,1395.5L355.4,1402.3L355.7,1408.1L356.0,1412.8L356.3,1416.3L356.3,1416.4L356.6,1419.2L356.9,1422.0L357.2,1424.5L357.5,1426.8L357.8,1429.0L358.1,1431.0L358.4,1432.7L358.7,1434.3L359.0,1435.7L359.3,1436.9L359.6,1437.9L359.9,1438.6L360.1,1439.1L360.2,1439.2L360.5,1439.7L360.8,1440.2L361.1,1440.6L361.4,1441.1L361.7,1441.5L362.0,1441.9L362.3,1442.3L362.6,1442.7L362.9,1443.1L363.2,1443.4L363.5,1443.8L363.8,1444.1L364.1,1444.4L364.4,1444.7L364.7,1444.9L365.0,1445.2L365.3,1445.4L365.6,1445.6L365.9,1445.8L366.2,1446.0L366.5,1446.2L366.8,1446.3L367.1,1446.5L367.4,1446.6L367.7,1446.7L368.1,1446.8L368.4,1446.8L368.7,1446.9L369.0,1446.9L369.2,1446.9L369.3,1446.9L369.6,1446.8L369.9,1446.5L370.2,1446.2L370.5,1445.7L370.8,1445.1L371.1,1444.5L371.4,1443.7L371.7,1443.0L372.0,1442.2L372.3,1441.4L372.6,1440.6L372.9,1439.8L373.2,1439.0L373.5,1438.3L373.8,1437.6L374.1,1437.1L374.4,1436.6L374.7,1436.2L375.0,1436.0L375.3,1435.9L375.4,1435.8L375.6,1435.9L375.9,1436.2L376.2,1436.7L376.5,1437.3L376.8,1438.1L377.1,1438.9L377.4,1439.8L377.7,1440.8L378.0,1441.7L378.3,1442.5L378.6,1443.3L378.9,1444.0L379.2,1444.5L379.5,1444.8L379.8,1445.0L379.8,1445.0L380.1,1444.6L380.4,1443.5L380.7,1442.0L381.1,1439.9L381.4,1437.6L381.7,1435.0L382.0,1432.4L382.3,1429.7L382.6,1427.2L382.9,1425.0L383.0,1424.2L383.2,1423.0L383.5,1421.4L383.8,1419.9L384.1,1418.5L384.4,1417.1L384.7,1415.6L385.0,1413.9L385.3,1411.8L385.6,1409.5L385.9,1406.6L386.0,1405.3L386.2,1402.8L386.5,1396.8L386.8,1388.5L387.1,1378.1L387.4,1365.7L387.5,1363.0L387.7,1348.4L388.0,1321.3L388.3,1287.8L388.6,1251.4L388.9,1215.8L389.0,1202.5L389.2,1180.2L389.5,1136.5L389.8,1098.5L390.1,1082.2L390.1,1082.2L390.4,1103.5L390.7,1152.8L391.0,1208.4L391.3,1248.7L391.3,1248.7L391.6,1272.9L391.9,1295.0L392.2,1315.0L392.5,1332.8L392.8,1348.4L393.1,1361.6L393.4,1372.6L393.6,1378.0L393.8,1381.3L394.1,1389.2L394.4,1396.6L394.7,1403.4L395.0,1409.6L395.3,1415.2L395.6,1420.1L395.9,1424.2L396.2,1427.6L396.5,1430.2L396.7,1431.3L396.8,1431.9L397.1,1433.4L397.4,1434.8L397.7,1436.0L398.0,1437.2L398.3,1438.2L398.6,1439.1L398.9,1440.0L399.2,1440.8L399.5,1441.5L399.8,1442.2L400.1,1442.8L400.4,1443.4L400.7,1444.0L401.0,1444.5L401.2,1445.0L401.3,1445.1L401.6,1445.6L401.9,1446.2L402.2,1446.7L402.5,1447.3L402.8,1447.8L403.1,1448.4L403.4,1448.9L403.7,1449.4L404.0,1449.9L404.3,1450.3L404.6,1450.7L404.9,1451.1L405.2,1451.5L405.5,1451.8L405.8,1452.1L406.1,1452.3L406.4,1452.5L406.8,1452.7L407.1,1452.7L407.3,1452.8L407.4,1452.7L407.7,1451.4L408.0,1448.5L408.3,1444.2L408.6,1439.0L408.9,1433.0L409.2,1426.7L409.5,1420.4L409.8,1414.2L410.1,1408.7L410.4,1404.0L410.7,1400.5L411.0,1398.5L411.2,1398.2L411.3,1398.4L411.6,1400.8L411.9,1405.4L412.2,1411.6L412.5,1418.7L412.8,1426.2L413.1,1433.4L413.4,1439.8L413.7,1444.8L414.0,1447.7L414.2,1448.2L414.3,1448.1L414.6,1447.3L414.9,1445.6L415.2,1443.1L415.5,1440.1L415.8,1436.6L416.1,1432.7L416.4,1428.6L416.7,1424.4L417.0,1420.1L417.3,1416.0L417.6,1412.1L417.9,1408.5L417.9,1408.5L418.2,1405.0L418.5,1400.9L418.8,1396.6L419.1,1392.0L419.5,1387.4L419.8,1382.9L420.1,1378.6L420.4,1374.6L420.7,1371.1L421.0,1368.2L421.3,1366.0L421.6,1364.7L421.8,1364.3L421.9,1364.4L422.2,1364.8L422.5,1365.7L422.8,1367.0L423.1,1368.7L423.4,1370.6L423.7,1372.6L424.0,1374.6L424.1,1375.4L424.3,1376.7L424.6,1379.3L424.9,1382.4L425.2,1385.8L425.5,1389.5L425.8,1393.2L426.1,1397.0L426.4,1400.7L426.7,1404.2L427.0,1407.4L427.1,1408.5L427.3,1410.3L427.6,1413.3L427.9,1416.4L428.2,1419.6L428.5,1422.8L428.8,1425.9L429.1,1428.9L429.4,1431.6L429.7,1434.0L430.0,1436.0L430.3,1437.6L430.6,1438.6L430.9,1439.1L431.0,1439.1L431.2,1438.3L431.5,1435.3L431.8,1430.3L432.2,1423.6L432.5,1415.5L432.8,1406.3L433.1,1396.4L433.4,1386.0L433.7,1375.5L434.0,1365.1L434.0,1363.0L434.3,1352.6L434.6,1335.2L434.9,1317.2L435.2,1303.1L435.5,1297.4L435.5,1297.4L435.8,1300.2L436.1,1307.9L436.4,1319.0L436.7,1332.3L437.0,1346.4L437.3,1360.2L437.6,1372.2L437.8,1378.0L437.9,1381.5L438.2,1390.8L438.5,1400.4L438.8,1409.6L439.1,1418.1L439.4,1425.1L439.7,1430.3L440.0,1433.0L440.1,1433.2L440.3,1433.8L440.6,1434.4L440.9,1434.8L441.2,1435.2L441.5,1435.5L441.8,1435.8L442.1,1436.0L442.4,1436.2L442.7,1436.4L443.0,1436.7L443.3,1437.0L443.6,1437.3L443.9,1437.8L443.9,1437.8L444.2,1438.4L444.5,1439.2L444.8,1440.2L445.2,1441.3L445.5,1442.5L445.8,1443.8L446.1,1445.1L446.4,1446.3L446.7,1447.5L447.0,1448.6L447.3,1449.6L447.6,1450.4L447.9,1451.0L448.2,1451.4L448.4,1451.5L448.5,1451.4L448.8,1451.4L449.1,1451.4L449.4,1451.3L449.7,1451.2L450.0,1451.0L450.3,1450.8L450.6,1450.6L450.9,1450.4L451.2,1450.2L451.5,1449.9L451.8,1449.6L452.1,1449.3L452.4,1448.9L452.7,1448.6L453.0,1448.2L453.0,1448.2L453.3,1447.5L453.6,1446.3L453.9,1444.6L454.2,1442.6L454.5,1440.4L454.8,1438.1L455.1,1435.8L455.4,1433.5L455.7,1431.5L456.0,1429.8L456.3,1428.4L456.6,1427.6L456.9,1427.4L456.9,1427.4L457.2,1428.8L457.5,1431.7L457.9,1435.7L458.2,1440.5L458.5,1445.7L458.8,1450.7L459.1,1455.3L459.4,1458.9L459.7,1461.2L459.9,1461.8L460.0,1461.8L460.3,1461.6L460.6,1461.1L460.9,1460.4L461.2,1459.5L461.5,1458.4L461.8,1457.3L462.1,1456.1L462.4,1454.9L462.7,1453.7L462.9,1452.8L463.0,1452.5L463.3,1451.2L463.6,1449.6L463.9,1447.8L464.2,1446.0L464.5,1444.2L464.8,1442.5L465.1,1441.1L465.4,1440.0L465.7,1439.3L466.0,1439.1L466.0,1439.1L466.3,1439.8L466.6,1441.4L466.9,1443.6L467.2,1446.3L467.5,1449.2L467.8,1452.0L468.1,1454.7L468.4,1456.9L468.7,1458.5L469.0,1459.2L469.1,1459.2L469.3,1459.2L469.6,1459.2L469.9,1459.1L470.2,1459.0L470.5,1458.9L470.9,1458.8L471.2,1458.6L471.5,1458.4L471.8,1458.2L472.1,1458.0L472.4,1457.7L472.7,1457.5L472.8,1457.3L473.0,1457.1L473.3,1456.2L473.6,1454.8L473.9,1452.9L474.2,1450.6L474.5,1448.1L474.8,1445.4L475.1,1442.7L475.4,1440.1L475.7,1437.6L476.0,1435.4L476.3,1433.5L476.6,1432.2L476.9,1431.4L477.1,1431.3L477.2,1431.4L477.5,1432.4L477.8,1434.4L478.1,1436.9L478.4,1439.8L478.7,1442.6L479.0,1445.1L479.3,1447.1L479.6,1448.1L479.7,1448.2L479.9,1448.2L480.2,1447.9L480.5,1447.4L480.8,1446.7L481.1,1445.9L481.4,1445.0L481.7,1444.0L482.0,1443.0L482.3,1442.0L482.6,1441.0L482.9,1440.1L483.2,1439.3L483.6,1438.6L483.9,1438.1L484.2,1437.8L484.3,1437.8L484.5,1437.8L484.8,1438.3L485.1,1439.2L485.4,1440.4L485.7,1441.9L486.0,1443.7L486.3,1445.6L486.6,1447.6L486.9,1449.5L487.2,1451.4L487.5,1453.2L487.8,1454.7L488.1,1455.9L488.4,1456.8L488.7,1457.3L488.8,1457.3L489.0,1457.3L489.3,1457.1L489.6,1456.8L489.9,1456.5L490.2,1456.0L490.5,1455.5L490.8,1454.9L491.1,1454.4L491.4,1453.8L491.7,1453.2L492.0,1452.7L492.3,1452.3L492.6,1451.9L492.9,1451.6L493.2,1451.5L493.4,1451.5L493.5,1451.5L493.8,1451.5L494.1,1451.6L494.4,1451.8L494.7,1452.0L495.0,1452.2L495.3,1452.4L495.6,1452.7L495.9,1453.0L496.2,1453.2L496.6,1453.4L496.9,1453.6L497.2,1453.8L497.5,1453.9L497.8,1454.0L498.0,1454.0L498.1,1454.0L498.4,1453.3L498.7,1451.6L499.0,1449.0L499.3,1445.6L499.6,1441.6L499.9,1437.0L500.2,1432.0L500.5,1426.6L500.8,1421.0L501.0,1416.3L501.1,1415.1L501.4,1405.7L501.7,1392.5L502.0,1377.3L502.3,1361.8L502.6,1347.8L502.9,1337.0L503.2,1331.1L503.3,1330.5L503.5,1331.8L503.8,1338.6L504.1,1349.9L504.4,1363.7L504.7,1378.2L505.0,1391.8L505.3,1402.5L505.6,1408.5L505.6,1408.6L505.9,1411.5L506.2,1414.0L506.5,1416.2L506.8,1418.2L507.1,1419.9L507.4,1421.4L507.7,1422.7L508.0,1424.0L508.3,1425.3L508.6,1426.6L508.9,1427.9L509.3,1429.4L509.4,1430.0L509.6,1431.0L509.9,1432.7L510.2,1434.4L510.5,1436.2L510.8,1437.9L511.1,1439.7L511.4,1441.5L511.7,1443.2L512.0,1444.8L512.3,1446.4L512.6,1447.8L512.9,1449.2L513.2,1450.4L513.5,1451.4L513.8,1452.3L514.0,1452.8L514.1,1453.0L514.4,1453.7L514.7,1454.3L515.0,1454.9L515.3,1455.5L515.6,1456.1L515.9,1456.7L516.2,1457.2L516.5,1457.6L516.8,1458.0L517.1,1458.4L517.4,1458.7L517.7,1458.9L518.0,1459.1L518.3,1459.2L518.6,1459.2L518.6,1459.2L518.9,1459.0L519.2,1458.5L519.5,1457.8L519.8,1456.8L520.1,1455.7L520.4,1454.3L520.7,1452.9L521.0,1451.4L521.3,1449.8L521.6,1448.2L522.0,1446.6L522.3,1445.0L522.6,1443.6L522.9,1442.2L523.2,1440.9L523.5,1439.8L523.8,1438.9L524.1,1438.3L524.4,1437.9L524.6,1437.8L524.7,1437.8L525.0,1438.1L525.3,1438.9L525.6,1440.0L525.9,1441.4L526.2,1443.1L526.5,1444.9L526.8,1446.8L527.1,1448.7L527.4,1450.6L527.7,1452.4L528.0,1454.0L528.3,1455.3L528.6,1456.4L528.9,1457.1L529.2,1457.3L529.2,1457.3L529.5,1456.8L529.8,1455.4L530.1,1453.3L530.4,1450.5L530.7,1447.3L531.0,1443.6L531.3,1439.8L531.6,1435.9L531.9,1432.1L532.2,1428.4L532.5,1425.1L532.8,1422.2L533.1,1419.9L533.4,1418.4L533.7,1417.7L533.8,1417.7L534.0,1418.1L534.3,1419.9L534.6,1422.8L535.0,1426.5L535.3,1430.8L535.6,1435.5L535.9,1440.4L536.2,1445.2L536.5,1449.6L536.8,1453.5L537.1,1456.5L537.4,1458.5L537.7,1459.2L537.7,1459.2L538.0,1459.2L538.3,1459.2L538.6,1459.1L538.9,1458.9L539.2,1458.8L539.5,1458.6L539.8,1458.4L540.1,1458.2L540.4,1458.0L540.7,1457.8L541.0,1457.6L541.3,1457.4L541.4,1457.3L541.6,1457.2L541.9,1457.0L542.2,1456.8L542.5,1456.6L542.8,1456.4L543.1,1456.2L543.4,1455.9L543.7,1455.7L544.0,1455.5L544.3,1455.2L544.6,1455.0L544.9,1454.7L545.2,1454.4L545.5,1454.1L545.8,1453.7L546.1,1453.4L546.4,1453.0L546.7,1452.6L547.0,1452.1L547.3,1451.6L547.5,1451.5L547.7,1451.1L548.0,1450.1L548.3,1448.9L548.6,1447.4L548.9,1445.6L549.2,1443.7L549.5,1441.8L549.8,1439.8L550.1,1437.8L550.4,1435.9L550.7,1434.2L551.0,1432.7L551.3,1431.5L551.6,1430.6L551.9,1430.1L552.1,1430.0L552.2,1430.1L552.5,1430.6L552.8,1431.8L553.1,1433.4L553.4,1435.3L553.7,1437.5L554.0,1439.8L554.3,1442.0L554.6,1444.2L554.9,1446.1L555.2,1447.7L555.5,1448.9L555.8,1449.4L555.9,1449.5L556.1,1449.4L556.4,1448.6L556.7,1447.3L557.0,1445.5L557.3,1443.4L557.6,1441.2L557.9,1438.8L558.2,1436.5L558.5,1434.4L558.8,1432.5L559.1,1431.1L559.4,1430.2L559.7,1430.0L559.7,1430.0L560.0,1430.3L560.3,1431.0L560.7,1432.1L561.0,1433.4L561.3,1435.0L561.6,1436.7L561.9,1438.6L562.2,1440.6L562.5,1442.5L562.8,1444.4L563.1,1446.2L563.4,1447.9L563.7,1449.4L564.0,1450.6L564.3,1451.5L564.3,1451.5L564.6,1452.1L564.9,1452.8L565.2,1453.5L565.5,1454.1L565.8,1454.8L566.1,1455.4L566.4,1456.0L566.7,1456.5L567.0,1457.1L567.3,1457.6L567.6,1458.0L567.9,1458.5L568.2,1458.9L568.5,1459.2L568.8,1459.6L569.1,1459.8L569.4,1460.1L569.7,1460.3L570.0,1460.4L570.3,1460.5L570.3,1460.6L570.6,1460.6L570.9,1460.7L571.2,1460.8L571.5,1460.9L571.8,1460.9L572.1,1461.0L572.4,1461.1L572.7,1461.1L573.0,1461.2L573.4,1461.3L573.7,1461.3L574.0,1461.4L574.3,1461.4L574.6,1461.5L574.9,1461.5L575.2,1461.5L575.5,1461.6L575.8,1461.6L576.1,1461.7L576.4,1461.7L576.7,1461.7L577.0,1461.7L577.3,1461.8L577.6,1461.8L577.9,1461.8L578.2,1461.8L578.5,1461.8L578.8,1461.8L579.1,1461.8L579.4,1461.8L579.5,1461.8L579.7,1461.8L580.0,1461.8L580.3,1461.8L580.6,1461.8L580.9,1461.8L581.2,1461.8L581.5,1461.7L581.8,1461.7L582.1,1461.7L582.4,1461.6L582.7,1461.6L583.0,1461.5L583.3,1461.5L583.6,1461.4L583.9,1461.4L584.2,1461.3L584.5,1461.3L584.8,1461.2L585.1,1461.1L585.4,1461.0L585.7,1461.0L586.0,1460.9L586.4,1460.8L586.7,1460.7L587.0,1460.6L587.1,1460.5L587.3,1460.5L587.6,1460.3L587.9,1460.1L588.2,1459.7L588.5,1459.3L588.8,1458.9L589.1,1458.4L589.4,1457.9L589.7,1457.3L590.0,1456.8L590.3,1456.2L590.6,1455.6L590.9,1455.1L591.2,1454.6L591.5,1454.1L591.8,1453.7L592.1,1453.4L592.4,1453.1L592.7,1452.9L593.0,1452.8L593.2,1452.8L593.3,1452.8L593.6,1452.8L593.9,1452.8L594.2,1452.9L594.5,1453.0L594.8,1453.1L595.1,1453.2L595.4,1453.4L595.7,1453.5L596.0,1453.6L596.3,1453.7L596.6,1453.8L596.9,1453.9L597.2,1454.0L597.5,1454.0L597.8,1454.0L597.8,1454.0L598.1,1454.0L598.4,1453.8L598.7,1453.6L599.1,1453.3L599.4,1452.9L599.7,1452.4L600.0,1451.9L600.3,1451.2L600.6,1450.5L600.9,1449.8L601.2,1448.9L601.5,1448.0L601.8,1447.1L602.1,1446.0L602.4,1445.0L602.4,1444.9L602.7,1442.7L603.0,1438.4L603.3,1432.5L603.6,1425.4L603.9,1417.4L604.2,1408.9L604.5,1400.4L604.8,1392.2L605.1,1384.7L605.4,1378.3L605.7,1373.4L606.0,1370.3L606.2,1369.5L606.3,1369.6L606.6,1372.2L606.9,1377.8L607.2,1385.6L607.5,1395.0L607.8,1405.0L608.1,1415.1L608.4,1424.3L608.7,1431.9L609.0,1437.1L609.3,1439.1L609.3,1439.3L609.6,1440.3L609.9,1441.2L610.2,1442.0L610.5,1442.6L610.8,1443.1L611.1,1443.5L611.4,1443.6L611.6,1443.7L611.8,1443.4L612.1,1442.0L612.4,1439.4L612.7,1435.8L613.0,1431.4L613.3,1426.4L613.6,1420.8L613.9,1415.0L614.2,1409.0L614.5,1403.1L614.6,1400.8L614.8,1396.6L615.1,1387.3L615.4,1376.3L615.7,1365.0L616.0,1354.8L616.3,1347.3L616.6,1343.7L616.6,1343.5L616.9,1346.5L617.2,1356.7L617.5,1370.8L617.8,1385.2L618.1,1396.4L618.3,1400.8L618.4,1401.1L618.7,1402.7L619.0,1403.9L619.3,1404.8L619.6,1405.5L619.9,1406.2L620.2,1407.0L620.5,1408.0L620.6,1408.5L620.8,1409.4L621.1,1411.1L621.4,1413.0L621.7,1415.1L622.0,1417.3L622.3,1419.6L622.6,1421.9L622.9,1424.2L622.9,1424.2L623.2,1426.6L623.5,1429.5L623.8,1432.6L624.1,1435.6L624.4,1438.3L624.8,1440.5L625.1,1441.9L625.2,1442.3L625.4,1442.5L625.7,1442.8L626.0,1443.0L626.3,1443.2L626.6,1443.4L626.9,1443.5L627.2,1443.6L627.5,1443.7L627.8,1443.8L628.1,1443.9L628.4,1444.0L628.7,1444.2L629.0,1444.3L629.3,1444.5L629.6,1444.7L629.8,1445.0L629.9,1445.0L630.2,1445.5L630.5,1446.3L630.8,1447.3L631.1,1448.4L631.4,1449.7L631.7,1451.1L632.0,1452.5L632.3,1453.9L632.6,1455.3L632.9,1456.6L633.2,1457.8L633.5,1458.9L633.8,1459.7L634.1,1460.3L634.4,1460.5L634.4,1460.6L634.7,1460.7L635.0,1460.8L635.3,1460.9L635.6,1461.0L635.9,1461.1L636.2,1461.2L636.5,1461.3L636.8,1461.4L637.1,1461.4L637.5,1461.5L637.8,1461.6L638.1,1461.6L638.4,1461.7L638.7,1461.7L639.0,1461.8L639.3,1461.8L639.6,1461.8L639.9,1461.8L640.2,1461.8L640.5,1461.8L640.5,1461.8L640.8,1461.7L641.1,1461.2L641.4,1460.3L641.7,1459.3L642.0,1458.0L642.3,1456.6L642.6,1455.0L642.9,1453.4L643.2,1451.8L643.5,1450.1L643.8,1448.5L644.1,1447.0L644.4,1445.6L644.7,1444.5L645.0,1443.5L645.3,1442.8L645.6,1442.4L645.8,1442.3L645.9,1442.4L646.2,1443.3L646.5,1445.0L646.8,1447.2L647.1,1449.8L647.4,1452.5L647.7,1455.2L648.0,1457.5L648.3,1459.3L648.6,1460.4L648.8,1460.5L648.9,1460.5L649.2,1460.5L649.5,1460.5L649.8,1460.4L650.1,1460.2L650.5,1460.1L650.8,1459.9L651.1,1459.8L651.4,1459.6L651.7,1459.3L652.0,1459.1L652.3,1458.9L652.6,1458.6L652.9,1458.4L653.2,1458.1L653.5,1457.9L653.8,1457.6L654.1,1457.4L654.1,1457.3L654.4,1457.1L654.7,1456.8L655.0,1456.6L655.3,1456.3L655.6,1456.0L655.9,1455.8L656.2,1455.4L656.5,1455.1L656.8,1454.7L657.1,1454.3L657.4,1453.9L657.7,1453.4L658.0,1452.9L658.3,1452.3L658.6,1451.7L658.7,1451.5L658.9,1450.9L659.2,1449.3L659.5,1447.0L659.8,1444.1L660.1,1440.7L660.4,1437.0L660.7,1432.9L661.0,1428.6L661.3,1424.2L661.6,1419.8L661.9,1415.6L662.2,1411.6L662.5,1407.9L662.8,1404.7L663.2,1402.0L663.5,1399.9L663.8,1398.6L664.1,1398.2L664.1,1398.2L664.4,1399.0L664.7,1401.5L665.0,1405.1L665.3,1409.7L665.6,1414.9L665.9,1420.3L666.2,1425.7L666.5,1430.6L666.8,1434.9L667.1,1438.2L667.2,1439.1L667.4,1440.3L667.7,1442.4L668.0,1444.4L668.3,1446.3L668.6,1448.1L668.9,1449.8L669.2,1451.3L669.5,1452.7L669.8,1453.9L670.1,1454.8L670.4,1455.5L670.7,1455.9L671.0,1456.0L671.0,1456.0L671.3,1456.0L671.6,1455.9L671.9,1455.7L672.2,1455.6L672.5,1455.4L672.8,1455.1L673.1,1454.8L673.4,1454.5L673.7,1454.1L674.0,1453.7L674.3,1453.3L674.6,1452.9L674.9,1452.4L675.2,1451.9L675.5,1451.5L675.5,1451.4L675.8,1450.7L676.2,1449.6L676.5,1448.0L676.8,1446.2L677.1,1444.0L677.4,1441.7L677.7,1439.2L678.0,1436.5L678.3,1433.8L678.6,1431.0L678.9,1428.3L679.2,1425.6L679.5,1423.1L679.8,1420.8L680.1,1418.6L680.4,1416.8L680.7,1415.2L681.0,1414.1L681.3,1413.4L681.6,1413.1L681.6,1413.1L681.9,1413.2L682.2,1413.6L682.5,1414.2L682.8,1415.0L683.1,1416.0L683.4,1417.1L683.7,1418.4L684.0,1419.8L684.3,1421.3L684.6,1422.9L684.9,1424.6L685.2,1426.2L685.5,1427.9L685.8,1429.6L686.1,1431.3L686.4,1432.9L686.7,1434.5L687.0,1436.0L687.3,1437.4L687.6,1438.6L687.8,1439.1L687.9,1439.8L688.2,1441.0L688.5,1442.2L688.9,1443.5L689.2,1444.9L689.5,1446.2L689.8,1447.6L690.1,1448.9L690.4,1450.2L690.7,1451.5L691.0,1452.7L691.3,1453.9L691.6,1455.0L691.9,1455.9L692.2,1456.8L692.5,1457.6L692.8,1458.2L693.1,1458.7L693.4,1459.1L693.7,1459.2L693.8,1459.2L694.0,1459.2L694.3,1459.0L694.6,1458.6L694.9,1458.0L695.2,1457.3L695.5,1456.4L695.8,1455.4L696.1,1454.4L696.4,1453.2L696.7,1452.0L697.0,1450.7L697.3,1449.3L697.6,1448.0L697.9,1446.7L698.2,1445.3L698.5,1444.0L698.8,1442.8L699.1,1441.6L699.4,1440.5L699.7,1439.5L699.9,1439.1L700.0,1438.5L700.3,1437.6L700.6,1436.5L700.9,1435.5L701.2,1434.4L701.6,1433.3L701.9,1432.2L702.2,1431.1L702.5,1430.0L702.8,1428.9L703.1,1427.9L703.4,1427.0L703.7,1426.0L704.0,1425.2L704.3,1424.4L704.6,1423.8L704.9,1423.2L705.2,1422.8L705.5,1422.4L705.8,1422.2L706.0,1422.2L706.1,1422.2L706.4,1422.3L706.7,1422.5L707.0,1422.8L707.3,1423.2L707.6,1423.8L707.9,1424.4L708.2,1425.1L708.5,1425.8L708.8,1426.7L709.1,1427.5L709.4,1428.5L709.7,1429.4L710.0,1430.5L710.3,1431.5L710.6,1432.5L710.9,1433.6L711.2,1434.7L711.5,1435.7L711.8,1436.8L712.1,1437.8L712.4,1438.8L712.7,1439.8L713.0,1440.7L713.3,1441.5L713.6,1442.3L713.6,1442.4L713.9,1443.2L714.2,1444.0L714.6,1444.9L714.9,1445.9L715.2,1446.9L715.5,1447.8L715.8,1448.8L716.1,1449.8L716.4,1450.8L716.7,1451.8L717.0,1452.7L717.3,1453.5L717.6,1454.3L717.9,1455.0L718.2,1455.7L718.5,1456.2L718.8,1456.7L719.1,1457.0L719.4,1457.2L719.7,1457.3L719.7,1457.3L720.0,1457.3L720.3,1457.3L720.6,1457.3L720.9,1457.3L721.2,1457.3L721.5,1457.3L721.8,1457.3L722.1,1457.3L722.4,1457.3L722.7,1457.3L723.0,1457.3L723.3,1457.3L723.6,1457.3L723.9,1457.3L724.2,1457.3L724.5,1457.3L724.8,1457.3L725.1,1457.3L725.4,1457.3L725.7,1457.3L726.0,1457.3L726.3,1457.3L726.6,1457.3L726.9,1457.3L727.3,1457.3L727.3,1457.3L727.6,1457.3L727.9,1457.1L728.2,1456.9L728.5,1456.6L728.8,1456.2L729.1,1455.7L729.4,1455.1L729.7,1454.5L730.0,1453.8L730.3,1453.0L730.6,1452.2L730.9,1451.4L731.2,1450.5L731.5,1449.5L731.8,1448.6L731.9,1448.2L732.1,1447.5L732.4,1445.7L732.7,1443.3L733.0,1440.5L733.3,1437.4L733.6,1434.0L733.9,1430.7L734.2,1427.5L734.5,1424.5L734.8,1421.8L735.1,1419.7L735.4,1418.3L735.7,1417.7L735.8,1417.7L736.0,1418.0L736.3,1419.4L736.6,1421.6L736.9,1424.5L737.2,1427.8L737.5,1431.4L737.8,1435.1L738.1,1438.7L738.4,1442.0L738.7,1444.7L739.0,1446.8L739.3,1448.0L739.5,1448.2L739.6,1448.1L739.9,1447.3L740.3,1445.7L740.6,1443.4L740.9,1440.7L741.2,1437.7L741.5,1434.5L741.8,1431.4L742.1,1428.4L742.4,1425.7L742.7,1423.4L743.0,1421.8L743.3,1421.0L743.4,1420.9L743.6,1421.1L743.9,1422.4L744.2,1424.5L744.5,1427.4L744.8,1430.8L745.1,1434.5L745.4,1438.4L745.7,1442.1L746.0,1445.6L746.3,1448.6L746.6,1450.9L746.9,1452.4L747.1,1452.8L747.2,1452.7L747.5,1452.6L747.8,1452.1L748.1,1451.4L748.4,1450.6L748.7,1449.6L749.0,1448.5L749.3,1447.3L749.6,1446.0L749.9,1444.8L750.2,1443.5L750.5,1442.3L750.8,1441.2L751.1,1440.1L751.4,1439.3L751.7,1438.6L752.0,1438.1L752.3,1437.8L752.5,1437.8L752.6,1437.9L753.0,1438.4L753.3,1439.3L753.6,1440.4L753.9,1441.8L754.2,1443.4L754.5,1444.9L754.8,1446.5L755.1,1448.0L755.4,1449.3L755.7,1450.4L756.0,1451.1L756.3,1451.4L756.3,1451.5L756.6,1451.4L756.9,1451.1L757.2,1450.6L757.5,1450.0L757.8,1449.2L758.1,1448.4L758.4,1447.5L758.7,1446.5L759.0,1445.6L759.3,1444.8L759.6,1444.0L759.9,1443.3L760.2,1442.8L760.5,1442.5L760.8,1442.3L760.8,1442.3L761.1,1442.5L761.4,1442.9L761.7,1443.5L762.0,1444.4L762.3,1445.3L762.6,1446.4L762.9,1447.5L763.2,1448.7L763.5,1449.8L763.8,1450.9L764.1,1451.9L764.4,1452.7L764.7,1453.4L765.0,1453.8L765.3,1454.0L765.4,1454.0L765.7,1453.9L766.0,1453.1L766.3,1451.9L766.6,1450.3L766.9,1448.4L767.2,1446.2L767.5,1443.9L767.8,1441.6L768.1,1439.2L768.4,1436.9L768.7,1434.9L769.0,1433.1L769.3,1431.6L769.6,1430.6L769.9,1430.0L770.0,1430.0L770.2,1430.2L770.5,1431.3L770.8,1433.1L771.1,1435.6L771.4,1438.6L771.7,1441.9L772.0,1445.3L772.3,1448.7L772.6,1451.9L772.9,1454.7L773.2,1457.0L773.5,1458.5L773.8,1459.2L773.9,1459.2L774.1,1459.2L774.4,1459.1L774.7,1458.9L775.0,1458.6L775.3,1458.3L775.6,1457.9L775.9,1457.5L776.2,1457.1L776.5,1456.6L776.8,1456.2L777.1,1455.8L777.4,1455.4L777.7,1455.0L778.0,1454.7L778.3,1454.4L778.7,1454.2L779.0,1454.1L779.2,1454.0L779.3,1454.1L779.6,1454.1L779.9,1454.2L780.2,1454.4L780.5,1454.6L780.8,1454.9L781.1,1455.2L781.4,1455.6L781.7,1456.0L782.0,1456.3L782.3,1456.7L782.6,1457.1L782.9,1457.5L783.2,1457.9L783.5,1458.2L783.8,1458.5L784.1,1458.8L784.4,1459.0L784.7,1459.1L785.0,1459.2L785.2,1459.2L785.3,1459.2L785.6,1459.1L785.9,1458.7L786.2,1458.1L786.5,1457.3L786.8,1456.4L787.1,1455.4L787.4,1454.3L787.7,1453.1L788.0,1451.8L788.3,1450.5L788.6,1449.3L788.9,1448.1L789.2,1446.9L789.5,1445.8L789.8,1444.8L790.1,1443.9L790.4,1443.3L790.7,1442.7L791.0,1442.4L791.3,1442.3L791.4,1442.4L791.7,1442.6L792.0,1443.3L792.3,1444.3L792.6,1445.5L792.9,1446.9L793.2,1448.6L793.5,1450.4L793.8,1452.2L794.1,1454.1L794.4,1456.0L794.7,1457.8L795.0,1459.5L795.3,1461.1L795.6,1462.5L795.9,1463.6L796.2,1464.5L796.5,1465.0L796.7,1465.1L796.8,1465.1L797.1,1464.9L797.4,1464.4L797.7,1463.7L798.0,1462.7L798.3,1461.6L798.6,1460.3L798.9,1458.8L799.2,1457.2L799.5,1455.5L799.8,1453.7L800.1,1451.8L800.4,1449.9L800.7,1448.0L801.0,1446.2L801.3,1444.3L801.6,1442.5L801.9,1440.8L802.2,1439.3L802.5,1437.8L802.8,1436.5L803.1,1435.4L803.4,1434.5L803.7,1433.8L804.0,1433.4L804.4,1433.2L804.4,1433.2L804.7,1433.4L805.0,1433.8L805.3,1434.5L805.6,1435.4L805.9,1436.5L806.2,1437.7L806.5,1439.1L806.8,1440.6L807.1,1442.1L807.4,1443.7L807.7,1445.2L808.0,1446.7L808.3,1448.2L808.6,1449.6L808.9,1450.8L809.2,1451.9L809.5,1452.8L809.8,1453.5L810.1,1453.9L810.4,1454.0L810.4,1454.0L810.7,1454.0L811.0,1453.7L811.3,1453.4L811.6,1452.9L811.9,1452.4L812.2,1451.9L812.5,1451.3L812.8,1450.8L813.1,1450.3L813.4,1449.9L813.7,1449.7L814.0,1449.5L814.1,1449.5L814.3,1449.6L814.6,1449.9L814.9,1450.5L815.2,1451.4L815.5,1452.4L815.8,1453.6L816.1,1454.8L816.4,1456.2L816.7,1457.5L817.1,1458.8L817.4,1460.1L817.7,1461.2L818.0,1462.2L818.3,1463.0L818.6,1463.6L818.7,1463.8L818.9,1463.9L819.2,1464.2L819.5,1464.4L819.8,1464.6L820.1,1464.8L820.4,1465.1L820.7,1465.3L821.0,1465.4L821.3,1465.6L821.6,1465.8L821.9,1465.9L822.2,1466.0L822.5,1466.1L822.8,1466.2L823.1,1466.3L823.4,1466.4L823.7,1466.4L824.0,1466.4L824.1,1466.4L824.3,1466.4L824.6,1466.3L824.9,1466.1L825.2,1465.9L825.5,1465.6L825.8,1465.2L826.1,1464.9L826.4,1464.5L826.7,1464.0L827.0,1463.6L827.3,1463.1L827.6,1462.6L827.9,1462.2L828.2,1461.7L828.5,1461.3L828.8,1460.9L829.1,1460.5L829.4,1460.1L829.7,1459.8L830.1,1459.6L830.4,1459.4L830.7,1459.3L831.0,1459.2L831.0,1459.2L831.3,1459.3L831.6,1459.3L831.9,1459.3L832.2,1459.3L832.5,1459.3L832.8,1459.3L833.1,1459.4L833.4,1459.4L833.7,1459.4L834.0,1459.5L834.3,1459.5L834.6,1459.6L834.9,1459.6L835.2,1459.7L835.5,1459.7L835.8,1459.8L836.1,1459.8L836.4,1459.9L836.7,1460.0L837.0,1460.0L837.3,1460.1L837.6,1460.1L837.9,1460.2L838.2,1460.3L838.5,1460.4L838.8,1460.4L839.1,1460.5L839.4,1460.6L839.7,1460.6L840.0,1460.7L840.3,1460.8L840.6,1460.8L840.9,1460.9L841.2,1461.0L841.5,1461.0L841.8,1461.1L842.1,1461.2L842.4,1461.2L842.8,1461.3L843.1,1461.4L843.4,1461.4L843.7,1461.5L844.0,1461.5L844.3,1461.6L844.6,1461.6L844.9,1461.6L845.2,1461.7L845.5,1461.7L845.8,1461.7L846.1,1461.8L846.4,1461.8L846.7,1461.8L847.0,1461.8L847.3,1461.8L847.6,1461.8L847.8,1461.8L847.9,1461.8L848.2,1461.8L848.5,1461.8L848.8,1461.8L849.1,1461.7L849.4,1461.6L849.7,1461.5L850.0,1461.4L850.3,1461.3L850.6,1461.2L850.9,1461.0L851.2,1460.8L851.5,1460.7L851.8,1460.5L852.1,1460.3L852.4,1460.1L852.7,1459.9L853.0,1459.7L853.3,1459.5L853.6,1459.2L853.9,1459.0L854.2,1458.7L854.5,1458.5L854.8,1458.2L855.1,1458.0L855.5,1457.7L855.8,1457.4L856.1,1457.1L856.4,1456.9L856.7,1456.6L857.0,1456.3L857.3,1456.0L857.6,1455.7L857.9,1455.4L858.2,1455.2L858.5,1454.9L858.8,1454.6L859.1,1454.3L859.4,1454.0L859.7,1453.8L860.0,1453.5L860.3,1453.2L860.6,1453.0L860.9,1452.7L861.2,1452.5L861.5,1452.2L861.8,1452.0L862.1,1451.8L862.4,1451.5L862.7,1451.3L863.0,1451.1L863.3,1450.9L863.6,1450.7L863.9,1450.6L864.2,1450.4L864.5,1450.3L864.8,1450.1L865.1,1450.0L865.4,1449.9L865.7,1449.8L866.0,1449.7L866.3,1449.6L866.6,1449.6L866.9,1449.5L867.2,1449.5L867.5,1449.5L867.5,1449.5L867.8,1449.5L868.1,1449.6L868.5,1449.6L868.8,1449.8L869.1,1449.9L869.4,1450.0L869.7,1450.2L870.0,1450.4L870.3,1450.6L870.6,1450.8L870.9,1451.0L871.2,1451.3L871.5,1451.6L871.8,1451.8L872.1,1452.1L872.4,1452.4L872.7,1452.7L873.0,1452.9L873.3,1453.2L873.6,1453.5L873.9,1453.8L874.2,1454.1L874.5,1454.4L874.8,1454.6L875.1,1454.9L875.4,1455.1L875.7,1455.4L876.0,1455.6L876.3,1455.8L876.6,1456.0L876.7,1456.0L876.9,1456.1L877.2,1456.3L877.5,1456.5L877.8,1456.6L878.1,1456.8L878.4,1457.0L878.7,1457.1L879.0,1457.3L879.3,1457.4L879.6,1457.6L879.9,1457.7L880.2,1457.9L880.5,1458.0L880.8,1458.2L881.2,1458.3L881.5,1458.5L881.8,1458.6L882.1,1458.7L882.4,1458.9L882.7,1459.0L883.0,1459.1L883.3,1459.3L883.6,1459.4L883.9,1459.5L884.2,1459.7L884.5,1459.8L884.8,1459.9L885.1,1460.1L885.4,1460.2L885.7,1460.3L886.0,1460.4L886.3,1460.6L886.6,1460.7L886.9,1460.8L887.2,1460.9L887.5,1461.1L887.8,1461.2L888.1,1461.3L888.4,1461.4L888.7,1461.6L889.0,1461.7L889.3,1461.8L889.6,1462.0L889.9,1462.1L890.2,1462.2L890.5,1462.3L890.8,1462.5L891.1,1462.6L891.4,1462.7L891.7,1462.9L892.0,1463.0L892.3,1463.1L892.6,1463.3L892.9,1463.4L893.2,1463.5L893.5,1463.7L893.8,1463.8L894.2,1463.9L894.5,1464.1L894.8,1464.2L895.1,1464.4L895.4,1464.5L895.7,1464.7L896.0,1464.8L896.3,1465.0L896.5,1465.1L896.6,1465.1L896.9,1465.3L897.2,1465.5L897.5,1465.7L897.8,1465.9L898.1,1466.2L898.4,1466.4L898.7,1466.6L899.0,1466.8L899.3,1466.9L899.6,1467.0L899.9,1467.0L900.0,1467.0L900.2,1467.0L900.5,1467.0L900.8,1466.9L901.1,1466.7L901.4,1466.5L901.7,1466.3L902.0,1466.0L902.3,1465.7L902.6,1465.4L902.9,1465.0L903.2,1464.6L903.5,1464.2L903.8,1463.7L904.1,1463.3L904.4,1462.8L904.7,1462.3L905.0,1461.9L905.3,1461.4L905.6,1460.9L905.9,1460.4L906.2,1459.9L906.5,1459.4L906.9,1459.0L907.2,1458.5L907.5,1458.1L907.8,1457.7L908.1,1457.3L908.4,1456.9L908.6,1456.7L908.7,1456.6L909.0,1456.2L909.3,1455.9L909.6,1455.5L909.9,1455.2L910.2,1454.8L910.5,1454.4L910.8,1454.0L911.1,1453.6L911.4,1453.2L911.7,1452.8L912.0,1452.4L912.3,1452.0L912.6,1451.7L912.9,1451.3L913.2,1451.0L913.5,1450.7L913.8,1450.3L914.1,1450.1L914.4,1449.8L914.7,1449.6L915.0,1449.4L915.3,1449.2L915.6,1449.1L915.9,1448.9L916.2,1448.9L916.5,1448.9L916.6,1448.8L916.8,1448.9L917.1,1448.9L917.4,1449.0L917.7,1449.2L918.0,1449.3L918.3,1449.5L918.6,1449.8L918.9,1450.0L919.2,1450.3L919.5,1450.7L919.9,1451.0L920.2,1451.4L920.5,1451.8L920.8,1452.2L921.1,1452.6L921.4,1453.0L921.7,1453.5L922.0,1453.9L922.3,1454.4L922.6,1454.9L922.9,1455.3L922.9,1455.4L923.2,1455.9L923.5,1456.8L923.8,1457.7L924.1,1458.8L924.4,1459.9L924.7,1461.0L925.0,1462.0L925.3,1463.0L925.6,1463.7L925.9,1464.2L926.2,1464.4L926.3,1464.5L926.5,1464.4L926.8,1464.4L927.1,1464.4L927.4,1464.4L927.7,1464.3L928.0,1464.3L928.3,1464.2L928.6,1464.2L928.9,1464.1L929.2,1464.0L929.5,1463.9L929.8,1463.8L930.1,1463.7L930.4,1463.7L930.7,1463.6L931.0,1463.5L931.3,1463.4L931.6,1463.3L931.9,1463.2L932.2,1463.1L932.6,1463.0L932.9,1462.9L933.2,1462.8L933.5,1462.7L933.8,1462.6L934.1,1462.5L934.2,1462.5L934.4,1462.5L934.7,1462.4L935.0,1462.3L935.3,1462.2L935.6,1462.2L935.9,1462.1L936.2,1462.0L936.5,1461.9L936.8,1461.8L937.1,1461.7L937.4,1461.6L937.7,1461.5L938.0,1461.4L938.3,1461.4L938.6,1461.3L938.9,1461.2L939.2,1461.1L939.5,1461.0L939.8,1460.9L940.1,1460.8L940.4,1460.7L940.7,1460.7L941.0,1460.6L941.3,1460.5L941.6,1460.4L941.9,1460.4L942.2,1460.3L942.5,1460.2L942.8,1460.2L943.1,1460.1L943.4,1460.1L943.7,1460.0L944.0,1460.0L944.3,1460.0L944.6,1459.9L944.9,1459.9L945.3,1459.9L945.6,1459.9L945.7,1459.9L945.9,1459.9L946.2,1459.9L946.5,1459.9L946.8,1459.9L947.1,1460.0L947.4,1460.0L947.7,1460.1L948.0,1460.1L948.3,1460.2L948.6,1460.2L948.9,1460.3L949.2,1460.4L949.5,1460.5L949.8,1460.5L950.1,1460.6L950.4,1460.7L950.7,1460.8L951.0,1460.9L951.3,1461.0L951.6,1461.1L951.9,1461.2L952.2,1461.3L952.5,1461.4L952.8,1461.6L953.1,1461.7L953.4,1461.8L953.7,1461.9L954.0,1462.0L954.3,1462.1L954.6,1462.2L954.9,1462.4L955.2,1462.5L955.5,1462.6L955.8,1462.7L956.1,1462.8L956.4,1462.9L956.7,1463.0L957.0,1463.1L957.1,1463.2L957.3,1463.2L957.6,1463.3L957.9,1463.5L958.3,1463.6L958.6,1463.7L958.9,1463.9L959.2,1464.0L959.5,1464.2L959.8,1464.3L960.1,1464.5L960.4,1464.6L960.7,1464.8L961.0,1464.9L961.3,1465.1L961.6,1465.3L961.9,1465.4L962.2,1465.6L962.5,1465.7L962.8,1465.9L963.1,1466.1L963.4,1466.2L963.7,1466.4L964.0,1466.5L964.3,1466.6L964.6,1466.8L964.9,1466.9L965.2,1467.0L965.5,1467.1L965.8,1467.2L966.1,1467.3L966.4,1467.4L966.7,1467.5L967.0,1467.6L967.3,1467.6L967.6,1467.6L967.9,1467.7L968.2,1467.7L968.5,1467.7L968.5,1467.7L968.8,1467.7L969.1,1467.7L969.4,1467.7L969.7,1467.7L970.0,1467.7L970.3,1467.7L970.6,1467.7L971.0,1467.7L971.3,1467.7L971.6,1467.7L971.9,1467.7L972.2,1467.7L972.5,1467.7L972.8,1467.7L973.1,1467.7L973.4,1467.7L973.7,1467.7L974.0,1467.7L974.3,1467.7L974.6,1467.7L974.9,1467.7L975.2,1467.7L975.5,1467.7L975.8,1467.7L976.1,1467.7L976.4,1467.7L976.7,1467.7L977.0,1467.7L977.3,1467.7L977.3,1467.7" fill="none" stroke="#3d6389" stroke-width="3.0" stroke-linejoin="round" stroke-linecap="round"/>
<g fill="#000">
<use href="#mu" x="207.7" y="1353.7"/>
<polygon points="221.8,1403.9 226.0,1411.8 235.1,1411.8 227.4,1418.6 229.9,1427.1 221.8,1422.3 213.7,1427.1 216.2,1418.6 208.5,1411.8 217.6,1411.8"/>
<use href="#mu" x="289.3" y="1426.3"/>
<polygon points="300.9,1325.9 305.1,1333.8 314.2,1333.8 306.5,1340.6 309.0,1349.1 300.9,1344.3 292.8,1349.1 295.3,1340.6 287.6,1333.8 296.7,1333.8"/>
<polygon points="311.9,1345.1 316.1,1353.0 325.2,1353.0 317.5,1359.8 320.0,1368.3 311.9,1363.5 303.8,1368.3 306.3,1359.8 298.6,1353.0 307.7,1353.0"/>
<polygon points="308.3,1391.2 330.9,1391.2 319.6,1410.8"/>
<use href="#mu" x="325.0" y="1308.0"/>
<polygon points="350.1,816.0 354.3,823.9 363.4,823.9 355.7,830.7 358.2,839.2 350.1,834.4 342.0,839.2 344.5,830.7 336.8,823.9 345.9,823.9"/>
<polygon points="391.3,1048.7 395.5,1056.6 404.6,1056.6 396.9,1063.4 399.4,1071.9 391.3,1067.1 383.2,1071.9 385.7,1063.4 378.0,1056.6 387.1,1056.6"/>
<use href="#pl" x="374.2" y="1417.8"/>
<use href="#mu" x="380.7" y="1388.0"/>
<use href="#mu" x="411.1" y="1381.9"/>
<polygon points="421.8,1333.8 426.0,1341.7 435.1,1341.7 427.4,1348.5 429.9,1357.0 421.8,1352.2 413.7,1357.0 416.2,1348.5 408.5,1341.7 417.6,1341.7"/>
<polygon points="425.3,1268.2 447.9,1268.2 436.6,1287.7"/>
<use href="#mu" x="455.6" y="1407.0"/>
<polygon points="456.2,1412.7 478.8,1412.7 467.5,1432.2"/>
<polygon points="479.0,1387.4 483.2,1395.3 492.3,1395.3 484.6,1402.1 487.1,1410.6 479.0,1405.8 470.9,1410.6 473.4,1402.1 465.7,1395.3 474.8,1395.3"/>
<use href="#mu" x="488.5" y="1426.9"/>
<polygon points="503.0,1300.2 507.2,1308.1 516.3,1308.1 508.6,1314.9 511.1,1323.4 503.0,1318.6 494.9,1323.4 497.4,1314.9 489.7,1308.1 498.8,1308.1"/>
<use href="#mu" x="524.7" y="1426.9"/>
<polygon points="523.3,1384.3 545.9,1384.3 534.6,1403.8"/>
<polygon points="551.4,1390.9 555.6,1398.8 564.7,1398.8 557.0,1405.6 559.5,1414.1 551.4,1409.3 543.3,1414.1 545.8,1405.6 538.1,1398.8 547.2,1398.8"/>
<polygon points="565.5,1403.1 569.7,1411.0 578.8,1411.0 571.1,1417.8 573.6,1426.3 565.5,1421.5 557.4,1426.3 559.9,1417.8 552.2,1411.0 561.3,1411.0"/>
<polygon points="605.8,1338.0 610.0,1345.9 619.1,1345.9 611.4,1352.7 613.9,1361.2 605.8,1356.4 597.7,1361.2 600.2,1352.7 592.5,1345.9 601.6,1345.9"/>
<polygon points="617.9,1310.8 622.1,1318.7 631.2,1318.7 623.5,1325.5 626.0,1334.0 617.9,1329.2 609.8,1334.0 612.3,1325.5 604.6,1318.7 613.7,1318.7"/>
<use href="#pl" x="625.5" y="1357.0"/>
<polygon points="625.0,1371.0 629.2,1378.9 638.3,1378.9 630.6,1385.7 633.1,1394.2 625.0,1389.4 616.9,1394.2 619.4,1385.7 611.7,1378.9 620.8,1378.9"/>
<polygon points="635.1,1415.4 639.3,1423.3 648.4,1423.3 640.7,1430.1 643.2,1438.6 635.1,1433.8 627.0,1438.6 629.5,1430.1 621.8,1423.3 630.9,1423.3"/>
<polygon points="633.1,1403.5 655.7,1403.5 644.4,1423.0"/>
<polygon points="663.0,1363.0 667.2,1370.9 676.3,1370.9 668.6,1377.7 671.1,1386.2 663.0,1381.4 654.9,1386.2 657.4,1377.7 649.7,1370.9 658.8,1370.9"/>
<polygon points="680.1,1383.0 684.3,1390.9 693.4,1390.9 685.7,1397.7 688.2,1406.2 680.1,1401.4 672.0,1406.2 674.5,1397.7 666.8,1390.9 675.9,1390.9"/>
<polygon points="695.4,1389.8 718.0,1389.8 706.7,1409.2"/>
<polygon points="733.0,1369.9 737.2,1377.8 746.3,1377.8 738.6,1384.6 741.1,1393.1 733.0,1388.3 724.9,1393.1 727.4,1384.6 719.7,1377.8 728.8,1377.8"/>
<use href="#mu" x="744.9" y="1407.8"/>
<polygon points="755.6,1407.3 759.8,1415.2 768.9,1415.2 761.2,1422.0 763.7,1430.5 755.6,1425.7 747.5,1430.5 750.0,1422.0 742.3,1415.2 751.4,1415.2"/>
<polygon points="772.5,1394.4 776.7,1402.3 785.8,1402.3 778.1,1409.1 780.6,1417.6 772.5,1412.8 764.4,1417.6 766.9,1409.1 759.2,1402.3 768.3,1402.3"/>
<use href="#mu" x="789.8" y="1430.0"/>
<polygon points="803.9,1391.7 808.1,1399.6 817.2,1399.6 809.5,1406.4 812.0,1414.9 803.9,1410.1 795.8,1414.9 798.3,1406.4 790.6,1399.6 799.7,1399.6"/>
<polygon points="805.2,1420.5 827.8,1420.5 816.5,1440.0"/>
<use href="#mu" x="869.0" y="1434.5"/>
<polygon points="916.0,1388.1 920.2,1396.0 929.3,1396.0 921.6,1402.8 924.1,1411.3 916.0,1406.5 907.9,1411.3 910.4,1402.8 902.7,1396.0 911.8,1396.0"/>
<use href="#mu" x="917.5" y="1433.1"/>
</g>
<g stroke="#000" stroke-width="3" fill="none">
<rect x="130.7" y="812.7" width="846.6" height="682.3"/>
<path d="M130.7,1495.0h13.0M977.3,1495.0h-13.0M130.7,1430.0h6.0M977.3,1430.0h-6.0M130.7,1365.0h13.0M977.3,1365.0h-13.0M130.7,1300.0h6.0M977.3,1300.0h-6.0M130.7,1235.0h13.0M977.3,1235.0h-13.0M130.7,1170.0h6.0M977.3,1170.0h-6.0M130.7,1105.0h13.0M977.3,1105.0h-13.0M130.7,1040.0h6.0M977.3,1040.0h-6.0M130.7,975.0h13.0M977.3,975.0h-13.0M130.7,910.0h6.0M977.3,910.0h-6.0M130.7,845.0h13.0M977.3,845.0h-13.0M191.2,1495.0v-6.5M251.6,1495.0v-13.5M312.1,1495.0v-6.5M372.6,1495.0v-13.5M433.1,1495.0v-6.5M493.5,1495.0v-13.5M554.0,1495.0v-6.5M614.5,1495.0v-13.5M674.9,1495.0v-6.5M735.4,1495.0v-13.5M795.9,1495.0v-6.5M856.4,1495.0v-13.5M916.8,1495.0v-6.5" stroke-linecap="butt"/>
</g>
<g font-size="45" fill="#000">
<text x="119.7" y="1509.2" text-anchor="end">0</text>
<text x="119.7" y="1379.2" text-anchor="end">20</text>
<text x="119.7" y="1249.2" text-anchor="end">40</text>
<text x="119.7" y="1119.2" text-anchor="end">60</text>
<text x="119.7" y="989.2" text-anchor="end">80</text>
<text x="119.7" y="859.2" text-anchor="end">100</text>
<text x="130.7" y="1539.5" text-anchor="middle">10</text>
<text x="251.6" y="1539.5" text-anchor="middle">20</text>
<text x="372.6" y="1539.5" text-anchor="middle">30</text>
<text x="493.5" y="1539.5" text-anchor="middle">40</text>
<text x="614.5" y="1539.5" text-anchor="middle">50</text>
<text x="735.4" y="1539.5" text-anchor="middle">60</text>
<text x="856.4" y="1539.5" text-anchor="middle">70</text>
<text x="977.3" y="1539.5" text-anchor="middle">80</text>
</g>
<text font-size="45" transform="translate(46.2,1153.8) rotate(-90)" text-anchor="middle">Relative intensity (%)</text>
<text font-size="45" x="554.0" y="1584.5" text-anchor="middle">2<tspan class="sf">&#952;</tspan> (&#176;)</text>
<text font-size="59" x="150.7" y="872.1">(c)</text>
<text font-size="35" x="961.8" y="842.2" text-anchor="end" fill="#3d6a98">C2, 1650°C</text>
<polygon points="513.0,877.3 516.9,885.0 525.5,885.0 518.3,891.7 520.6,900.0 513.0,895.3 505.4,900.0 507.7,891.7 500.5,885.0 509.1,885.0" fill="#000"/>
<text x="537.6" y="901.2" font-size="35.5">ZrO<tspan font-size="22" dy="8.7">2</tspan><tspan dy="-8.7"> monoclinic</tspan></text>
<use href="#pl" x="511.5" y="948.2"/>
<text x="532.3" y="958.7" font-size="35.5">ZrO<tspan font-size="22" dy="8.7">2</tspan><tspan dy="-8.7"> tetragonal</tspan></text>
<use href="#mu" x="507.5" y="1008.2"/><text x="525.4" y="1009.2" font-size="35.5">Mullite</text>
<polygon points="499.3,1036.5 527.8,1036.5 513.5,1060.3" fill="#000"/>
<text x="538.5" y="1060.3" font-size="35.5">Corundum, <tspan class="sf">&#945;</tspan>-Al<tspan font-size="22" dy="8.7">2</tspan><tspan dy="-8.7">O</tspan><tspan font-size="22" dy="8.7">3</tspan></text>
<g stroke="#7f7f7f" stroke-width="1.9" stroke-dasharray="8.2 8.2" fill="none">
<line x1="1132.7" y1="1365.0" x2="1979.3" y2="1365.0"/>
<line x1="1132.7" y1="1235.0" x2="1979.3" y2="1235.0"/>
<line x1="1132.7" y1="1105.0" x2="1979.3" y2="1105.0"/>
<line x1="1132.7" y1="975.0" x2="1979.3" y2="975.0"/>
<line x1="1132.7" y1="845.0" x2="1979.3" y2="845.0"/>
</g>
<path d="M1132.7,1469.0L1133.0,1468.9L1133.3,1468.8L1133.6,1468.7L1133.9,1468.5L1134.2,1468.4L1134.3,1468.3L1134.5,1468.2L1134.8,1467.9L1135.1,1467.6L1135.4,1467.2L1135.7,1466.7L1136.0,1466.3L1136.3,1465.7L1136.6,1465.2L1136.9,1464.7L1137.2,1464.2L1137.5,1463.7L1137.8,1463.3L1138.1,1462.9L1138.4,1462.5L1138.7,1462.2L1139.0,1462.0L1139.4,1461.9L1139.6,1461.8L1139.7,1461.9L1140.0,1461.9L1140.3,1462.0L1140.6,1462.2L1140.9,1462.4L1141.2,1462.7L1141.5,1463.0L1141.8,1463.4L1142.1,1463.8L1142.4,1464.2L1142.7,1464.6L1143.0,1465.1L1143.3,1465.6L1143.6,1466.0L1143.9,1466.5L1144.2,1466.9L1144.5,1467.4L1144.8,1467.8L1145.1,1468.2L1145.4,1468.5L1145.7,1468.9L1146.0,1469.1L1146.3,1469.3L1146.6,1469.5L1146.9,1469.6L1147.2,1469.7L1147.2,1469.7L1147.5,1469.6L1147.8,1469.5L1148.1,1469.3L1148.4,1469.0L1148.7,1468.7L1149.0,1468.3L1149.3,1467.9L1149.6,1467.4L1149.9,1467.0L1150.2,1466.5L1150.5,1466.0L1150.8,1465.4L1151.1,1464.9L1151.4,1464.4L1151.7,1464.0L1152.1,1463.5L1152.4,1463.1L1152.7,1462.7L1153.0,1462.4L1153.3,1462.2L1153.6,1462.0L1153.9,1461.9L1154.1,1461.8L1154.2,1461.9L1154.5,1461.9L1154.8,1462.1L1155.1,1462.4L1155.4,1462.8L1155.7,1463.3L1156.0,1463.8L1156.3,1464.3L1156.6,1464.9L1156.9,1465.6L1157.2,1466.2L1157.5,1466.8L1157.8,1467.4L1158.1,1468.0L1158.4,1468.6L1158.7,1469.1L1159.0,1469.5L1159.3,1469.8L1159.6,1470.1L1159.9,1470.3L1160.2,1470.3L1160.2,1470.3L1160.5,1470.2L1160.8,1469.9L1161.1,1469.4L1161.4,1468.9L1161.7,1468.2L1162.0,1467.4L1162.3,1466.6L1162.6,1465.7L1162.9,1464.8L1163.2,1463.8L1163.5,1462.8L1163.8,1461.9L1164.1,1461.0L1164.4,1460.2L1164.7,1459.4L1165.1,1458.7L1165.4,1458.2L1165.7,1457.7L1166.0,1457.4L1166.3,1457.3L1166.3,1457.3L1166.6,1457.4L1166.9,1457.6L1167.2,1457.9L1167.5,1458.3L1167.8,1458.8L1168.1,1459.4L1168.4,1459.9L1168.7,1460.4L1169.0,1460.9L1169.3,1461.3L1169.6,1461.6L1169.9,1461.8L1170.1,1461.8L1170.2,1461.8L1170.5,1461.6L1170.8,1461.2L1171.1,1460.8L1171.4,1460.2L1171.7,1459.8L1172.0,1459.4L1172.3,1459.3L1172.4,1459.2L1172.6,1459.3L1172.9,1459.5L1173.2,1459.8L1173.5,1460.2L1173.8,1460.7L1174.1,1461.2L1174.4,1461.7L1174.7,1462.3L1175.0,1462.7L1175.3,1463.2L1175.6,1463.5L1175.9,1463.7L1176.2,1463.8L1176.2,1463.8L1176.5,1463.8L1176.8,1463.8L1177.1,1463.7L1177.4,1463.6L1177.8,1463.5L1178.1,1463.4L1178.4,1463.2L1178.7,1463.1L1179.0,1462.9L1179.3,1462.7L1179.6,1462.5L1179.9,1462.3L1180.2,1462.1L1180.5,1461.8L1180.8,1461.6L1181.1,1461.4L1181.4,1461.1L1181.7,1460.8L1182.0,1460.6L1182.3,1460.3L1182.6,1460.0L1182.9,1459.7L1183.2,1459.5L1183.5,1459.2L1183.8,1458.9L1184.1,1458.7L1184.4,1458.4L1184.7,1458.1L1185.0,1457.9L1185.3,1457.7L1185.6,1457.4L1185.9,1457.2L1186.2,1457.0L1186.5,1456.8L1186.8,1456.6L1187.1,1456.5L1187.4,1456.3L1187.7,1456.2L1188.0,1456.1L1188.3,1456.0L1188.3,1456.0L1188.6,1455.9L1188.9,1455.9L1189.2,1455.8L1189.5,1455.7L1189.8,1455.6L1190.1,1455.6L1190.5,1455.5L1190.8,1455.5L1191.1,1455.4L1191.4,1455.4L1191.7,1455.3L1192.0,1455.3L1192.3,1455.2L1192.6,1455.2L1192.9,1455.1L1193.2,1455.1L1193.5,1455.0L1193.8,1455.0L1194.1,1454.9L1194.4,1454.9L1194.7,1454.9L1195.0,1454.8L1195.3,1454.8L1195.6,1454.7L1195.9,1454.7L1196.2,1454.7L1196.5,1454.6L1196.8,1454.6L1197.1,1454.5L1197.4,1454.5L1197.7,1454.5L1198.0,1454.4L1198.3,1454.4L1198.6,1454.3L1198.9,1454.3L1199.2,1454.3L1199.5,1454.2L1199.8,1454.2L1200.1,1454.1L1200.4,1454.1L1200.5,1454.0L1200.7,1454.0L1201.0,1454.0L1201.3,1453.9L1201.6,1453.9L1201.9,1453.8L1202.2,1453.8L1202.5,1453.8L1202.8,1453.7L1203.1,1453.7L1203.5,1453.7L1203.8,1453.6L1204.1,1453.6L1204.4,1453.6L1204.7,1453.5L1205.0,1453.5L1205.3,1453.5L1205.6,1453.4L1205.9,1453.4L1206.2,1453.4L1206.5,1453.3L1206.8,1453.3L1207.1,1453.3L1207.4,1453.2L1207.7,1453.2L1208.0,1453.2L1208.3,1453.1L1208.6,1453.1L1208.9,1453.0L1209.2,1453.0L1209.5,1453.0L1209.8,1452.9L1210.1,1452.9L1210.4,1452.8L1210.7,1452.8L1211.0,1452.7L1211.3,1452.7L1211.6,1452.6L1211.9,1452.5L1212.2,1452.5L1212.5,1452.4L1212.8,1452.3L1213.1,1452.3L1213.4,1452.2L1213.7,1452.1L1214.0,1452.0L1214.3,1451.9L1214.6,1451.8L1214.9,1451.7L1215.2,1451.6L1215.5,1451.5L1215.8,1451.5L1215.8,1451.4L1216.2,1451.2L1216.5,1451.0L1216.8,1450.6L1217.1,1450.2L1217.4,1449.6L1217.7,1449.1L1218.0,1448.5L1218.3,1447.9L1218.6,1447.2L1218.9,1446.6L1219.2,1445.9L1219.5,1445.3L1219.7,1445.0L1219.8,1444.7L1220.1,1443.9L1220.4,1443.1L1220.7,1442.1L1221.0,1441.2L1221.3,1440.3L1221.6,1439.4L1221.9,1438.7L1222.2,1438.2L1222.5,1437.9L1222.7,1437.8L1222.8,1437.8L1223.1,1438.1L1223.4,1438.7L1223.7,1439.4L1224.0,1440.3L1224.3,1441.3L1224.6,1442.3L1224.9,1443.2L1225.2,1444.0L1225.5,1444.7L1225.7,1445.0L1225.8,1445.1L1226.1,1445.5L1226.4,1445.9L1226.7,1446.2L1227.0,1446.6L1227.3,1446.9L1227.6,1447.2L1227.9,1447.5L1228.2,1447.7L1228.5,1447.9L1228.8,1448.1L1229.2,1448.2L1229.5,1448.2L1229.5,1448.2L1229.8,1448.2L1230.1,1448.2L1230.4,1448.2L1230.7,1448.2L1231.0,1448.2L1231.3,1448.2L1231.6,1448.2L1231.9,1448.2L1232.2,1448.1L1232.5,1448.1L1232.8,1448.1L1233.1,1448.1L1233.4,1448.1L1233.7,1448.1L1234.0,1448.1L1234.3,1448.0L1234.6,1448.0L1234.9,1448.0L1235.2,1448.0L1235.5,1448.0L1235.8,1447.9L1236.1,1447.9L1236.4,1447.9L1236.7,1447.9L1237.0,1447.8L1237.3,1447.8L1237.6,1447.8L1237.9,1447.7L1238.2,1447.7L1238.5,1447.7L1238.8,1447.7L1239.1,1447.6L1239.4,1447.6L1239.7,1447.6L1240.0,1447.5L1240.3,1447.5L1240.6,1447.5L1240.9,1447.4L1241.2,1447.4L1241.5,1447.4L1241.9,1447.4L1242.2,1447.3L1242.5,1447.3L1242.8,1447.3L1243.1,1447.2L1243.4,1447.2L1243.7,1447.2L1244.0,1447.1L1244.3,1447.1L1244.6,1447.1L1244.9,1447.0L1245.2,1447.0L1245.5,1447.0L1245.8,1446.9L1246.1,1446.9L1246.3,1446.9L1246.4,1446.9L1246.7,1446.9L1247.0,1446.8L1247.3,1446.8L1247.6,1446.8L1247.9,1446.7L1248.2,1446.7L1248.5,1446.7L1248.8,1446.6L1249.1,1446.6L1249.4,1446.6L1249.7,1446.5L1250.0,1446.5L1250.3,1446.4L1250.6,1446.4L1250.9,1446.4L1251.2,1446.3L1251.5,1446.3L1251.8,1446.2L1252.1,1446.2L1252.4,1446.2L1252.7,1446.1L1253.0,1446.1L1253.3,1446.0L1253.6,1446.0L1253.9,1446.0L1254.2,1445.9L1254.5,1445.9L1254.9,1445.8L1255.2,1445.8L1255.5,1445.7L1255.8,1445.7L1256.1,1445.7L1256.4,1445.6L1256.7,1445.6L1257.0,1445.5L1257.3,1445.5L1257.6,1445.5L1257.9,1445.4L1258.2,1445.4L1258.5,1445.3L1258.8,1445.3L1259.1,1445.2L1259.4,1445.2L1259.7,1445.2L1260.0,1445.1L1260.3,1445.1L1260.6,1445.1L1260.9,1445.0L1261.2,1445.0L1261.5,1445.0L1261.5,1444.9L1261.8,1444.9L1262.1,1444.9L1262.4,1444.8L1262.7,1444.8L1263.0,1444.8L1263.3,1444.7L1263.6,1444.7L1263.9,1444.6L1264.2,1444.6L1264.5,1444.6L1264.8,1444.5L1265.1,1444.5L1265.4,1444.4L1265.7,1444.4L1266.0,1444.3L1266.3,1444.3L1266.6,1444.3L1266.9,1444.2L1267.2,1444.2L1267.6,1444.1L1267.9,1444.1L1268.2,1444.1L1268.5,1444.0L1268.8,1444.0L1269.1,1443.9L1269.4,1443.9L1269.7,1443.9L1270.0,1443.8L1270.3,1443.8L1270.6,1443.8L1270.9,1443.8L1271.2,1443.7L1271.5,1443.7L1271.8,1443.7L1272.1,1443.7L1272.4,1443.7L1272.7,1443.7L1273.0,1443.7L1273.3,1443.7L1273.6,1443.7L1273.7,1443.7L1273.9,1443.7L1274.2,1443.7L1274.5,1443.7L1274.8,1443.8L1275.1,1443.9L1275.4,1444.0L1275.7,1444.1L1276.0,1444.3L1276.3,1444.4L1276.6,1444.6L1276.9,1444.7L1277.2,1444.9L1277.5,1445.0L1277.8,1445.1L1278.1,1445.3L1278.4,1445.4L1278.7,1445.5L1279.0,1445.5L1279.3,1445.6L1279.6,1445.6L1279.8,1445.6L1279.9,1445.6L1280.3,1445.6L1280.6,1445.5L1280.9,1445.4L1281.2,1445.3L1281.5,1445.1L1281.8,1444.9L1282.1,1444.7L1282.4,1444.5L1282.7,1444.3L1283.0,1444.1L1283.3,1443.9L1283.6,1443.6L1283.9,1443.4L1284.2,1443.2L1284.5,1443.0L1284.8,1442.8L1285.1,1442.6L1285.4,1442.4L1285.7,1442.2L1286.0,1442.0L1286.3,1441.9L1286.6,1441.8L1286.9,1441.7L1287.2,1441.7L1287.4,1441.7L1287.5,1441.7L1287.8,1441.8L1288.1,1442.1L1288.4,1442.5L1288.7,1442.9L1289.0,1443.5L1289.3,1444.0L1289.6,1444.7L1289.9,1445.3L1290.2,1446.0L1290.5,1446.7L1290.8,1447.3L1291.1,1447.9L1291.4,1448.4L1291.7,1448.8L1292.0,1449.2L1292.3,1449.4L1292.6,1449.5L1292.7,1449.5L1292.9,1449.3L1293.3,1448.6L1293.6,1447.4L1293.9,1446.0L1294.2,1444.3L1294.5,1442.6L1294.8,1441.0L1295.1,1439.6L1295.4,1438.5L1295.7,1437.9L1295.9,1437.8L1296.0,1437.9L1296.3,1438.6L1296.6,1439.9L1296.9,1441.6L1297.2,1443.4L1297.5,1445.1L1297.8,1446.3L1298.1,1446.9L1298.1,1446.9L1298.4,1445.7L1298.7,1441.5L1299.0,1435.0L1299.3,1427.0L1299.6,1418.4L1299.9,1410.2L1300.2,1403.1L1300.3,1400.8L1300.5,1397.4L1300.8,1391.4L1301.1,1385.2L1301.4,1379.2L1301.7,1373.9L1302.0,1369.6L1302.3,1366.7L1302.6,1365.7L1302.6,1365.7L1302.9,1366.9L1303.2,1370.1L1303.5,1374.9L1303.8,1380.8L1304.1,1387.1L1304.4,1393.4L1304.7,1399.3L1305.0,1404.1L1305.3,1407.3L1305.6,1408.5L1305.6,1408.5L1306.0,1407.6L1306.3,1405.1L1306.6,1401.5L1306.9,1397.1L1307.2,1392.3L1307.5,1387.7L1307.8,1383.5L1308.1,1380.3L1308.4,1378.3L1308.6,1378.0L1308.7,1378.3L1309.0,1381.7L1309.3,1388.1L1309.6,1396.3L1309.9,1405.4L1310.2,1414.5L1310.5,1422.5L1310.8,1428.4L1311.1,1431.3L1311.1,1431.3L1311.4,1432.3L1311.7,1433.1L1312.0,1433.9L1312.3,1434.6L1312.6,1435.2L1312.9,1435.8L1313.2,1436.2L1313.5,1436.6L1313.8,1437.0L1314.1,1437.3L1314.4,1437.5L1314.7,1437.7L1314.8,1437.8L1315.0,1437.9L1315.3,1438.1L1315.6,1438.2L1315.9,1438.4L1316.2,1438.5L1316.5,1438.6L1316.8,1438.7L1317.1,1438.8L1317.4,1438.9L1317.7,1439.0L1318.0,1439.1L1318.3,1439.1L1318.6,1439.1L1318.7,1439.1L1319.0,1438.6L1319.3,1436.7L1319.6,1433.5L1319.9,1429.2L1320.2,1423.9L1320.5,1417.9L1320.8,1411.3L1320.9,1408.5L1321.1,1401.8L1321.4,1383.4L1321.7,1365.0L1322.0,1356.5L1322.0,1356.5L1322.3,1357.9L1322.6,1361.4L1322.9,1366.8L1323.2,1373.4L1323.5,1380.8L1323.8,1388.4L1324.1,1395.8L1324.4,1402.4L1324.7,1407.7L1324.8,1408.5L1325.0,1411.9L1325.3,1416.3L1325.6,1420.7L1325.9,1425.0L1326.2,1429.2L1326.5,1433.3L1326.8,1437.0L1327.1,1440.3L1327.4,1443.2L1327.7,1445.5L1328.0,1447.1L1328.3,1448.0L1328.5,1448.2L1328.6,1448.2L1328.9,1448.0L1329.2,1447.6L1329.5,1447.0L1329.8,1446.2L1330.1,1445.3L1330.4,1444.3L1330.7,1443.2L1331.0,1442.0L1331.3,1440.8L1331.7,1439.5L1332.0,1438.2L1332.3,1436.9L1332.6,1435.6L1332.9,1434.4L1333.2,1433.2L1333.5,1432.1L1333.8,1431.2L1334.1,1430.3L1334.4,1429.7L1334.7,1429.1L1335.0,1428.8L1335.3,1428.7L1335.3,1428.7L1335.6,1428.8L1335.9,1429.2L1336.2,1429.8L1336.5,1430.6L1336.8,1431.5L1337.1,1432.6L1337.4,1433.7L1337.7,1434.9L1338.0,1436.2L1338.3,1437.4L1338.6,1438.6L1338.9,1439.8L1339.2,1440.8L1339.5,1441.8L1339.8,1442.5L1340.1,1443.1L1340.4,1443.5L1340.7,1443.7L1340.7,1443.7L1341.0,1443.6L1341.3,1443.6L1341.6,1443.5L1341.9,1443.3L1342.2,1443.2L1342.5,1442.9L1342.8,1442.7L1343.1,1442.4L1343.4,1442.1L1343.7,1441.7L1344.0,1441.3L1344.4,1440.9L1344.7,1440.4L1345.0,1439.9L1345.3,1439.3L1345.6,1438.8L1345.9,1438.2L1346.0,1437.8L1346.2,1437.5L1346.5,1436.5L1346.8,1435.2L1347.1,1433.4L1347.4,1431.2L1347.7,1428.6L1348.0,1425.6L1348.3,1422.1L1348.6,1418.1L1348.9,1413.6L1349.2,1408.5L1349.2,1408.5L1349.5,1400.2L1349.8,1385.9L1350.1,1366.5L1350.4,1342.3L1350.7,1314.2L1351.0,1282.5L1351.3,1248.0L1351.4,1240.8L1351.6,1201.3L1351.9,1131.8L1352.2,1057.7L1352.5,1007.5L1352.5,996.6L1352.8,937.0L1353.1,881.9L1353.4,848.5L1353.5,845.0L1353.7,854.7L1354.0,903.9L1354.3,973.7L1354.6,1040.0L1354.6,1040.0L1354.9,1104.4L1355.2,1175.9L1355.5,1242.0L1355.8,1290.4L1356.0,1302.0L1356.1,1314.9L1356.4,1334.7L1356.7,1352.5L1357.0,1368.2L1357.4,1382.0L1357.7,1393.8L1358.0,1403.7L1358.3,1411.9L1358.6,1418.2L1358.9,1422.8L1359.0,1424.2L1359.2,1426.0L1359.5,1428.8L1359.8,1431.4L1360.1,1433.8L1360.4,1435.9L1360.7,1437.8L1361.0,1439.3L1361.3,1440.6L1361.6,1441.5L1361.9,1442.1L1362.1,1442.3L1362.2,1442.4L1362.5,1442.5L1362.8,1442.6L1363.1,1442.7L1363.4,1442.8L1363.7,1442.9L1364.0,1443.0L1364.3,1443.0L1364.6,1443.1L1364.9,1443.1L1365.2,1443.2L1365.5,1443.2L1365.8,1443.3L1366.1,1443.3L1366.4,1443.4L1366.7,1443.4L1367.0,1443.4L1367.3,1443.5L1367.6,1443.5L1367.9,1443.6L1368.2,1443.7L1368.2,1443.7L1368.5,1443.7L1368.8,1443.8L1369.1,1443.9L1369.4,1444.0L1369.7,1444.1L1370.1,1444.1L1370.4,1444.2L1370.7,1444.3L1371.0,1444.4L1371.3,1444.5L1371.6,1444.6L1371.9,1444.6L1372.2,1444.7L1372.5,1444.8L1372.8,1444.8L1373.1,1444.9L1373.4,1444.9L1373.7,1444.9L1374.0,1444.9L1374.2,1445.0L1374.3,1444.9L1374.6,1444.9L1374.9,1444.9L1375.2,1444.9L1375.5,1444.9L1375.8,1444.9L1376.1,1444.8L1376.4,1444.8L1376.7,1444.7L1377.0,1444.7L1377.3,1444.6L1377.6,1444.5L1377.9,1444.5L1378.2,1444.4L1378.5,1444.3L1378.8,1444.2L1379.1,1444.1L1379.4,1444.0L1379.7,1443.9L1380.0,1443.8L1380.3,1443.7L1380.4,1443.7L1380.6,1443.5L1380.9,1443.4L1381.2,1443.1L1381.5,1442.9L1381.8,1442.5L1382.1,1442.2L1382.4,1441.7L1382.7,1441.3L1383.1,1440.7L1383.4,1440.2L1383.7,1439.5L1384.0,1438.8L1384.3,1438.1L1384.6,1437.3L1384.9,1436.5L1385.2,1435.6L1385.5,1434.7L1385.8,1433.7L1386.1,1432.6L1386.4,1431.5L1386.4,1431.3L1386.7,1430.3L1387.0,1428.7L1387.3,1426.8L1387.6,1424.4L1387.9,1421.5L1388.2,1418.2L1388.5,1414.4L1388.8,1409.9L1389.1,1404.9L1389.4,1399.2L1389.7,1392.9L1390.0,1385.8L1390.3,1378.0L1390.3,1378.0L1390.6,1360.4L1390.9,1327.9L1391.2,1286.6L1391.5,1242.5L1391.8,1201.6L1392.1,1170.0L1392.1,1170.0L1392.4,1143.5L1392.7,1117.2L1393.0,1095.7L1393.3,1083.5L1393.5,1082.2L1393.6,1090.3L1393.9,1130.7L1394.2,1186.0L1394.5,1235.0L1394.5,1235.0L1394.8,1275.9L1395.1,1316.4L1395.4,1349.6L1395.6,1363.0L1395.8,1369.9L1396.1,1386.1L1396.4,1400.9L1396.7,1414.0L1397.0,1425.0L1397.3,1433.6L1397.6,1439.4L1397.9,1442.2L1397.9,1442.3L1398.2,1442.7L1398.5,1443.0L1398.8,1443.3L1399.1,1443.6L1399.4,1443.8L1399.7,1444.0L1400.0,1444.1L1400.3,1444.3L1400.6,1444.4L1400.9,1444.5L1401.2,1444.7L1401.5,1444.8L1401.7,1445.0L1401.8,1445.0L1402.1,1445.2L1402.4,1445.4L1402.7,1445.6L1403.0,1445.8L1403.3,1445.9L1403.6,1446.1L1403.9,1446.3L1404.2,1446.5L1404.5,1446.6L1404.8,1446.8L1405.1,1447.0L1405.4,1447.1L1405.7,1447.3L1406.0,1447.4L1406.3,1447.6L1406.6,1447.7L1406.9,1447.8L1407.2,1448.0L1407.5,1448.1L1407.8,1448.2L1407.8,1448.2L1408.1,1448.3L1408.4,1448.4L1408.8,1448.5L1409.1,1448.6L1409.4,1448.6L1409.7,1448.7L1410.0,1448.8L1410.3,1448.9L1410.6,1448.9L1410.9,1449.0L1411.2,1449.1L1411.5,1449.2L1411.8,1449.3L1412.1,1449.4L1412.3,1449.5L1412.4,1449.5L1412.7,1449.7L1413.0,1449.9L1413.3,1450.2L1413.6,1450.4L1413.9,1450.8L1414.2,1451.1L1414.5,1451.4L1414.8,1451.8L1415.1,1452.1L1415.4,1452.5L1415.7,1452.8L1416.0,1453.1L1416.3,1453.4L1416.6,1453.6L1416.9,1453.8L1417.2,1453.9L1417.5,1454.0L1417.8,1454.0L1417.8,1454.0L1418.1,1453.3L1418.4,1451.6L1418.7,1449.0L1419.0,1445.8L1419.3,1441.9L1419.6,1437.6L1419.9,1433.0L1420.2,1428.2L1420.5,1423.3L1420.8,1418.4L1421.1,1413.7L1421.5,1409.4L1421.5,1408.5L1421.8,1405.0L1422.1,1399.9L1422.4,1394.3L1422.7,1388.3L1423.0,1382.2L1423.3,1376.0L1423.6,1370.1L1423.9,1364.6L1424.2,1359.6L1424.5,1355.4L1424.8,1352.2L1425.1,1350.1L1425.4,1349.4L1425.4,1349.4L1425.7,1350.0L1426.0,1351.6L1426.3,1354.1L1426.6,1357.4L1426.9,1361.2L1427.2,1365.5L1427.5,1370.1L1427.8,1374.8L1428.1,1379.6L1428.4,1384.2L1428.7,1388.4L1429.0,1392.2L1429.1,1393.6L1429.3,1395.6L1429.6,1399.0L1429.9,1402.4L1430.2,1405.8L1430.5,1409.2L1430.8,1412.4L1431.1,1415.5L1431.4,1418.4L1431.7,1421.0L1432.0,1423.3L1432.2,1424.2L1432.3,1425.4L1432.6,1427.4L1432.9,1429.5L1433.2,1431.5L1433.5,1433.4L1433.8,1435.1L1434.2,1436.6L1434.5,1437.8L1434.8,1438.6L1435.1,1439.1L1435.2,1439.1L1435.4,1437.7L1435.7,1429.7L1436.0,1416.4L1436.3,1399.9L1436.6,1382.1L1436.9,1365.0L1436.9,1365.0L1437.2,1344.1L1437.5,1317.6L1437.8,1292.0L1438.1,1273.5L1438.3,1268.2L1438.4,1268.3L1438.7,1273.8L1439.0,1285.6L1439.3,1301.9L1439.6,1320.6L1439.9,1340.1L1440.2,1358.3L1440.5,1373.3L1440.6,1378.0L1440.8,1384.5L1441.1,1395.7L1441.4,1406.8L1441.7,1417.2L1442.0,1426.2L1442.3,1433.3L1442.6,1437.8L1442.8,1439.1L1442.9,1439.5L1443.2,1440.5L1443.5,1441.3L1443.8,1442.1L1444.1,1442.7L1444.4,1443.2L1444.7,1443.7L1445.0,1444.1L1445.3,1444.5L1445.6,1444.9L1445.9,1445.2L1446.2,1445.5L1446.5,1445.8L1446.8,1446.2L1447.2,1446.6L1447.4,1446.9L1447.5,1447.0L1447.8,1447.4L1448.1,1447.9L1448.4,1448.3L1448.7,1448.7L1449.0,1449.2L1449.3,1449.6L1449.6,1450.0L1449.9,1450.4L1450.2,1450.8L1450.5,1451.1L1450.8,1451.5L1451.1,1451.8L1451.4,1452.2L1451.7,1452.5L1452.0,1452.8L1452.0,1452.8L1452.3,1453.0L1452.6,1453.3L1452.9,1453.6L1453.2,1453.9L1453.5,1454.2L1453.8,1454.5L1454.1,1454.7L1454.4,1455.0L1454.7,1455.2L1455.0,1455.4L1455.3,1455.6L1455.6,1455.8L1455.9,1455.9L1456.2,1456.0L1456.5,1456.0L1456.6,1456.0L1456.8,1456.0L1457.1,1455.9L1457.4,1455.7L1457.7,1455.6L1458.0,1455.3L1458.3,1455.1L1458.6,1454.9L1458.9,1454.7L1459.2,1454.4L1459.5,1454.3L1459.9,1454.1L1460.2,1454.1L1460.3,1454.0L1460.5,1454.1L1460.8,1454.2L1461.1,1454.5L1461.4,1455.0L1461.7,1455.5L1462.0,1456.0L1462.3,1456.7L1462.6,1457.3L1462.9,1457.8L1463.2,1458.3L1463.5,1458.8L1463.8,1459.1L1464.1,1459.2L1464.2,1459.2L1464.4,1459.2L1464.7,1458.8L1465.0,1458.2L1465.3,1457.3L1465.6,1456.2L1465.9,1454.8L1466.2,1453.3L1466.5,1451.5L1466.8,1449.7L1467.1,1447.7L1467.2,1446.9L1467.4,1445.2L1467.7,1440.3L1468.0,1433.8L1468.3,1426.6L1468.6,1419.4L1468.9,1413.2L1469.2,1408.9L1469.5,1407.2L1469.5,1407.2L1469.8,1409.7L1470.1,1416.2L1470.4,1425.2L1470.7,1435.3L1471.0,1445.2L1471.3,1453.3L1471.6,1458.3L1471.8,1459.2L1471.9,1459.2L1472.2,1458.9L1472.5,1458.4L1472.9,1457.6L1473.2,1456.7L1473.5,1455.6L1473.8,1454.6L1474.1,1453.6L1474.4,1452.6L1474.7,1451.8L1474.8,1451.5L1475.0,1451.2L1475.3,1450.6L1475.6,1450.1L1475.9,1449.5L1476.2,1448.9L1476.5,1448.3L1476.8,1447.8L1477.1,1447.2L1477.4,1446.7L1477.7,1446.3L1478.0,1445.9L1478.3,1445.6L1478.6,1445.3L1478.9,1445.1L1479.2,1445.0L1479.4,1445.0L1479.5,1445.0L1479.8,1445.0L1480.1,1445.2L1480.4,1445.4L1480.7,1445.7L1481.0,1446.1L1481.3,1446.5L1481.6,1447.0L1481.9,1447.5L1482.2,1448.0L1482.5,1448.5L1482.8,1449.1L1483.1,1449.6L1483.4,1450.1L1483.7,1450.7L1484.0,1451.1L1484.3,1451.6L1484.6,1452.0L1484.9,1452.3L1485.2,1452.6L1485.5,1452.8L1485.6,1452.8L1485.9,1453.0L1486.2,1453.1L1486.5,1453.3L1486.8,1453.5L1487.1,1453.6L1487.4,1453.8L1487.7,1453.9L1488.0,1454.1L1488.3,1454.2L1488.6,1454.4L1488.9,1454.5L1489.2,1454.7L1489.5,1454.8L1489.8,1454.9L1490.1,1455.0L1490.4,1455.2L1490.7,1455.3L1491.0,1455.4L1491.3,1455.5L1491.6,1455.5L1491.9,1455.6L1492.2,1455.7L1492.5,1455.8L1492.8,1455.8L1493.1,1455.9L1493.4,1455.9L1493.7,1456.0L1494.0,1456.0L1494.3,1456.0L1494.6,1456.0L1494.7,1456.0L1494.9,1456.0L1495.2,1456.0L1495.5,1456.0L1495.8,1456.0L1496.1,1455.9L1496.4,1455.9L1496.7,1455.9L1497.0,1455.8L1497.3,1455.8L1497.6,1455.7L1497.9,1455.6L1498.2,1455.5L1498.6,1455.4L1498.9,1455.4L1499.2,1455.2L1499.5,1455.1L1499.8,1455.0L1500.1,1454.9L1500.4,1454.7L1500.7,1454.6L1501.0,1454.4L1501.3,1454.2L1501.6,1454.0L1501.6,1454.0L1501.9,1453.1L1502.2,1450.8L1502.5,1447.4L1502.8,1443.2L1503.1,1438.4L1503.4,1433.4L1503.7,1428.5L1504.0,1423.8L1504.3,1419.6L1504.6,1416.3L1504.6,1416.3L1504.9,1413.4L1505.2,1410.3L1505.5,1407.6L1505.8,1405.8L1506.1,1405.3L1506.1,1405.3L1506.4,1406.2L1506.7,1408.1L1507.0,1410.9L1507.3,1414.1L1507.6,1417.7L1507.9,1421.2L1508.2,1424.4L1508.5,1427.2L1508.8,1429.1L1509.1,1430.0L1509.2,1430.0L1509.4,1429.9L1509.7,1429.7L1510.0,1429.4L1510.3,1428.9L1510.6,1428.5L1510.9,1428.0L1511.3,1427.5L1511.6,1427.2L1511.9,1426.9L1512.2,1426.8L1512.2,1426.8L1512.5,1427.0L1512.8,1428.1L1513.1,1429.7L1513.4,1431.9L1513.7,1434.5L1514.0,1437.3L1514.3,1440.2L1514.6,1443.0L1514.9,1445.6L1515.2,1448.0L1515.5,1449.8L1515.8,1451.0L1516.0,1451.5L1516.1,1451.6L1516.4,1452.0L1516.7,1452.4L1517.0,1452.7L1517.3,1453.0L1517.6,1453.3L1517.9,1453.5L1518.2,1453.7L1518.5,1453.9L1518.8,1454.1L1519.1,1454.3L1519.4,1454.4L1519.7,1454.6L1520.0,1454.8L1520.3,1454.9L1520.6,1455.1L1520.9,1455.2L1521.2,1455.4L1521.5,1455.6L1521.8,1455.8L1522.1,1456.0L1522.1,1456.0L1522.4,1456.2L1522.7,1456.5L1523.0,1456.8L1523.3,1457.0L1523.6,1457.3L1524.0,1457.6L1524.3,1457.9L1524.6,1458.3L1524.9,1458.5L1525.2,1458.8L1525.5,1459.1L1525.8,1459.4L1526.1,1459.6L1526.4,1459.9L1526.7,1460.1L1527.0,1460.2L1527.3,1460.4L1527.6,1460.5L1527.9,1460.5L1528.2,1460.5L1528.2,1460.5L1528.5,1460.5L1528.8,1460.4L1529.1,1460.1L1529.4,1459.8L1529.7,1459.4L1530.0,1458.9L1530.3,1458.3L1530.6,1457.6L1530.9,1456.8L1531.2,1455.9L1531.5,1454.8L1531.8,1453.7L1532.1,1452.5L1532.4,1451.2L1532.7,1449.8L1532.8,1449.5L1533.0,1447.1L1533.3,1441.0L1533.6,1432.4L1533.9,1421.8L1534.2,1410.1L1534.5,1398.1L1534.8,1386.5L1535.1,1378.0L1535.1,1375.9L1535.4,1364.1L1535.7,1350.6L1536.0,1336.5L1536.3,1323.0L1536.6,1311.3L1537.0,1302.5L1537.3,1297.8L1537.4,1297.4L1537.6,1300.6L1537.9,1317.3L1538.2,1342.4L1538.5,1369.1L1538.8,1390.5L1538.8,1393.6L1539.1,1405.0L1539.4,1419.2L1539.7,1432.0L1540.0,1442.2L1540.3,1448.4L1540.4,1449.5L1540.6,1450.4L1540.9,1451.8L1541.2,1453.1L1541.5,1454.2L1541.8,1455.1L1542.1,1455.8L1542.4,1456.4L1542.7,1456.9L1543.0,1457.2L1543.3,1457.3L1543.4,1457.3L1543.6,1457.3L1543.9,1457.1L1544.2,1456.8L1544.5,1456.4L1544.8,1456.0L1545.1,1455.4L1545.4,1454.9L1545.7,1454.4L1546.0,1453.9L1546.3,1453.5L1546.6,1453.1L1546.9,1452.9L1547.2,1452.8L1547.3,1452.8L1547.5,1452.8L1547.8,1452.8L1548.1,1452.9L1548.4,1453.0L1548.7,1453.2L1549.0,1453.3L1549.3,1453.5L1549.7,1453.6L1550.0,1453.8L1550.3,1453.9L1550.6,1454.0L1550.9,1454.0L1551.0,1454.0L1551.2,1454.0L1551.5,1453.6L1551.8,1452.7L1552.1,1451.6L1552.4,1450.1L1552.7,1448.4L1553.0,1446.6L1553.3,1444.7L1553.6,1442.8L1553.9,1440.9L1554.2,1439.2L1554.5,1437.6L1554.8,1436.3L1555.1,1435.3L1555.4,1434.7L1555.6,1434.5L1555.7,1434.6L1556.0,1435.0L1556.3,1436.1L1556.6,1437.6L1556.9,1439.4L1557.2,1441.5L1557.5,1443.7L1557.8,1445.8L1558.1,1447.9L1558.4,1449.7L1558.7,1451.2L1559.0,1452.3L1559.3,1452.7L1559.4,1452.8L1559.6,1452.6L1559.9,1451.9L1560.2,1450.8L1560.5,1449.4L1560.8,1447.7L1561.1,1445.8L1561.4,1443.7L1561.7,1441.6L1562.0,1439.5L1562.3,1437.5L1562.7,1435.7L1563.0,1434.0L1563.3,1432.7L1563.6,1431.8L1563.9,1431.3L1564.0,1431.3L1564.2,1431.4L1564.5,1431.9L1564.8,1432.9L1565.1,1434.2L1565.4,1435.9L1565.7,1437.8L1566.0,1439.9L1566.3,1442.2L1566.6,1444.5L1566.9,1446.8L1567.2,1449.1L1567.5,1451.4L1567.8,1453.4L1568.1,1455.2L1568.4,1456.8L1568.7,1458.0L1569.0,1458.9L1569.3,1459.2L1569.3,1459.3L1569.6,1459.4L1569.9,1459.5L1570.2,1459.7L1570.5,1459.8L1570.8,1459.9L1571.1,1460.0L1571.4,1460.1L1571.7,1460.2L1572.0,1460.3L1572.3,1460.4L1572.6,1460.5L1572.9,1460.6L1573.2,1460.7L1573.5,1460.8L1573.8,1460.9L1574.1,1461.0L1574.4,1461.0L1574.7,1461.1L1575.0,1461.2L1575.4,1461.2L1575.7,1461.3L1576.0,1461.4L1576.3,1461.4L1576.6,1461.5L1576.9,1461.5L1577.2,1461.6L1577.5,1461.6L1577.8,1461.6L1578.1,1461.7L1578.4,1461.7L1578.7,1461.7L1579.0,1461.8L1579.3,1461.8L1579.6,1461.8L1579.9,1461.8L1580.2,1461.8L1580.5,1461.8L1580.8,1461.8L1581.1,1461.8L1581.4,1461.8L1581.5,1461.8L1581.7,1461.8L1582.0,1461.8L1582.3,1461.8L1582.6,1461.8L1582.9,1461.8L1583.2,1461.8L1583.5,1461.8L1583.8,1461.8L1584.1,1461.8L1584.4,1461.7L1584.7,1461.7L1585.0,1461.7L1585.3,1461.7L1585.6,1461.6L1585.9,1461.6L1586.2,1461.6L1586.5,1461.5L1586.8,1461.5L1587.1,1461.5L1587.4,1461.4L1587.7,1461.4L1588.0,1461.3L1588.4,1461.3L1588.7,1461.2L1589.0,1461.2L1589.3,1461.1L1589.6,1461.1L1589.9,1461.0L1590.2,1461.0L1590.5,1460.9L1590.8,1460.8L1591.1,1460.8L1591.4,1460.7L1591.7,1460.6L1592.0,1460.6L1592.3,1460.5L1592.6,1460.4L1592.9,1460.3L1593.2,1460.3L1593.5,1460.2L1593.8,1460.1L1594.1,1460.0L1594.4,1459.9L1594.7,1459.9L1595.0,1459.8L1595.3,1459.7L1595.6,1459.6L1595.9,1459.5L1596.2,1459.4L1596.5,1459.3L1596.8,1459.2L1596.8,1459.2L1597.1,1459.1L1597.4,1459.0L1597.7,1458.9L1598.0,1458.8L1598.3,1458.6L1598.6,1458.5L1598.9,1458.3L1599.2,1458.1L1599.5,1457.9L1599.8,1457.7L1600.1,1457.4L1600.4,1457.1L1600.7,1456.8L1601.1,1456.5L1601.4,1456.2L1601.7,1455.8L1602.0,1455.4L1602.3,1454.9L1602.6,1454.5L1602.8,1454.0L1602.9,1453.9L1603.2,1452.9L1603.5,1451.3L1603.8,1449.2L1604.1,1446.6L1604.4,1443.6L1604.7,1440.2L1605.0,1436.6L1605.3,1432.8L1605.6,1428.9L1605.9,1424.9L1605.9,1424.2L1606.2,1420.3L1606.5,1414.0L1606.8,1406.5L1607.1,1398.2L1607.4,1389.7L1607.7,1381.5L1608.0,1374.1L1608.3,1368.0L1608.6,1363.7L1608.9,1361.8L1609.0,1361.8L1609.2,1362.8L1609.5,1366.7L1609.8,1372.7L1610.1,1380.2L1610.4,1388.4L1610.7,1396.5L1611.0,1403.8L1611.3,1408.5L1611.3,1409.6L1611.6,1415.1L1611.9,1421.0L1612.2,1426.9L1612.5,1432.7L1612.8,1438.2L1613.1,1443.1L1613.4,1447.2L1613.8,1450.3L1614.1,1452.3L1614.3,1452.8L1614.4,1452.7L1614.7,1451.7L1615.0,1449.5L1615.3,1446.1L1615.6,1441.9L1615.9,1436.9L1616.2,1431.4L1616.5,1425.5L1616.8,1419.4L1617.1,1413.3L1617.3,1408.5L1617.4,1407.3L1617.7,1399.4L1618.0,1389.4L1618.3,1378.4L1618.6,1367.5L1618.9,1357.9L1619.2,1350.5L1619.5,1346.5L1619.6,1346.2L1619.8,1347.3L1620.1,1353.3L1620.4,1363.1L1620.7,1374.9L1621.0,1387.1L1621.3,1397.9L1621.6,1405.6L1621.9,1408.5L1621.9,1408.5L1622.2,1408.2L1622.5,1407.2L1622.8,1405.9L1623.1,1404.3L1623.4,1402.9L1623.7,1401.6L1624.0,1400.9L1624.2,1400.8L1624.3,1400.9L1624.6,1402.6L1624.9,1405.9L1625.2,1410.3L1625.5,1415.5L1625.8,1420.9L1626.1,1426.4L1626.4,1431.3L1626.8,1435.4L1627.1,1438.2L1627.2,1439.1L1627.4,1439.5L1627.7,1440.3L1628.0,1441.1L1628.3,1441.7L1628.6,1442.3L1628.9,1442.8L1629.2,1443.3L1629.5,1443.7L1629.8,1444.1L1630.1,1444.4L1630.4,1444.8L1630.7,1445.2L1631.0,1445.6L1631.3,1446.0L1631.6,1446.5L1631.8,1446.9L1631.9,1447.0L1632.2,1447.6L1632.5,1448.2L1632.8,1448.9L1633.1,1449.5L1633.4,1450.2L1633.7,1450.9L1634.0,1451.6L1634.3,1452.2L1634.6,1452.9L1634.9,1453.5L1635.2,1454.1L1635.5,1454.7L1635.8,1455.2L1636.1,1455.6L1636.4,1456.0L1636.4,1456.0L1636.7,1456.3L1637.0,1456.7L1637.3,1457.0L1637.6,1457.4L1637.9,1457.7L1638.2,1458.0L1638.5,1458.4L1638.8,1458.7L1639.1,1459.0L1639.5,1459.3L1639.8,1459.6L1640.1,1459.9L1640.4,1460.1L1640.7,1460.4L1641.0,1460.6L1641.3,1460.8L1641.6,1461.0L1641.9,1461.2L1642.2,1461.4L1642.5,1461.5L1642.8,1461.6L1643.1,1461.7L1643.4,1461.8L1643.7,1461.8L1644.0,1461.8L1644.0,1461.8L1644.3,1461.8L1644.6,1461.6L1644.9,1461.2L1645.2,1460.6L1645.5,1460.0L1645.8,1459.1L1646.1,1458.2L1646.3,1457.3L1646.4,1456.9L1646.7,1451.6L1647.0,1441.9L1647.3,1429.6L1647.6,1416.7L1647.9,1405.2L1648.2,1396.8L1648.5,1393.6L1648.5,1393.6L1648.8,1396.8L1649.1,1405.1L1649.4,1416.7L1649.7,1429.7L1650.0,1442.4L1650.3,1452.9L1650.6,1459.4L1650.8,1460.5L1650.9,1460.5L1651.2,1460.5L1651.5,1460.5L1651.8,1460.4L1652.1,1460.3L1652.5,1460.2L1652.8,1460.1L1653.1,1460.0L1653.4,1459.8L1653.7,1459.7L1654.0,1459.5L1654.3,1459.4L1654.6,1459.3L1654.7,1459.2L1654.9,1459.2L1655.2,1459.1L1655.5,1459.0L1655.8,1458.9L1656.1,1458.8L1656.4,1458.7L1656.7,1458.6L1657.0,1458.5L1657.3,1458.4L1657.6,1458.3L1657.9,1458.1L1658.2,1458.0L1658.5,1457.8L1658.8,1457.6L1659.1,1457.4L1659.3,1457.3L1659.4,1457.2L1659.7,1456.8L1660.0,1456.2L1660.3,1455.4L1660.6,1454.5L1660.9,1453.5L1661.2,1452.4L1661.5,1451.3L1661.8,1450.1L1662.1,1448.9L1662.3,1448.2L1662.4,1447.7L1662.7,1446.2L1663.0,1444.5L1663.3,1442.5L1663.6,1440.3L1663.9,1438.1L1664.2,1435.8L1664.5,1433.4L1664.8,1431.2L1665.2,1429.1L1665.5,1427.1L1665.8,1425.4L1666.1,1424.0L1666.4,1423.0L1666.7,1422.4L1666.9,1422.2L1667.0,1422.2L1667.3,1422.9L1667.6,1424.3L1667.9,1426.4L1668.2,1429.1L1668.5,1432.2L1668.8,1435.5L1669.1,1439.0L1669.4,1442.6L1669.7,1446.0L1670.0,1449.2L1670.3,1452.1L1670.6,1454.4L1670.9,1456.2L1671.2,1457.1L1671.4,1457.3L1671.5,1457.3L1671.8,1457.3L1672.1,1457.3L1672.4,1457.3L1672.7,1457.3L1673.0,1457.3L1673.3,1457.3L1673.6,1457.3L1673.9,1457.3L1674.2,1457.3L1674.5,1457.3L1674.8,1457.3L1675.1,1457.3L1675.4,1457.3L1675.7,1457.3L1676.0,1457.3L1676.0,1457.3L1676.3,1457.0L1676.6,1456.5L1676.9,1455.6L1677.2,1454.5L1677.5,1453.2L1677.8,1451.6L1678.2,1450.0L1678.5,1448.1L1678.8,1446.2L1679.1,1444.3L1679.4,1442.3L1679.7,1440.3L1679.8,1439.1L1680.0,1438.3L1680.3,1435.6L1680.6,1432.3L1680.9,1428.5L1681.2,1424.5L1681.5,1420.3L1681.8,1416.1L1682.1,1412.1L1682.4,1408.4L1682.7,1405.3L1683.0,1402.9L1683.3,1401.3L1683.6,1400.8L1683.6,1400.8L1683.9,1401.5L1684.2,1403.5L1684.5,1406.6L1684.8,1410.3L1685.1,1414.3L1685.4,1418.4L1685.7,1422.2L1686.0,1425.4L1686.3,1427.6L1686.6,1428.7L1686.6,1428.7L1686.9,1429.0L1687.2,1429.3L1687.5,1429.5L1687.8,1429.7L1688.1,1429.8L1688.4,1429.9L1688.7,1430.0L1689.0,1430.1L1689.3,1430.2L1689.6,1430.3L1689.9,1430.5L1690.2,1430.6L1690.5,1430.8L1690.9,1431.0L1691.2,1431.2L1691.2,1431.3L1691.5,1431.7L1691.8,1432.4L1692.1,1433.5L1692.4,1434.8L1692.7,1436.4L1693.0,1438.2L1693.3,1440.1L1693.6,1442.2L1693.9,1444.3L1694.2,1446.5L1694.5,1448.6L1694.8,1450.8L1695.1,1452.8L1695.4,1454.8L1695.7,1456.5L1696.0,1458.1L1696.3,1459.5L1696.6,1460.6L1696.9,1461.3L1697.2,1461.8L1697.4,1461.8L1697.5,1461.8L1697.8,1461.7L1698.1,1461.4L1698.4,1460.9L1698.7,1460.3L1699.0,1459.6L1699.3,1458.8L1699.6,1457.8L1699.9,1456.8L1700.2,1455.6L1700.5,1454.3L1700.8,1453.0L1701.1,1451.6L1701.4,1450.1L1701.7,1448.5L1702.0,1446.9L1702.3,1445.3L1702.6,1443.6L1702.9,1441.9L1703.2,1440.1L1703.4,1439.1L1703.6,1438.4L1703.9,1436.5L1704.2,1434.5L1704.5,1432.3L1704.8,1429.8L1705.1,1427.0L1705.4,1423.8L1705.7,1420.3L1706.0,1416.2L1706.3,1411.6L1706.5,1408.5L1706.6,1405.7L1706.9,1393.3L1707.2,1376.1L1707.5,1357.7L1707.8,1341.5L1708.1,1331.2L1708.3,1329.2L1708.4,1329.6L1708.7,1333.4L1709.0,1340.5L1709.3,1350.1L1709.6,1361.3L1709.9,1373.2L1710.2,1384.8L1710.5,1395.3L1710.8,1403.8L1711.0,1408.5L1711.1,1409.5L1711.4,1413.9L1711.7,1418.0L1712.0,1421.9L1712.3,1425.5L1712.6,1428.8L1712.9,1431.8L1713.2,1434.3L1713.5,1436.4L1713.8,1438.1L1714.1,1439.1L1714.1,1439.3L1714.4,1440.3L1714.7,1441.1L1715.0,1441.9L1715.3,1442.6L1715.6,1443.2L1715.9,1443.7L1716.2,1444.2L1716.6,1444.7L1716.9,1445.1L1717.2,1445.6L1717.5,1446.0L1717.8,1446.5L1718.1,1447.0L1718.4,1447.6L1718.7,1448.2L1718.7,1448.2L1719.0,1448.9L1719.3,1449.7L1719.6,1450.5L1719.9,1451.4L1720.2,1452.3L1720.5,1453.3L1720.8,1454.2L1721.1,1455.1L1721.4,1455.9L1721.7,1456.7L1722.0,1457.5L1722.3,1458.1L1722.6,1458.6L1722.9,1459.0L1723.2,1459.2L1723.3,1459.2L1723.5,1459.3L1723.8,1459.5L1724.1,1459.6L1724.4,1459.7L1724.7,1459.8L1725.0,1459.9L1725.3,1460.0L1725.6,1460.0L1725.9,1460.1L1726.2,1460.2L1726.5,1460.3L1726.8,1460.3L1727.1,1460.4L1727.4,1460.4L1727.7,1460.5L1728.0,1460.5L1728.3,1460.5L1728.6,1460.5L1728.9,1460.5L1729.3,1460.5L1729.3,1460.5L1729.6,1460.5L1729.9,1460.3L1730.2,1459.9L1730.5,1459.3L1730.8,1458.7L1731.1,1457.9L1731.4,1457.0L1731.7,1456.0L1732.0,1454.9L1732.3,1453.7L1732.6,1452.5L1732.9,1451.3L1733.2,1450.0L1733.5,1448.7L1733.8,1447.4L1733.9,1446.9L1734.1,1446.0L1734.4,1444.2L1734.7,1441.9L1735.0,1439.2L1735.3,1436.3L1735.6,1433.2L1735.9,1430.1L1736.2,1426.9L1736.5,1423.8L1736.8,1420.9L1737.1,1418.2L1737.4,1415.9L1737.7,1414.1L1738.0,1412.7L1738.3,1411.9L1738.5,1411.8L1738.6,1411.9L1738.9,1412.5L1739.2,1413.8L1739.5,1415.6L1739.8,1417.9L1740.1,1420.5L1740.4,1423.4L1740.7,1426.5L1741.0,1429.7L1741.3,1432.9L1741.6,1436.0L1741.9,1438.9L1742.3,1441.6L1742.6,1443.9L1742.9,1445.8L1743.1,1446.9L1743.2,1447.1L1743.5,1448.3L1743.8,1449.4L1744.1,1450.5L1744.4,1451.6L1744.7,1452.7L1745.0,1453.7L1745.3,1454.7L1745.6,1455.7L1745.9,1456.6L1746.2,1457.4L1746.5,1458.2L1746.8,1458.9L1747.1,1459.6L1747.4,1460.2L1747.7,1460.7L1748.0,1461.1L1748.3,1461.4L1748.6,1461.7L1748.9,1461.8L1749.1,1461.8L1749.2,1461.8L1749.5,1461.5L1749.8,1460.8L1750.1,1459.7L1750.4,1458.2L1750.7,1456.5L1751.0,1454.6L1751.3,1452.4L1751.6,1450.2L1751.9,1447.8L1752.2,1445.4L1752.5,1443.1L1752.8,1440.8L1753.1,1438.5L1753.4,1436.5L1753.7,1434.6L1754.0,1433.0L1754.3,1431.7L1754.6,1430.7L1755.0,1430.1L1755.2,1430.0L1755.3,1430.0L1755.6,1430.7L1755.9,1432.2L1756.2,1434.4L1756.5,1437.0L1756.8,1439.8L1757.1,1442.5L1757.4,1445.1L1757.7,1447.3L1758.0,1448.8L1758.3,1449.5L1758.3,1449.5L1758.6,1449.4L1758.9,1448.9L1759.2,1448.2L1759.5,1447.3L1759.8,1446.1L1760.1,1444.9L1760.4,1443.5L1760.7,1442.1L1761.0,1440.8L1761.3,1439.5L1761.6,1438.3L1761.9,1437.3L1762.2,1436.5L1762.5,1436.0L1762.8,1435.8L1762.8,1435.8L1763.1,1436.2L1763.4,1437.0L1763.7,1438.4L1764.0,1440.1L1764.3,1442.0L1764.6,1444.1L1764.9,1446.2L1765.2,1448.3L1765.5,1450.2L1765.8,1451.8L1766.1,1453.1L1766.4,1453.8L1766.7,1454.0L1766.7,1454.0L1767.0,1453.8L1767.3,1453.4L1767.7,1452.6L1768.0,1451.7L1768.3,1450.6L1768.6,1449.3L1768.9,1447.9L1769.2,1446.4L1769.5,1444.9L1769.8,1443.3L1770.1,1441.8L1770.4,1440.3L1770.7,1438.8L1771.0,1437.5L1771.3,1436.3L1771.6,1435.2L1771.9,1434.4L1772.2,1433.7L1772.5,1433.3L1772.7,1433.2L1772.8,1433.3L1773.1,1433.6L1773.4,1434.3L1773.7,1435.4L1774.0,1436.8L1774.3,1438.4L1774.6,1440.1L1774.9,1442.0L1775.2,1443.9L1775.5,1445.8L1775.8,1447.6L1776.1,1449.2L1776.4,1450.7L1776.6,1451.5L1776.7,1451.9L1777.0,1453.2L1777.3,1454.5L1777.6,1455.8L1777.9,1457.2L1778.2,1458.5L1778.5,1459.7L1778.8,1460.8L1779.1,1461.8L1779.4,1462.6L1779.7,1463.3L1780.0,1463.7L1780.3,1463.8L1780.3,1463.8L1780.7,1463.7L1781.0,1463.5L1781.3,1463.1L1781.6,1462.6L1781.9,1462.0L1782.2,1461.3L1782.5,1460.5L1782.8,1459.7L1783.1,1458.9L1783.4,1458.1L1783.7,1457.3L1784.0,1456.6L1784.3,1455.9L1784.6,1455.3L1784.9,1454.8L1785.2,1454.4L1785.5,1454.1L1785.8,1454.0L1785.8,1454.0L1786.1,1454.1L1786.4,1454.1L1786.7,1454.2L1787.0,1454.3L1787.3,1454.4L1787.6,1454.6L1787.9,1454.8L1788.2,1455.0L1788.5,1455.2L1788.8,1455.4L1789.1,1455.6L1789.4,1455.9L1789.7,1456.1L1790.0,1456.4L1790.3,1456.7L1790.6,1456.9L1790.9,1457.2L1791.2,1457.4L1791.5,1457.7L1791.8,1457.9L1792.1,1458.1L1792.4,1458.3L1792.7,1458.5L1793.0,1458.7L1793.4,1458.9L1793.7,1459.0L1794.0,1459.1L1794.3,1459.2L1794.6,1459.2L1794.9,1459.2L1794.9,1459.2L1795.2,1459.2L1795.5,1459.1L1795.8,1458.9L1796.1,1458.7L1796.4,1458.5L1796.7,1458.1L1797.0,1457.8L1797.3,1457.4L1797.6,1456.9L1797.9,1456.5L1798.2,1456.0L1798.5,1455.5L1798.8,1455.0L1799.1,1454.5L1799.4,1453.9L1799.7,1453.4L1800.0,1452.9L1800.3,1452.4L1800.6,1451.9L1800.9,1451.5L1800.9,1451.4L1801.2,1451.0L1801.5,1450.4L1801.8,1449.8L1802.1,1449.2L1802.4,1448.6L1802.7,1447.9L1803.0,1447.2L1803.3,1446.4L1803.6,1445.7L1803.9,1445.0L1804.2,1444.3L1804.5,1443.6L1804.8,1442.9L1805.1,1442.3L1805.4,1441.7L1805.7,1441.1L1806.0,1440.6L1806.4,1440.2L1806.7,1439.8L1807.0,1439.5L1807.3,1439.3L1807.6,1439.1L1807.8,1439.1L1807.9,1439.1L1808.2,1439.3L1808.5,1439.8L1808.8,1440.6L1809.1,1441.6L1809.4,1442.8L1809.7,1444.1L1810.0,1445.6L1810.3,1447.2L1810.6,1448.8L1810.9,1450.5L1811.2,1452.1L1811.5,1453.8L1811.8,1455.3L1812.1,1456.8L1812.4,1458.2L1812.7,1459.4L1813.0,1460.3L1813.3,1461.1L1813.6,1461.6L1813.9,1461.8L1814.0,1461.8L1814.2,1461.4L1814.5,1459.7L1814.8,1457.0L1815.1,1453.4L1815.4,1449.3L1815.7,1444.8L1816.0,1440.3L1816.3,1435.9L1816.6,1431.8L1816.9,1428.4L1817.2,1425.9L1817.5,1424.4L1817.7,1424.2L1817.8,1424.2L1818.1,1425.2L1818.4,1427.0L1818.7,1429.6L1819.1,1432.8L1819.4,1436.4L1819.7,1440.2L1820.0,1444.1L1820.3,1447.9L1820.6,1451.4L1820.9,1454.5L1821.2,1457.0L1821.5,1458.8L1821.6,1459.2L1821.8,1459.8L1822.1,1460.7L1822.4,1461.6L1822.7,1462.4L1823.0,1463.2L1823.3,1463.9L1823.6,1464.5L1823.9,1465.1L1824.2,1465.6L1824.5,1465.9L1824.8,1466.2L1825.1,1466.4L1825.3,1466.4L1825.4,1466.4L1825.7,1466.3L1826.0,1466.1L1826.3,1465.9L1826.6,1465.5L1826.9,1465.2L1827.2,1464.7L1827.5,1464.3L1827.8,1463.9L1828.1,1463.4L1828.4,1463.0L1828.7,1462.6L1829.0,1462.3L1829.3,1462.1L1829.6,1461.9L1829.9,1461.8L1829.9,1461.8L1830.2,1461.9L1830.5,1462.2L1830.8,1462.5L1831.1,1463.0L1831.4,1463.5L1831.7,1464.0L1832.1,1464.6L1832.4,1465.1L1832.7,1465.6L1833.0,1466.0L1833.3,1466.2L1833.6,1466.4L1833.7,1466.4L1833.9,1466.1L1834.2,1464.7L1834.5,1462.0L1834.8,1458.5L1835.1,1454.2L1835.4,1449.4L1835.7,1444.3L1836.0,1439.1L1836.0,1439.1L1836.3,1431.5L1836.6,1420.7L1836.9,1408.5L1837.2,1397.3L1837.5,1389.0L1837.8,1385.8L1837.8,1385.8L1838.1,1387.4L1838.4,1391.6L1838.7,1397.7L1839.0,1404.9L1839.3,1412.4L1839.6,1419.4L1839.9,1424.2L1839.9,1425.2L1840.2,1431.2L1840.5,1437.7L1840.8,1444.2L1841.1,1450.4L1841.4,1455.7L1841.7,1459.6L1842.0,1461.7L1842.2,1461.8L1842.3,1461.8L1842.6,1461.7L1842.9,1461.4L1843.2,1461.0L1843.5,1460.5L1843.8,1460.0L1844.1,1459.4L1844.4,1458.8L1844.8,1458.2L1845.1,1457.7L1845.4,1457.1L1845.7,1456.7L1846.0,1456.3L1846.3,1456.1L1846.6,1456.0L1846.6,1456.0L1846.9,1456.0L1847.2,1456.2L1847.5,1456.5L1847.8,1456.8L1848.1,1457.2L1848.4,1457.7L1848.7,1458.2L1849.0,1458.8L1849.3,1459.3L1849.6,1459.9L1849.9,1460.4L1850.2,1460.8L1850.5,1461.2L1850.8,1461.6L1851.1,1461.8L1851.2,1461.8L1851.4,1461.9L1851.7,1462.1L1852.0,1462.2L1852.3,1462.3L1852.6,1462.4L1852.9,1462.6L1853.2,1462.7L1853.5,1462.8L1853.8,1462.9L1854.1,1463.0L1854.4,1463.1L1854.7,1463.2L1855.0,1463.3L1855.3,1463.3L1855.6,1463.4L1855.9,1463.5L1856.2,1463.5L1856.5,1463.6L1856.8,1463.6L1857.1,1463.7L1857.5,1463.7L1857.8,1463.8L1858.1,1463.8L1858.4,1463.8L1858.7,1463.8L1858.8,1463.8L1859.0,1463.8L1859.3,1463.8L1859.6,1463.7L1859.9,1463.6L1860.2,1463.5L1860.5,1463.4L1860.8,1463.2L1861.1,1463.0L1861.4,1462.8L1861.7,1462.6L1862.0,1462.3L1862.3,1462.1L1862.6,1461.8L1862.9,1461.5L1863.2,1461.2L1863.5,1460.9L1863.8,1460.5L1864.1,1460.2L1864.4,1459.9L1864.7,1459.5L1865.0,1459.1L1865.3,1458.8L1865.6,1458.4L1865.9,1458.1L1866.2,1457.7L1866.5,1457.3L1866.8,1457.0L1867.1,1456.6L1867.4,1456.3L1867.7,1455.9L1868.0,1455.6L1868.3,1455.3L1868.6,1455.0L1868.9,1454.7L1869.2,1454.4L1869.5,1454.2L1869.8,1453.9L1870.1,1453.7L1870.5,1453.5L1870.8,1453.3L1871.1,1453.1L1871.4,1453.0L1871.7,1452.9L1872.0,1452.8L1872.3,1452.8L1872.6,1452.8L1872.6,1452.8L1872.9,1452.8L1873.2,1452.8L1873.5,1452.9L1873.8,1453.0L1874.1,1453.1L1874.4,1453.2L1874.7,1453.4L1875.0,1453.6L1875.3,1453.8L1875.6,1454.1L1875.9,1454.3L1876.2,1454.6L1876.5,1454.8L1876.8,1455.1L1877.1,1455.4L1877.4,1455.7L1877.7,1456.0L1878.0,1456.3L1878.3,1456.6L1878.6,1456.8L1878.9,1457.1L1879.2,1457.4L1879.5,1457.7L1879.8,1457.9L1880.1,1458.2L1880.4,1458.4L1880.7,1458.7L1881.0,1458.9L1881.3,1459.1L1881.6,1459.2L1881.7,1459.2L1881.9,1459.4L1882.2,1459.5L1882.5,1459.7L1882.8,1459.8L1883.2,1460.0L1883.5,1460.1L1883.8,1460.3L1884.1,1460.4L1884.4,1460.6L1884.7,1460.7L1885.0,1460.9L1885.3,1461.0L1885.6,1461.2L1885.9,1461.3L1886.2,1461.5L1886.5,1461.6L1886.8,1461.8L1887.1,1461.9L1887.4,1462.1L1887.7,1462.2L1888.0,1462.4L1888.3,1462.5L1888.6,1462.6L1888.9,1462.8L1889.2,1462.9L1889.5,1463.1L1889.8,1463.2L1890.1,1463.3L1890.4,1463.5L1890.7,1463.6L1891.0,1463.7L1891.3,1463.8L1891.6,1463.9L1891.9,1464.1L1892.2,1464.2L1892.5,1464.3L1892.8,1464.4L1893.1,1464.5L1893.4,1464.6L1893.7,1464.7L1894.0,1464.8L1894.3,1464.9L1894.6,1465.0L1894.9,1465.0L1895.2,1465.1L1895.5,1465.2L1895.8,1465.3L1896.2,1465.3L1896.5,1465.4L1896.8,1465.4L1897.1,1465.5L1897.4,1465.5L1897.7,1465.6L1898.0,1465.6L1898.3,1465.7L1898.6,1465.7L1898.9,1465.7L1899.2,1465.7L1899.5,1465.7L1899.8,1465.7L1900.0,1465.8L1900.1,1465.7L1900.4,1465.7L1900.7,1465.7L1901.0,1465.6L1901.3,1465.6L1901.6,1465.5L1901.9,1465.4L1902.2,1465.3L1902.5,1465.2L1902.8,1465.1L1903.1,1465.0L1903.4,1464.8L1903.7,1464.7L1904.0,1464.5L1904.3,1464.4L1904.6,1464.3L1904.9,1464.1L1905.2,1464.0L1905.5,1463.9L1905.6,1463.8L1905.8,1463.7L1906.1,1463.6L1906.4,1463.4L1906.7,1463.3L1907.0,1463.1L1907.3,1462.9L1907.6,1462.8L1907.9,1462.6L1908.2,1462.4L1908.5,1462.2L1908.9,1462.0L1909.2,1461.8L1909.5,1461.6L1909.8,1461.5L1910.1,1461.3L1910.4,1461.1L1910.7,1460.9L1911.0,1460.7L1911.3,1460.6L1911.3,1460.5L1911.6,1460.4L1911.9,1460.2L1912.2,1460.1L1912.5,1459.9L1912.8,1459.7L1913.1,1459.5L1913.4,1459.3L1913.7,1459.1L1914.0,1458.9L1914.3,1458.7L1914.6,1458.5L1914.9,1458.3L1915.2,1458.1L1915.5,1458.0L1915.8,1457.8L1916.1,1457.6L1916.4,1457.5L1916.7,1457.3L1917.0,1457.2L1917.3,1457.1L1917.6,1457.0L1917.9,1456.9L1918.2,1456.8L1918.5,1456.7L1918.8,1456.7L1919.1,1456.7L1919.3,1456.7L1919.4,1456.7L1919.7,1456.7L1920.0,1456.7L1920.3,1456.7L1920.6,1456.7L1920.9,1456.7L1921.2,1456.7L1921.5,1456.7L1921.9,1456.7L1922.2,1456.7L1922.5,1456.7L1922.8,1456.7L1923.1,1456.7L1923.4,1456.7L1923.7,1456.7L1924.0,1456.7L1924.3,1456.7L1924.6,1456.7L1924.9,1456.7L1925.2,1456.7L1925.5,1456.7L1925.8,1456.7L1926.1,1456.7L1926.4,1456.7L1926.7,1456.7L1926.8,1456.7L1927.0,1456.7L1927.3,1456.8L1927.6,1457.1L1927.9,1457.4L1928.2,1457.8L1928.5,1458.3L1928.8,1458.9L1929.1,1459.4L1929.4,1460.0L1929.7,1460.6L1930.0,1461.1L1930.3,1461.7L1930.6,1462.1L1930.9,1462.5L1931.2,1462.8L1931.5,1463.1L1931.8,1463.1L1931.9,1463.2L1932.1,1463.1L1932.4,1463.0L1932.7,1462.9L1933.0,1462.7L1933.3,1462.4L1933.6,1462.1L1933.9,1461.7L1934.2,1461.4L1934.6,1461.0L1934.9,1460.6L1935.2,1460.2L1935.5,1459.8L1935.8,1459.4L1936.1,1459.0L1936.4,1458.7L1936.7,1458.3L1937.0,1458.1L1937.1,1458.0L1937.3,1457.8L1937.6,1457.6L1937.9,1457.3L1938.2,1457.0L1938.5,1456.8L1938.8,1456.5L1939.1,1456.2L1939.4,1456.0L1939.7,1455.7L1940.0,1455.4L1940.3,1455.2L1940.6,1454.9L1940.9,1454.7L1941.2,1454.5L1941.5,1454.2L1941.8,1454.0L1942.1,1453.8L1942.4,1453.6L1942.7,1453.5L1943.0,1453.3L1943.3,1453.2L1943.6,1453.0L1943.9,1452.9L1944.2,1452.8L1944.5,1452.8L1944.8,1452.8L1945.1,1452.8L1945.1,1452.8L1945.4,1452.8L1945.7,1452.9L1946.0,1453.0L1946.3,1453.1L1946.6,1453.3L1946.9,1453.5L1947.3,1453.8L1947.6,1454.1L1947.9,1454.3L1948.2,1454.7L1948.5,1455.0L1948.8,1455.3L1949.1,1455.6L1949.4,1456.0L1949.7,1456.3L1950.0,1456.6L1950.3,1456.9L1950.6,1457.2L1950.9,1457.5L1951.2,1457.8L1951.4,1458.0L1951.5,1458.0L1951.8,1458.3L1952.1,1458.6L1952.4,1458.9L1952.7,1459.1L1953.0,1459.4L1953.3,1459.8L1953.6,1460.1L1953.9,1460.4L1954.2,1460.7L1954.5,1461.0L1954.8,1461.3L1955.1,1461.6L1955.4,1462.0L1955.7,1462.3L1956.0,1462.6L1956.3,1462.8L1956.6,1463.1L1956.9,1463.4L1957.2,1463.6L1957.5,1463.9L1957.8,1464.1L1958.1,1464.3L1958.4,1464.5L1958.7,1464.7L1959.0,1464.8L1959.3,1464.9L1959.6,1465.0L1959.9,1465.1L1960.3,1465.1L1960.4,1465.1L1960.6,1465.1L1960.9,1465.1L1961.2,1465.1L1961.5,1465.0L1961.8,1465.0L1962.1,1464.9L1962.4,1464.8L1962.7,1464.7L1963.0,1464.6L1963.3,1464.5L1963.6,1464.4L1963.9,1464.3L1964.2,1464.2L1964.5,1464.1L1964.8,1464.0L1965.1,1463.9L1965.4,1463.8L1965.7,1463.7L1966.0,1463.6L1966.3,1463.5L1966.6,1463.4L1966.9,1463.3L1967.2,1463.3L1967.5,1463.2L1967.8,1463.2L1968.1,1463.2L1968.4,1463.2L1968.4,1463.2L1968.7,1463.2L1969.0,1463.2L1969.3,1463.2L1969.6,1463.2L1969.9,1463.2L1970.2,1463.2L1970.5,1463.2L1970.8,1463.2L1971.1,1463.2L1971.4,1463.2L1971.7,1463.2L1972.0,1463.2L1972.3,1463.2L1972.6,1463.2L1973.0,1463.2L1973.3,1463.2L1973.6,1463.2L1973.9,1463.2L1974.2,1463.2L1974.5,1463.2L1974.8,1463.2L1975.1,1463.2L1975.3,1463.2L1975.4,1463.2L1975.7,1463.3L1976.0,1463.6L1976.3,1464.1L1976.6,1464.6L1976.9,1465.2L1977.2,1465.8L1977.5,1466.3L1977.8,1466.7L1978.1,1467.0L1978.1,1467.1L1978.4,1467.3L1978.7,1467.4L1979.0,1467.6L1979.3,1467.7L1979.3,1467.7" fill="none" stroke="#ea10ea" stroke-width="3.0" stroke-linejoin="round" stroke-linecap="round"/>
<g fill="#000">
<polygon points="1223.8,1408.1 1228.0,1416.0 1237.1,1416.0 1229.4,1422.8 1231.9,1431.3 1223.8,1426.5 1215.7,1431.3 1218.2,1422.8 1210.5,1416.0 1219.6,1416.0"/>
<polygon points="1302.9,1321.0 1307.1,1328.9 1316.2,1328.9 1308.5,1335.7 1311.0,1344.2 1302.9,1339.4 1294.8,1344.2 1297.3,1335.7 1289.6,1328.9 1298.7,1328.9"/>
<polygon points="1309.7,1342.4 1313.9,1350.3 1323.0,1350.3 1315.3,1357.1 1317.8,1365.6 1309.7,1360.8 1301.6,1365.6 1304.1,1357.1 1296.4,1350.3 1305.5,1350.3"/>
<polygon points="1311.1,1327.0 1333.7,1327.0 1322.4,1346.5"/>
<polygon points="1353.2,816.0 1357.4,823.9 1366.5,823.9 1358.8,830.7 1361.3,839.2 1353.2,834.4 1345.1,839.2 1347.6,830.7 1339.9,823.9 1349.0,823.9"/>
<polygon points="1394.0,1053.3 1398.2,1061.2 1407.3,1061.2 1399.6,1068.0 1402.1,1076.5 1394.0,1071.7 1385.9,1076.5 1388.4,1068.0 1380.7,1061.2 1389.8,1061.2"/>
<text class="sf" x="1373.2" y="1438.0" font-size="36" text-anchor="middle">&#162;</text>
<polygon points="1424.2,1319.3 1428.4,1327.2 1437.5,1327.2 1429.8,1334.0 1432.3,1342.5 1424.2,1337.7 1416.1,1342.5 1418.6,1334.0 1410.9,1327.2 1420.0,1327.2"/>
<polygon points="1428.2,1238.0 1450.8,1238.0 1439.5,1257.5"/>
<polygon points="1459.0,1377.2 1481.6,1377.2 1470.3,1396.7"/>
<polygon points="1482.5,1418.7 1486.7,1426.6 1495.8,1426.6 1488.1,1433.4 1490.6,1441.9 1482.5,1437.1 1474.4,1441.9 1476.9,1433.4 1469.2,1426.6 1478.3,1426.6"/>
<polygon points="1505.7,1370.0 1509.9,1377.9 1519.0,1377.9 1511.3,1384.7 1513.8,1393.2 1505.7,1388.4 1497.6,1393.2 1500.1,1384.7 1492.4,1377.9 1501.5,1377.9"/>
<polygon points="1519.0,1394.0 1523.2,1401.9 1532.3,1401.9 1524.6,1408.7 1527.1,1417.2 1519.0,1412.4 1510.9,1417.2 1513.4,1408.7 1505.7,1401.9 1514.8,1401.9"/>
<polygon points="1526.5,1265.2 1549.1,1265.2 1537.8,1284.7"/>
<polygon points="1553.0,1404.3 1557.2,1412.2 1566.3,1412.2 1558.6,1419.0 1561.1,1427.5 1553.0,1422.7 1544.9,1427.5 1547.4,1419.0 1539.7,1412.2 1548.8,1412.2"/>
<polygon points="1565.2,1387.1 1569.4,1395.0 1578.5,1395.0 1570.8,1401.8 1573.3,1410.3 1565.2,1405.5 1557.1,1410.3 1559.6,1401.8 1551.9,1395.0 1561.0,1395.0"/>
<polygon points="1607.9,1329.2 1612.1,1337.1 1621.2,1337.1 1613.5,1343.9 1616.0,1352.4 1607.9,1347.6 1599.8,1352.4 1602.3,1343.9 1594.6,1337.1 1603.7,1337.1"/>
<polygon points="1620.0,1310.8 1624.2,1318.7 1633.3,1318.7 1625.6,1325.5 1628.1,1334.0 1620.0,1329.2 1611.9,1334.0 1614.4,1325.5 1606.7,1318.7 1615.8,1318.7"/>
<polygon points="1629.9,1364.3 1634.1,1372.2 1643.2,1372.2 1635.5,1379.0 1638.0,1387.5 1629.9,1382.7 1621.8,1387.5 1624.3,1379.0 1616.6,1372.2 1625.7,1372.2"/>
<polygon points="1637.3,1361.8 1659.9,1361.8 1648.6,1381.3"/>
<polygon points="1666.9,1393.2 1671.1,1401.1 1680.2,1401.1 1672.5,1407.9 1675.0,1416.4 1666.9,1411.6 1658.8,1416.4 1661.3,1407.9 1653.6,1401.1 1662.7,1401.1"/>
<polygon points="1683.2,1368.8 1687.4,1376.7 1696.5,1376.7 1688.8,1383.5 1691.3,1392.0 1683.2,1387.2 1675.1,1392.0 1677.6,1383.5 1669.9,1376.7 1679.0,1376.7"/>
<polygon points="1697.1,1300.2 1719.7,1300.2 1708.4,1319.7"/>
<polygon points="1721.0,1408.4 1725.2,1416.3 1734.3,1416.3 1726.6,1423.1 1729.1,1431.6 1721.0,1426.8 1712.9,1431.6 1715.4,1423.1 1707.7,1416.3 1716.8,1416.3"/>
<polygon points="1740.4,1378.0 1744.6,1385.9 1753.7,1385.9 1746.0,1392.7 1748.5,1401.2 1740.4,1396.4 1732.3,1401.2 1734.8,1392.7 1727.1,1385.9 1736.2,1385.9"/>
<polygon points="1757.6,1401.2 1761.8,1409.1 1770.9,1409.1 1763.2,1415.9 1765.7,1424.4 1757.6,1419.6 1749.5,1424.4 1752.0,1415.9 1744.3,1409.1 1753.4,1409.1"/>
<polygon points="1774.5,1384.8 1778.7,1392.7 1787.8,1392.7 1780.1,1399.5 1782.6,1408.0 1774.5,1403.2 1766.4,1408.0 1768.9,1399.5 1761.2,1392.7 1770.3,1392.7"/>
<polygon points="1789.5,1427.9 1793.7,1435.8 1802.8,1435.8 1795.1,1442.6 1797.6,1451.1 1789.5,1446.3 1781.4,1451.1 1783.9,1442.6 1776.2,1435.8 1785.3,1435.8"/>
<polygon points="1805.9,1408.9 1810.1,1416.8 1819.2,1416.8 1811.5,1423.6 1814.0,1432.1 1805.9,1427.3 1797.8,1432.1 1800.3,1423.6 1792.6,1416.8 1801.7,1416.8"/>
<polygon points="1807.2,1393.2 1829.8,1393.2 1818.5,1412.7"/>
<polygon points="1826.3,1355.8 1848.9,1355.8 1837.6,1375.3"/>
<polygon points="1874.1,1424.4 1878.3,1432.3 1887.4,1432.3 1879.7,1439.1 1882.2,1447.6 1874.1,1442.8 1866.0,1447.6 1868.5,1439.1 1860.8,1432.3 1869.9,1432.3"/>
</g>
<g stroke="#000" stroke-width="3" fill="none">
<rect x="1132.7" y="812.7" width="846.6" height="682.3"/>
<path d="M1132.7,1495.0h13.0M1979.3,1495.0h-13.0M1132.7,1430.0h6.0M1979.3,1430.0h-6.0M1132.7,1365.0h13.0M1979.3,1365.0h-13.0M1132.7,1300.0h6.0M1979.3,1300.0h-6.0M1132.7,1235.0h13.0M1979.3,1235.0h-13.0M1132.7,1170.0h6.0M1979.3,1170.0h-6.0M1132.7,1105.0h13.0M1979.3,1105.0h-13.0M1132.7,1040.0h6.0M1979.3,1040.0h-6.0M1132.7,975.0h13.0M1979.3,975.0h-13.0M1132.7,910.0h6.0M1979.3,910.0h-6.0M1132.7,845.0h13.0M1979.3,845.0h-13.0M1193.2,1495.0v-6.5M1253.6,1495.0v-13.5M1314.1,1495.0v-6.5M1374.6,1495.0v-13.5M1435.1,1495.0v-6.5M1495.5,1495.0v-13.5M1556.0,1495.0v-6.5M1616.5,1495.0v-13.5M1676.9,1495.0v-6.5M1737.4,1495.0v-13.5M1797.9,1495.0v-6.5M1858.4,1495.0v-13.5M1918.8,1495.0v-6.5" stroke-linecap="butt"/>
</g>
<g font-size="45" fill="#000">
<text x="1121.7" y="1509.2" text-anchor="end">0</text>
<text x="1121.7" y="1379.2" text-anchor="end">20</text>
<text x="1121.7" y="1249.2" text-anchor="end">40</text>
<text x="1121.7" y="1119.2" text-anchor="end">60</text>
<text x="1121.7" y="989.2" text-anchor="end">80</text>
<text x="1121.7" y="859.2" text-anchor="end">100</text>
<text x="1132.7" y="1539.5" text-anchor="middle">10</text>
<text x="1253.6" y="1539.5" text-anchor="middle">20</text>
<text x="1374.6" y="1539.5" text-anchor="middle">30</text>
<text x="1495.5" y="1539.5" text-anchor="middle">40</text>
<text x="1616.5" y="1539.5" text-anchor="middle">50</text>
<text x="1737.4" y="1539.5" text-anchor="middle">60</text>
<text x="1858.4" y="1539.5" text-anchor="middle">70</text>
<text x="1979.3" y="1539.5" text-anchor="middle">80</text>
</g>
<text font-size="45" transform="translate(1048.2,1153.8) rotate(-90)" text-anchor="middle">Relative intensity (%)</text>
<text font-size="45" x="1556.0" y="1584.5" text-anchor="middle">2<tspan class="sf">&#952;</tspan> (&#176;)</text>
<text font-size="59" x="1152.7" y="872.1">(d)</text>
<text font-size="35" x="1963.8" y="842.2" text-anchor="end" fill="#ea10ea" font-weight="bold">C4, 1650°C</text>
<polygon points="1515.2,877.3 1519.2,885.0 1527.8,885.0 1520.5,891.7 1522.9,900.0 1515.2,895.3 1507.6,900.0 1510.0,891.7 1502.7,885.0 1511.3,885.0" fill="#000"/>
<text x="1539.2" y="901.2" font-size="35.5">ZrO<tspan font-size="22" dy="8.7">2</tspan><tspan dy="-8.7"> monoclinic</tspan></text>
<text class="sf" x="1500.5" y="958.7" font-size="35.5">&#162;</text>
<text x="1528.5" y="958.7" font-size="35.5">ZrO<tspan font-size="22" dy="8.7">2</tspan><tspan dy="-8.7"> cubic</tspan></text>
<polygon points="1501.6,992.0 1528.9,992.0 1515.2,1016.0" fill="#000"/>
<text x="1540.7" y="1017.1" font-size="35.5">Corundum, <tspan class="sf">&#945;</tspan>-Al<tspan font-size="22" dy="8.7">2</tspan><tspan dy="-8.7">O</tspan><tspan font-size="22" dy="8.7">3</tspan></text>
<g stroke="#7f7f7f" stroke-width="1.9" stroke-dasharray="8.2 8.2" fill="none">
<line x1="631.6" y1="2165.0" x2="1478.2" y2="2165.0"/>
<line x1="631.6" y1="2035.0" x2="1478.2" y2="2035.0"/>
<line x1="631.6" y1="1905.0" x2="1478.2" y2="1905.0"/>
<line x1="631.6" y1="1775.0" x2="1478.2" y2="1775.0"/>
<line x1="631.6" y1="1645.0" x2="1478.2" y2="1645.0"/>
</g>
<path d="M631.6,2264.4L631.9,2264.4L632.2,2264.4L632.5,2264.4L632.8,2264.4L633.1,2264.4L633.4,2264.3L633.7,2264.3L634.0,2264.3L634.3,2264.3L634.6,2264.3L634.9,2264.2L635.2,2264.2L635.5,2264.2L635.8,2264.2L636.1,2264.2L636.4,2264.1L636.7,2264.1L637.0,2264.1L637.3,2264.1L637.6,2264.1L637.9,2264.1L638.3,2264.0L638.6,2264.0L638.9,2264.0L639.2,2264.0L639.5,2264.0L639.8,2264.0L640.1,2263.9L640.4,2263.9L640.7,2263.9L641.0,2263.9L641.3,2263.9L641.6,2263.9L641.9,2263.9L642.2,2263.9L642.5,2263.9L642.8,2263.9L643.1,2263.8L643.4,2263.8L643.7,2263.8L644.0,2263.8L644.3,2263.8L644.6,2263.8L644.9,2263.8L645.2,2263.8L645.5,2263.8L645.8,2263.8L646.1,2263.8L646.2,2263.8L646.4,2263.8L646.7,2263.8L647.0,2263.8L647.3,2263.8L647.6,2263.8L647.9,2263.8L648.2,2263.8L648.5,2263.8L648.8,2263.8L649.1,2263.8L649.4,2263.8L649.7,2263.8L650.0,2263.8L650.3,2263.8L650.6,2263.8L651.0,2263.8L651.3,2263.8L651.6,2263.8L651.9,2263.8L652.2,2263.8L652.5,2263.8L652.8,2263.8L653.1,2263.8L653.4,2263.8L653.7,2263.8L654.0,2263.8L654.3,2263.8L654.6,2263.8L654.9,2263.8L655.2,2263.8L655.5,2263.8L655.8,2263.8L656.1,2263.8L656.4,2263.8L656.7,2263.8L657.0,2263.8L657.3,2263.8L657.6,2263.8L657.9,2263.8L658.2,2263.8L658.5,2263.8L658.8,2263.8L659.1,2263.8L659.4,2263.8L659.7,2263.8L660.0,2263.8L660.3,2263.8L660.6,2263.8L660.9,2263.8L661.2,2263.8L661.5,2263.8L661.5,2263.8L661.8,2263.8L662.1,2263.8L662.4,2263.7L662.7,2263.7L663.0,2263.6L663.3,2263.5L663.6,2263.5L664.0,2263.4L664.3,2263.3L664.6,2263.1L664.9,2263.0L665.2,2262.9L665.5,2262.8L665.8,2262.6L666.1,2262.5L666.4,2262.3L666.7,2262.2L667.0,2262.0L667.3,2261.9L667.6,2261.7L667.9,2261.6L668.2,2261.4L668.5,2261.2L668.8,2261.1L669.1,2260.9L669.4,2260.8L669.7,2260.6L670.0,2260.5L670.3,2260.3L670.6,2260.2L670.9,2260.1L671.2,2259.9L671.5,2259.8L671.8,2259.7L672.1,2259.6L672.4,2259.5L672.7,2259.4L673.0,2259.4L673.3,2259.3L673.6,2259.3L673.7,2259.2L673.9,2259.2L674.2,2259.2L674.5,2259.2L674.8,2259.1L675.1,2259.1L675.4,2259.1L675.7,2259.0L676.0,2259.0L676.3,2259.0L676.7,2259.0L677.0,2258.9L677.3,2258.9L677.6,2258.9L677.9,2258.9L678.2,2258.8L678.5,2258.8L678.8,2258.8L679.1,2258.8L679.4,2258.8L679.7,2258.8L680.0,2258.7L680.3,2258.7L680.6,2258.7L680.9,2258.7L681.2,2258.7L681.5,2258.7L681.8,2258.7L682.1,2258.6L682.4,2258.6L682.7,2258.6L683.0,2258.6L683.3,2258.6L683.6,2258.6L683.9,2258.6L684.2,2258.6L684.5,2258.5L684.8,2258.5L685.1,2258.5L685.4,2258.5L685.7,2258.5L686.0,2258.5L686.3,2258.5L686.6,2258.4L686.9,2258.4L687.2,2258.4L687.5,2258.4L687.8,2258.4L688.1,2258.3L688.4,2258.3L688.7,2258.3L689.0,2258.3L689.4,2258.2L689.7,2258.2L690.0,2258.2L690.3,2258.1L690.6,2258.1L690.9,2258.1L691.2,2258.0L691.5,2258.0L691.8,2258.0L692.0,2257.9L692.1,2257.9L692.4,2257.9L692.7,2257.8L693.0,2257.7L693.3,2257.7L693.6,2257.6L693.9,2257.4L694.2,2257.3L694.5,2257.2L694.8,2257.1L695.1,2256.9L695.4,2256.8L695.7,2256.6L696.0,2256.5L696.3,2256.3L696.6,2256.1L696.9,2256.0L697.2,2255.8L697.5,2255.6L697.8,2255.4L698.1,2255.2L698.4,2255.0L698.7,2254.9L699.0,2254.7L699.3,2254.5L699.6,2254.3L699.9,2254.1L700.2,2254.0L700.5,2253.8L700.8,2253.6L701.1,2253.4L701.4,2253.3L701.7,2253.1L702.0,2253.0L702.4,2252.9L702.6,2252.8L702.7,2252.7L703.0,2252.6L703.3,2252.5L703.6,2252.4L703.9,2252.2L704.2,2252.1L704.5,2252.0L704.8,2251.9L705.1,2251.8L705.4,2251.7L705.7,2251.6L706.0,2251.4L706.3,2251.3L706.6,2251.2L706.9,2251.1L707.2,2251.0L707.5,2250.9L707.8,2250.8L708.1,2250.7L708.4,2250.6L708.7,2250.5L709.0,2250.4L709.3,2250.3L709.6,2250.2L709.9,2250.1L710.2,2250.0L710.5,2249.9L710.8,2249.8L711.1,2249.7L711.4,2249.5L711.7,2249.4L712.0,2249.3L712.3,2249.2L712.6,2249.1L712.9,2249.0L713.2,2248.9L713.5,2248.7L713.8,2248.6L714.1,2248.5L714.4,2248.4L714.7,2248.2L714.8,2248.2L715.1,2248.1L715.4,2248.0L715.7,2247.9L716.0,2247.7L716.3,2247.6L716.6,2247.5L716.9,2247.4L717.2,2247.3L717.5,2247.1L717.8,2247.0L718.1,2246.9L718.4,2246.7L718.7,2246.5L719.0,2246.3L719.3,2246.1L719.6,2245.9L719.9,2245.6L719.9,2245.6L720.2,2245.1L720.5,2244.3L720.8,2243.4L721.1,2242.6L721.4,2242.0L721.7,2241.7L721.7,2241.7L722.0,2242.0L722.3,2242.6L722.6,2243.5L722.9,2244.4L723.2,2245.2L723.5,2245.6L723.5,2245.6L723.8,2245.8L724.1,2245.9L724.4,2246.0L724.7,2246.0L725.0,2246.1L725.3,2246.2L725.5,2246.2L725.6,2246.3L725.9,2246.5L726.2,2246.6L726.5,2246.8L726.8,2247.0L727.1,2247.2L727.4,2247.5L727.7,2247.7L728.1,2247.9L728.4,2248.2L728.7,2248.4L729.0,2248.7L729.3,2248.9L729.6,2249.2L729.9,2249.4L730.2,2249.6L730.5,2249.8L730.8,2250.0L731.1,2250.2L731.4,2250.3L731.7,2250.5L732.0,2250.6L732.3,2250.7L732.6,2250.8L732.9,2250.8L733.1,2250.8L733.2,2250.8L733.5,2250.8L733.8,2250.8L734.1,2250.8L734.4,2250.8L734.7,2250.8L735.0,2250.8L735.3,2250.7L735.6,2250.7L735.9,2250.7L736.2,2250.7L736.5,2250.7L736.8,2250.6L737.1,2250.6L737.4,2250.6L737.7,2250.6L738.0,2250.5L738.3,2250.5L738.6,2250.5L738.9,2250.5L739.2,2250.4L739.5,2250.4L739.8,2250.4L740.1,2250.3L740.4,2250.3L740.8,2250.3L741.1,2250.2L741.4,2250.2L741.7,2250.1L742.0,2250.1L742.3,2250.1L742.6,2250.0L742.9,2250.0L743.2,2250.0L743.5,2249.9L743.8,2249.9L744.1,2249.8L744.4,2249.8L744.7,2249.8L745.0,2249.7L745.3,2249.7L745.6,2249.6L745.9,2249.6L746.2,2249.6L746.5,2249.5L746.8,2249.5L746.9,2249.5L747.1,2249.5L747.4,2249.4L747.7,2249.4L748.0,2249.4L748.3,2249.3L748.6,2249.3L748.9,2249.2L749.2,2249.2L749.5,2249.1L749.8,2249.1L750.1,2249.0L750.4,2248.9L750.7,2248.9L751.0,2248.8L751.3,2248.8L751.6,2248.7L751.9,2248.7L752.2,2248.6L752.5,2248.5L752.8,2248.5L753.1,2248.4L753.4,2248.4L753.8,2248.3L754.1,2248.3L754.4,2248.2L754.7,2248.2L755.0,2248.1L755.3,2248.1L755.6,2248.0L755.9,2248.0L756.2,2247.9L756.5,2247.9L756.8,2247.8L757.1,2247.8L757.4,2247.7L757.7,2247.7L758.0,2247.7L758.3,2247.7L758.6,2247.6L758.9,2247.6L759.2,2247.6L759.5,2247.6L759.8,2247.6L760.1,2247.6L760.4,2247.6L760.5,2247.6L760.7,2247.6L761.0,2247.6L761.3,2247.6L761.6,2247.6L761.9,2247.6L762.2,2247.6L762.5,2247.7L762.8,2247.7L763.1,2247.7L763.4,2247.8L763.7,2247.8L764.0,2247.9L764.3,2247.9L764.6,2248.0L764.9,2248.1L765.2,2248.1L765.5,2248.2L765.8,2248.3L766.1,2248.3L766.5,2248.4L766.8,2248.5L767.1,2248.6L767.4,2248.7L767.7,2248.8L768.0,2248.9L768.3,2249.0L768.6,2249.1L768.9,2249.2L769.2,2249.3L769.5,2249.4L769.7,2249.5L769.8,2249.5L770.1,2249.7L770.4,2249.9L770.7,2250.2L771.0,2250.6L771.3,2250.9L771.6,2251.3L771.9,2251.7L772.2,2252.0L772.5,2252.3L772.8,2252.5L773.1,2252.7L773.4,2252.7L773.5,2252.8L773.7,2252.7L774.0,2252.4L774.3,2252.0L774.6,2251.5L774.9,2250.9L775.2,2250.2L775.5,2249.6L775.8,2248.9L776.1,2248.3L776.4,2247.7L776.7,2247.3L777.0,2247.0L777.3,2246.9L777.3,2246.9L777.6,2246.9L777.9,2246.9L778.2,2247.0L778.5,2247.0L778.8,2247.0L779.2,2247.1L779.5,2247.1L779.8,2247.2L780.1,2247.3L780.4,2247.4L780.7,2247.4L781.0,2247.5L781.3,2247.6L781.6,2247.7L781.9,2247.7L782.2,2247.8L782.5,2247.9L782.8,2247.9L783.1,2248.0L783.4,2248.1L783.7,2248.1L784.0,2248.1L784.3,2248.2L784.6,2248.2L784.9,2248.2L785.0,2248.2L785.2,2248.2L785.5,2248.2L785.8,2248.1L786.1,2248.0L786.4,2247.9L786.7,2247.8L787.0,2247.6L787.3,2247.5L787.6,2247.3L787.9,2247.2L788.2,2247.0L788.5,2246.8L788.8,2246.6L789.1,2246.4L789.4,2246.2L789.4,2246.2L789.7,2246.0L790.0,2245.7L790.3,2245.4L790.6,2245.2L790.9,2245.0L791.0,2244.9L791.2,2244.9L791.5,2244.8L791.8,2244.7L792.2,2244.6L792.5,2244.5L792.8,2244.5L793.1,2244.4L793.4,2244.4L793.7,2244.4L794.0,2244.3L794.3,2244.3L794.6,2244.2L794.9,2244.2L795.2,2244.1L795.5,2244.0L795.8,2243.9L796.1,2243.8L796.3,2243.7L796.4,2243.6L796.7,2242.7L797.0,2241.0L797.3,2238.4L797.6,2235.2L797.9,2231.4L798.2,2227.1L798.5,2222.4L798.8,2217.6L799.1,2212.6L799.3,2208.6L799.4,2207.5L799.7,2200.0L800.0,2190.1L800.3,2179.2L800.6,2168.7L800.9,2160.2L801.2,2154.9L801.4,2153.9L801.5,2154.4L801.8,2158.6L802.1,2166.3L802.4,2176.3L802.7,2187.4L803.0,2198.2L803.3,2207.4L803.6,2213.9L803.9,2216.3L803.9,2216.3L804.2,2214.6L804.5,2210.1L804.9,2203.8L805.2,2196.7L805.5,2189.8L805.8,2184.1L806.1,2180.6L806.2,2179.9L806.4,2180.2L806.7,2183.3L807.0,2188.8L807.3,2196.0L807.6,2204.0L807.9,2211.8L808.2,2218.6L808.5,2223.5L808.5,2224.2L808.8,2226.6L809.1,2229.5L809.4,2232.4L809.7,2235.1L810.0,2237.6L810.3,2240.0L810.6,2242.1L810.9,2244.0L811.2,2245.5L811.5,2246.8L811.8,2247.6L812.1,2248.1L812.3,2248.2L812.4,2248.2L812.7,2248.0L813.0,2247.7L813.3,2247.2L813.6,2246.5L813.9,2245.6L814.2,2244.6L814.5,2243.5L814.8,2242.2L815.1,2240.7L815.4,2239.2L815.7,2237.5L816.0,2235.7L816.3,2233.7L816.6,2231.7L816.9,2230.0L816.9,2229.5L817.2,2225.1L817.5,2218.0L817.9,2209.0L818.2,2199.0L818.5,2188.5L818.8,2178.4L819.1,2169.4L819.4,2162.3L819.7,2157.8L819.9,2156.6L820.0,2156.7L820.3,2160.4L820.6,2168.2L820.9,2178.9L821.2,2191.0L821.5,2203.2L821.8,2213.9L822.1,2222.0L822.2,2224.2L822.4,2226.8L822.7,2231.2L823.0,2235.4L823.3,2239.1L823.6,2242.3L823.9,2244.7L824.2,2246.3L824.5,2246.9L824.5,2246.9L824.8,2246.8L825.1,2246.6L825.4,2246.3L825.7,2245.9L826.0,2245.3L826.3,2244.7L826.6,2244.0L826.9,2243.3L827.2,2242.5L827.5,2241.6L827.8,2240.7L828.1,2239.8L828.4,2239.1L828.4,2238.9L828.7,2237.7L829.0,2236.0L829.3,2234.0L829.6,2231.7L829.9,2229.4L830.2,2227.0L830.6,2224.7L830.9,2222.5L831.2,2220.6L831.5,2219.1L831.8,2218.1L832.1,2217.7L832.1,2217.7L832.4,2217.9L832.7,2219.1L833.0,2220.9L833.3,2223.3L833.6,2226.2L833.9,2229.5L834.2,2233.0L834.5,2236.6L834.8,2240.1L835.1,2243.5L835.4,2246.7L835.7,2249.4L836.0,2251.6L836.3,2253.2L836.6,2254.0L836.7,2254.1L836.9,2254.0L837.2,2253.7L837.5,2253.3L837.8,2252.6L838.1,2251.9L838.4,2251.0L838.7,2250.0L839.0,2248.9L839.3,2247.9L839.6,2246.8L839.9,2245.8L840.2,2244.8L840.5,2243.9L840.8,2243.2L841.1,2242.6L841.3,2242.3L841.4,2242.2L841.7,2241.9L842.0,2241.6L842.3,2241.4L842.6,2241.2L842.9,2241.0L843.3,2240.9L843.6,2240.7L843.9,2240.5L844.2,2240.2L844.5,2239.9L844.8,2239.6L845.1,2239.1L845.1,2239.1L845.4,2238.3L845.7,2236.7L846.0,2234.5L846.3,2231.6L846.6,2227.8L846.9,2223.3L847.2,2218.0L847.5,2211.9L847.8,2204.9L848.1,2197.0L848.2,2193.6L848.4,2185.1L848.7,2158.2L849.0,2118.9L849.3,2071.7L849.6,2020.6L849.7,2010.3L849.9,1958.9L850.2,1879.6L850.5,1807.5L850.5,1807.5L850.8,1741.5L851.1,1679.6L851.4,1646.1L851.5,1645.0L851.7,1667.9L852.0,1742.8L852.3,1837.5L852.6,1905.0L852.6,1919.9L852.9,2004.6L853.2,2085.1L853.5,2132.5L853.5,2132.5L853.8,2152.0L854.1,2168.2L854.4,2181.6L854.7,2192.4L855.0,2201.2L855.3,2208.1L855.6,2213.6L855.8,2216.3L855.9,2218.1L856.3,2222.2L856.6,2226.1L856.9,2229.7L857.2,2233.0L857.5,2235.9L857.8,2238.3L858.1,2240.2L858.4,2241.5L858.7,2242.2L858.9,2242.3L859.0,2242.3L859.3,2242.3L859.6,2242.2L859.9,2242.0L860.2,2241.8L860.5,2241.6L860.8,2241.3L861.1,2241.1L861.4,2240.9L861.7,2240.7L862.0,2240.5L862.3,2240.4L862.6,2240.4L862.6,2240.4L862.9,2240.5L863.2,2240.8L863.5,2241.2L863.8,2241.7L864.1,2242.4L864.4,2243.1L864.7,2243.8L865.0,2244.6L865.3,2245.4L865.6,2246.1L865.9,2246.7L866.2,2247.3L866.5,2247.8L866.8,2248.1L867.1,2248.2L867.2,2248.2L867.4,2248.2L867.7,2248.2L868.0,2248.2L868.3,2248.2L868.6,2248.2L869.0,2248.2L869.3,2248.2L869.6,2248.2L869.9,2248.2L870.2,2248.2L870.5,2248.2L870.8,2248.2L871.1,2248.2L871.4,2248.2L871.7,2248.2L872.0,2248.2L872.3,2248.2L872.6,2248.2L872.9,2248.2L873.2,2248.2L873.2,2248.2L873.5,2248.2L873.8,2248.2L874.1,2248.1L874.4,2248.1L874.7,2248.0L875.0,2248.0L875.3,2247.9L875.6,2247.8L875.9,2247.7L876.2,2247.6L876.5,2247.5L876.8,2247.3L877.1,2247.2L877.4,2247.1L877.7,2247.0L877.8,2246.9L878.0,2246.8L878.3,2246.7L878.6,2246.5L878.9,2246.3L879.2,2246.1L879.5,2245.9L879.8,2245.6L880.1,2245.3L880.4,2245.0L880.7,2244.7L881.0,2244.3L881.3,2244.0L881.6,2243.6L882.0,2243.1L882.3,2242.6L882.4,2242.3L882.6,2242.1L882.9,2241.5L883.2,2240.8L883.5,2240.0L883.8,2239.0L884.1,2237.9L884.4,2236.6L884.7,2235.2L885.0,2233.6L885.3,2231.8L885.6,2229.8L885.9,2227.6L886.2,2225.2L886.3,2224.2L886.5,2222.3L886.8,2217.9L887.1,2211.8L887.4,2204.1L887.7,2194.8L888.0,2183.9L888.3,2171.3L888.5,2163.1L888.6,2155.6L888.9,2124.8L889.2,2082.6L889.5,2036.8L889.8,1995.1L890.1,1970.0L890.1,1964.9L890.4,1938.8L890.7,1914.8L891.0,1898.1L891.3,1893.3L891.3,1893.6L891.6,1903.8L891.9,1925.3L892.2,1954.2L892.5,1986.5L892.8,2018.4L893.1,2040.8L893.1,2046.1L893.4,2074.8L893.7,2105.5L894.0,2135.1L894.3,2160.4L894.7,2178.0L894.7,2178.0L895.0,2190.3L895.3,2201.6L895.6,2211.7L895.9,2220.5L896.2,2227.9L896.5,2233.6L896.8,2237.6L896.9,2239.1L897.1,2239.8L897.4,2241.6L897.7,2243.2L898.0,2244.7L898.3,2246.0L898.6,2247.2L898.9,2248.2L899.2,2249.1L899.5,2249.8L899.8,2250.4L900.1,2250.9L900.4,2251.3L900.7,2251.4L900.7,2251.5L901.0,2251.6L901.3,2251.7L901.6,2251.8L901.9,2251.9L902.2,2252.0L902.5,2252.1L902.8,2252.2L903.1,2252.3L903.4,2252.3L903.7,2252.4L904.0,2252.5L904.3,2252.5L904.6,2252.6L904.9,2252.6L905.2,2252.7L905.5,2252.7L905.8,2252.7L906.1,2252.7L906.4,2252.7L906.7,2252.7L906.9,2252.8L907.0,2252.7L907.3,2252.7L907.7,2252.7L908.0,2252.7L908.3,2252.7L908.6,2252.6L908.9,2252.6L909.2,2252.5L909.5,2252.5L909.8,2252.4L910.1,2252.3L910.4,2252.2L910.7,2252.2L911.0,2252.1L911.3,2252.0L911.6,2251.9L911.9,2251.8L912.2,2251.7L912.5,2251.6L912.8,2251.5L912.9,2251.4L913.1,2251.4L913.4,2251.3L913.7,2251.2L914.0,2251.0L914.3,2250.9L914.6,2250.8L914.9,2250.6L915.2,2250.4L915.5,2250.2L915.8,2250.0L916.1,2249.7L916.4,2249.4L916.7,2249.1L917.0,2248.8L917.3,2248.4L917.6,2247.9L917.9,2247.4L918.2,2246.9L918.2,2246.9L918.5,2245.2L918.8,2241.6L919.1,2236.5L919.4,2230.4L919.7,2223.9L920.0,2217.5L920.4,2211.6L920.5,2208.6L920.7,2206.6L921.0,2201.3L921.3,2195.6L921.6,2189.7L921.9,2183.9L922.2,2178.4L922.5,2173.5L922.8,2169.4L923.1,2166.4L923.4,2164.6L923.6,2164.3L923.7,2164.4L924.0,2165.0L924.3,2166.3L924.6,2168.0L924.9,2170.2L925.2,2172.7L925.5,2175.5L925.8,2178.3L926.1,2181.3L926.4,2184.1L926.6,2185.8L926.7,2186.9L927.0,2190.1L927.3,2193.8L927.6,2197.7L927.9,2201.8L928.2,2206.1L928.5,2210.2L928.8,2214.2L929.1,2218.0L929.4,2221.3L929.7,2224.2L929.7,2224.2L930.0,2226.8L930.3,2229.5L930.6,2232.1L930.9,2234.5L931.2,2236.5L931.5,2238.1L931.8,2238.9L932.0,2239.1L932.1,2238.9L932.4,2237.1L932.7,2233.4L933.1,2228.0L933.4,2221.0L933.7,2212.8L934.0,2203.4L934.3,2193.1L934.6,2182.0L934.9,2170.3L935.0,2163.1L935.2,2156.8L935.5,2131.9L935.8,2100.8L936.1,2072.3L936.4,2055.0L936.5,2053.2L936.7,2054.4L937.0,2061.3L937.3,2072.5L937.6,2086.4L937.9,2101.2L938.1,2109.8L938.2,2115.9L938.5,2135.5L938.8,2158.3L939.1,2180.7L939.4,2199.1L939.6,2208.6L939.7,2210.1L940.0,2217.7L940.3,2224.4L940.6,2230.4L940.9,2235.3L941.2,2239.3L941.5,2242.1L941.8,2243.7L941.8,2243.7L942.1,2244.6L942.4,2245.4L942.7,2246.1L943.0,2246.8L943.3,2247.5L943.6,2248.1L943.9,2248.6L944.2,2249.1L944.5,2249.5L944.8,2249.9L945.1,2250.3L945.4,2250.6L945.7,2250.9L946.1,2251.2L946.4,2251.5L946.7,2251.7L947.0,2252.0L947.3,2252.2L947.6,2252.4L947.9,2252.7L948.0,2252.8L948.2,2252.9L948.5,2253.1L948.8,2253.4L949.1,2253.6L949.4,2253.8L949.7,2254.1L950.0,2254.3L950.3,2254.5L950.6,2254.7L950.9,2254.9L951.2,2255.1L951.5,2255.2L951.8,2255.4L952.1,2255.5L952.4,2255.7L952.7,2255.8L953.0,2255.9L953.3,2255.9L953.6,2256.0L953.9,2256.0L954.0,2256.0L954.2,2256.0L954.5,2255.8L954.8,2255.5L955.1,2255.1L955.4,2254.7L955.7,2254.4L956.0,2254.1L956.3,2254.1L956.3,2254.1L956.6,2254.1L956.9,2254.2L957.2,2254.3L957.5,2254.5L957.8,2254.7L958.1,2254.9L958.4,2255.2L958.8,2255.5L959.1,2255.7L959.4,2256.0L959.7,2256.3L960.0,2256.5L960.3,2256.8L960.6,2256.9L960.9,2257.1L961.2,2257.2L961.5,2257.3L961.7,2257.3L961.8,2257.3L962.1,2257.2L962.4,2257.1L962.7,2256.9L963.0,2256.6L963.3,2256.3L963.6,2255.8L963.9,2255.4L964.2,2254.8L964.5,2254.2L964.8,2253.4L965.1,2252.7L965.4,2251.8L965.5,2251.4L965.7,2250.1L966.0,2245.0L966.3,2237.2L966.6,2228.1L966.9,2218.8L967.2,2210.7L967.5,2204.9L967.8,2202.7L967.8,2202.7L968.1,2204.3L968.4,2208.6L968.7,2214.9L969.0,2222.6L969.3,2231.0L969.6,2239.3L969.9,2247.0L970.2,2253.4L970.5,2257.7L970.8,2259.2L970.8,2259.2L971.1,2259.1L971.4,2258.6L971.8,2257.9L972.1,2257.0L972.4,2255.9L972.7,2254.6L973.0,2253.2L973.3,2251.7L973.6,2250.1L973.9,2248.5L974.2,2246.9L974.5,2245.4L974.8,2243.8L975.1,2242.4L975.4,2241.2L975.7,2240.0L976.0,2239.1L976.3,2238.4L976.6,2238.0L976.9,2237.8L976.9,2237.8L977.2,2238.0L977.5,2238.6L977.8,2239.5L978.1,2240.6L978.4,2242.0L978.7,2243.6L979.0,2245.3L979.3,2247.1L979.6,2248.9L979.9,2250.7L980.2,2252.5L980.5,2254.1L980.8,2255.6L981.1,2256.9L981.4,2258.0L981.7,2258.8L982.0,2259.2L982.2,2259.2L982.3,2259.2L982.6,2259.2L982.9,2259.1L983.2,2258.9L983.5,2258.7L983.8,2258.5L984.1,2258.3L984.5,2258.0L984.8,2257.7L985.1,2257.3L985.4,2257.0L985.7,2256.6L986.0,2256.3L986.3,2256.0L986.6,2255.6L986.9,2255.3L987.2,2255.0L987.5,2254.8L987.8,2254.6L988.1,2254.4L988.4,2254.2L988.7,2254.1L989.0,2254.1L989.1,2254.1L989.3,2254.1L989.6,2254.1L989.9,2254.1L990.2,2254.2L990.5,2254.2L990.8,2254.3L991.1,2254.4L991.4,2254.5L991.7,2254.6L992.0,2254.7L992.3,2254.8L992.6,2254.9L992.9,2255.0L993.2,2255.1L993.5,2255.3L993.8,2255.4L994.1,2255.5L994.4,2255.6L994.7,2255.7L995.0,2255.8L995.3,2255.8L995.6,2255.9L995.9,2255.9L996.2,2256.0L996.5,2256.0L996.7,2256.0L996.8,2256.0L997.1,2255.9L997.5,2255.7L997.8,2255.3L998.1,2254.9L998.4,2254.3L998.7,2253.7L999.0,2253.0L999.3,2252.1L999.6,2251.3L999.9,2250.3L1000.2,2249.3L1000.5,2248.2L1000.5,2248.2L1000.8,2246.2L1001.1,2242.8L1001.4,2238.3L1001.7,2233.0L1002.0,2227.4L1002.3,2221.8L1002.6,2216.7L1002.9,2212.3L1003.2,2209.1L1003.5,2207.4L1003.6,2207.2L1003.8,2207.4L1004.1,2208.5L1004.4,2210.3L1004.7,2212.8L1005.0,2215.7L1005.3,2218.9L1005.6,2222.2L1005.9,2225.4L1006.2,2228.4L1006.5,2231.0L1006.8,2233.0L1007.1,2234.2L1007.4,2234.6L1007.4,2234.5L1007.7,2234.5L1008.0,2234.4L1008.3,2234.3L1008.6,2234.2L1008.9,2234.1L1009.2,2233.9L1009.5,2233.8L1009.8,2233.6L1010.2,2233.5L1010.5,2233.4L1010.8,2233.3L1011.1,2233.3L1011.2,2233.2L1011.4,2233.3L1011.7,2233.8L1012.0,2234.8L1012.3,2236.2L1012.6,2238.0L1012.9,2240.0L1013.2,2242.2L1013.5,2244.5L1013.8,2246.9L1014.1,2249.1L1014.4,2251.3L1014.7,2253.2L1015.0,2254.9L1015.3,2256.2L1015.6,2257.0L1015.8,2257.3L1015.9,2257.3L1016.2,2257.5L1016.5,2257.6L1016.8,2257.7L1017.1,2257.9L1017.4,2258.0L1017.7,2258.1L1018.0,2258.2L1018.3,2258.3L1018.6,2258.4L1018.9,2258.5L1019.2,2258.6L1019.5,2258.7L1019.8,2258.7L1020.1,2258.8L1020.4,2258.9L1020.7,2258.9L1021.0,2259.0L1021.3,2259.0L1021.6,2259.1L1021.9,2259.1L1022.2,2259.2L1022.5,2259.2L1022.9,2259.2L1023.2,2259.2L1023.5,2259.2L1023.8,2259.2L1024.1,2259.2L1024.2,2259.2L1024.4,2259.2L1024.7,2259.2L1025.0,2259.2L1025.3,2259.2L1025.6,2259.1L1025.9,2259.0L1026.2,2258.9L1026.5,2258.8L1026.8,2258.6L1027.1,2258.5L1027.4,2258.3L1027.7,2258.1L1028.0,2257.9L1028.3,2257.6L1028.6,2257.3L1028.9,2257.0L1029.2,2256.7L1029.5,2256.4L1029.8,2256.0L1030.1,2255.6L1030.4,2255.1L1030.7,2254.7L1031.0,2254.2L1031.1,2254.1L1031.3,2252.8L1031.6,2249.1L1031.9,2243.5L1032.2,2236.5L1032.5,2228.5L1032.8,2220.1L1033.1,2211.8L1033.3,2208.6L1033.4,2203.0L1033.7,2191.1L1034.0,2177.3L1034.3,2163.3L1034.6,2150.8L1034.9,2141.6L1035.2,2137.2L1035.3,2137.1L1035.5,2139.7L1035.9,2149.3L1036.2,2163.3L1036.5,2179.3L1036.8,2194.6L1037.1,2206.7L1037.1,2208.6L1037.4,2215.4L1037.7,2224.2L1038.0,2232.7L1038.3,2240.6L1038.6,2247.4L1038.9,2252.7L1039.2,2256.2L1039.4,2257.3L1039.5,2257.4L1039.8,2257.7L1040.1,2258.1L1040.4,2258.4L1040.7,2258.6L1041.0,2258.9L1041.3,2259.1L1041.6,2259.4L1041.9,2259.5L1042.2,2259.7L1042.5,2259.9L1042.8,2260.0L1043.1,2260.1L1043.4,2260.2L1043.7,2260.3L1044.0,2260.4L1044.3,2260.5L1044.6,2260.5L1044.9,2260.5L1045.2,2260.5L1045.5,2260.6L1045.5,2260.5L1045.8,2260.5L1046.1,2260.3L1046.4,2260.1L1046.7,2259.8L1047.0,2259.5L1047.3,2259.0L1047.6,2258.5L1047.9,2258.0L1048.2,2257.4L1048.6,2256.7L1048.9,2256.0L1049.2,2255.3L1049.5,2254.5L1049.8,2253.6L1050.1,2252.8L1050.1,2252.7L1050.4,2251.4L1050.7,2249.1L1051.0,2246.3L1051.3,2243.0L1051.6,2239.6L1051.9,2236.3L1052.2,2233.3L1052.5,2230.9L1052.8,2229.3L1053.1,2228.7L1053.1,2228.7L1053.4,2229.1L1053.7,2230.3L1054.0,2232.0L1054.3,2234.3L1054.6,2236.8L1054.9,2239.6L1055.2,2242.4L1055.5,2245.1L1055.8,2247.6L1056.1,2249.8L1056.4,2251.5L1056.7,2252.5L1057.0,2252.8L1057.0,2252.7L1057.3,2252.4L1057.6,2251.7L1057.9,2250.7L1058.2,2249.3L1058.5,2247.8L1058.8,2246.1L1059.1,2244.4L1059.4,2242.6L1059.7,2240.8L1060.0,2239.2L1060.3,2237.7L1060.6,2236.4L1060.9,2235.4L1061.2,2234.8L1061.6,2234.6L1061.6,2234.6L1061.9,2234.8L1062.2,2235.5L1062.5,2236.6L1062.8,2238.0L1063.1,2239.7L1063.4,2241.6L1063.7,2243.6L1064.0,2245.8L1064.3,2248.0L1064.6,2250.2L1064.9,2252.3L1065.2,2254.3L1065.5,2256.2L1065.8,2257.7L1066.1,2259.0L1066.4,2259.9L1066.7,2260.5L1066.9,2260.6L1067.0,2260.5L1067.3,2260.5L1067.6,2260.5L1067.9,2260.5L1068.2,2260.4L1068.5,2260.4L1068.8,2260.3L1069.1,2260.3L1069.4,2260.2L1069.7,2260.1L1070.0,2260.1L1070.3,2260.0L1070.6,2259.9L1070.9,2259.8L1071.2,2259.8L1071.5,2259.7L1071.8,2259.6L1072.1,2259.5L1072.4,2259.5L1072.7,2259.4L1073.0,2259.4L1073.3,2259.3L1073.6,2259.3L1073.9,2259.3L1074.3,2259.3L1074.5,2259.2L1074.6,2259.3L1074.9,2259.3L1075.2,2259.3L1075.5,2259.5L1075.8,2259.6L1076.1,2259.8L1076.4,2259.9L1076.7,2260.2L1077.0,2260.4L1077.3,2260.6L1077.6,2260.9L1077.9,2261.1L1078.2,2261.4L1078.5,2261.7L1078.8,2262.0L1079.1,2262.2L1079.4,2262.5L1079.7,2262.7L1080.0,2262.9L1080.3,2263.1L1080.6,2263.3L1080.9,2263.5L1081.2,2263.6L1081.5,2263.7L1081.8,2263.8L1082.1,2263.8L1082.1,2263.8L1082.4,2263.8L1082.7,2263.7L1083.0,2263.7L1083.3,2263.6L1083.6,2263.5L1083.9,2263.3L1084.2,2263.2L1084.5,2263.0L1084.8,2262.9L1085.1,2262.7L1085.4,2262.5L1085.7,2262.3L1086.0,2262.1L1086.3,2261.9L1086.6,2261.7L1086.9,2261.5L1087.3,2261.4L1087.6,2261.2L1087.9,2261.0L1088.2,2260.9L1088.5,2260.8L1088.8,2260.7L1089.1,2260.6L1089.4,2260.6L1089.7,2260.6L1089.7,2260.6L1090.0,2260.6L1090.3,2260.6L1090.6,2260.7L1090.9,2260.7L1091.2,2260.9L1091.5,2261.0L1091.8,2261.1L1092.1,2261.3L1092.4,2261.5L1092.7,2261.6L1093.0,2261.8L1093.3,2262.0L1093.6,2262.2L1093.9,2262.4L1094.2,2262.6L1094.5,2262.8L1094.8,2263.0L1095.1,2263.1L1095.4,2263.3L1095.7,2263.4L1096.0,2263.5L1096.3,2263.6L1096.6,2263.7L1096.9,2263.8L1097.2,2263.8L1097.4,2263.8L1097.5,2263.8L1097.8,2263.7L1098.1,2263.4L1098.4,2263.1L1098.7,2262.7L1099.0,2262.1L1099.3,2261.5L1099.6,2260.8L1100.0,2260.1L1100.3,2259.2L1100.6,2258.4L1100.9,2257.4L1101.2,2256.4L1101.5,2255.4L1101.8,2254.3L1101.8,2254.1L1102.1,2253.0L1102.4,2251.2L1102.7,2249.0L1103.0,2246.4L1103.3,2243.5L1103.6,2240.3L1103.9,2236.9L1104.2,2233.4L1104.5,2229.9L1104.8,2226.3L1105.0,2224.2L1105.1,2222.6L1105.4,2217.8L1105.7,2212.2L1106.0,2206.2L1106.3,2200.5L1106.6,2195.6L1106.9,2192.0L1107.2,2190.4L1107.3,2190.3L1107.5,2190.7L1107.8,2192.0L1108.1,2194.1L1108.4,2196.9L1108.7,2200.1L1109.0,2203.5L1109.3,2207.1L1109.4,2208.6L1109.6,2211.2L1109.9,2217.3L1110.2,2224.9L1110.5,2233.0L1110.8,2240.9L1111.1,2247.6L1111.4,2252.3L1111.7,2254.1L1111.7,2254.1L1112.0,2253.2L1112.3,2250.8L1112.7,2247.2L1113.0,2242.6L1113.3,2237.3L1113.6,2231.6L1113.9,2225.8L1114.2,2220.1L1114.5,2214.8L1114.8,2210.1L1114.9,2208.6L1115.1,2206.2L1115.4,2202.0L1115.7,2197.6L1116.0,2193.2L1116.3,2188.9L1116.6,2184.9L1116.9,2181.4L1117.2,2178.6L1117.5,2176.5L1117.8,2175.5L1117.9,2175.4L1118.1,2175.6L1118.4,2176.7L1118.7,2178.7L1119.0,2181.3L1119.3,2184.4L1119.6,2187.7L1119.9,2191.1L1120.2,2194.4L1120.5,2197.4L1120.8,2199.9L1120.9,2200.8L1121.1,2201.9L1121.4,2203.5L1121.7,2205.0L1122.0,2206.4L1122.3,2207.7L1122.6,2209.0L1122.9,2210.4L1123.2,2211.9L1123.5,2213.6L1123.8,2215.5L1124.0,2216.3L1124.1,2217.9L1124.4,2221.5L1124.7,2225.8L1125.0,2230.5L1125.3,2235.0L1125.7,2238.7L1126.0,2241.4L1126.3,2242.3L1126.3,2242.3L1126.6,2242.2L1126.9,2241.9L1127.2,2241.4L1127.5,2240.7L1127.8,2240.1L1128.1,2239.4L1128.4,2238.8L1128.7,2238.3L1129.0,2237.9L1129.3,2237.8L1129.3,2237.8L1129.6,2237.8L1129.9,2238.0L1130.2,2238.2L1130.5,2238.5L1130.8,2238.8L1131.1,2239.3L1131.4,2239.8L1131.7,2240.3L1132.0,2240.9L1132.3,2241.6L1132.6,2242.3L1132.9,2243.0L1133.2,2243.7L1133.2,2243.8L1133.5,2245.3L1133.8,2247.5L1134.1,2250.3L1134.4,2253.4L1134.7,2256.6L1135.0,2259.7L1135.3,2262.5L1135.6,2264.7L1135.9,2266.0L1136.2,2266.4L1136.2,2266.4L1136.5,2266.4L1136.8,2266.4L1137.1,2266.4L1137.4,2266.3L1137.7,2266.3L1138.0,2266.2L1138.4,2266.2L1138.7,2266.1L1139.0,2266.0L1139.3,2265.9L1139.6,2265.8L1139.9,2265.7L1140.2,2265.6L1140.5,2265.5L1140.8,2265.3L1141.1,2265.2L1141.4,2265.0L1141.7,2264.8L1142.0,2264.6L1142.3,2264.4L1142.6,2264.2L1142.9,2263.9L1143.1,2263.8L1143.2,2263.4L1143.5,2260.1L1143.8,2254.2L1144.1,2246.1L1144.4,2236.8L1144.7,2226.7L1145.0,2216.7L1145.3,2207.4L1145.6,2199.5L1145.9,2193.7L1146.2,2190.6L1146.3,2190.3L1146.5,2190.9L1146.8,2194.1L1147.1,2199.5L1147.4,2206.7L1147.7,2215.2L1148.0,2224.3L1148.3,2233.4L1148.6,2242.2L1148.9,2250.0L1149.2,2256.2L1149.5,2260.3L1149.8,2261.8L1149.8,2261.8L1150.1,2261.8L1150.4,2261.8L1150.7,2261.8L1151.0,2261.8L1151.4,2261.7L1151.7,2261.6L1152.0,2261.6L1152.3,2261.5L1152.6,2261.4L1152.9,2261.3L1153.2,2261.2L1153.5,2261.0L1153.8,2260.9L1154.1,2260.8L1154.4,2260.6L1154.7,2260.5L1155.0,2260.3L1155.3,2260.1L1155.6,2260.0L1155.9,2259.8L1156.2,2259.6L1156.5,2259.4L1156.7,2259.2L1156.8,2259.2L1157.1,2259.0L1157.4,2258.7L1157.7,2258.4L1158.0,2258.1L1158.3,2257.7L1158.6,2257.3L1158.9,2256.9L1159.2,2256.4L1159.5,2255.8L1159.8,2255.2L1160.1,2254.6L1160.4,2253.9L1160.7,2253.1L1161.0,2252.3L1161.3,2251.4L1161.3,2251.4L1161.6,2250.0L1161.9,2247.6L1162.2,2244.4L1162.5,2240.7L1162.8,2236.6L1163.1,2232.4L1163.4,2228.2L1163.7,2224.2L1164.1,2220.6L1164.4,2217.7L1164.7,2215.6L1165.0,2214.5L1165.1,2214.4L1165.3,2214.6L1165.6,2215.7L1165.9,2217.7L1166.2,2220.5L1166.5,2223.8L1166.8,2227.6L1167.1,2231.6L1167.4,2235.9L1167.7,2240.1L1168.0,2244.1L1168.3,2247.9L1168.6,2251.2L1168.9,2254.0L1169.2,2256.0L1169.5,2257.1L1169.7,2257.3L1169.8,2257.3L1170.1,2257.3L1170.4,2257.3L1170.7,2257.2L1171.0,2257.1L1171.3,2257.1L1171.6,2257.0L1171.9,2256.9L1172.2,2256.7L1172.5,2256.6L1172.8,2256.4L1173.1,2256.3L1173.4,2256.1L1173.7,2255.9L1174.0,2255.7L1174.3,2255.4L1174.6,2255.2L1174.9,2254.9L1175.2,2254.6L1175.5,2254.4L1175.8,2254.1L1175.8,2254.0L1176.1,2253.3L1176.4,2251.8L1176.7,2249.5L1177.1,2246.7L1177.4,2243.4L1177.7,2239.8L1178.0,2235.8L1178.3,2231.7L1178.6,2227.5L1178.9,2223.4L1179.2,2219.4L1179.5,2215.6L1179.8,2212.2L1180.1,2209.2L1180.4,2206.9L1180.7,2205.1L1181.0,2204.2L1181.2,2204.0L1181.3,2204.0L1181.6,2204.5L1181.9,2205.5L1182.2,2206.9L1182.5,2208.6L1182.8,2210.6L1183.1,2212.8L1183.4,2215.1L1183.7,2217.5L1184.0,2219.9L1184.3,2222.2L1184.6,2224.4L1184.9,2226.4L1185.2,2228.2L1185.5,2229.6L1185.6,2230.0L1185.8,2230.6L1186.1,2231.5L1186.4,2232.2L1186.7,2232.9L1187.0,2233.6L1187.3,2234.2L1187.6,2234.8L1187.9,2235.5L1188.2,2236.2L1188.5,2237.1L1188.8,2237.8L1188.8,2238.0L1189.1,2239.2L1189.4,2240.7L1189.8,2242.5L1190.1,2244.4L1190.4,2246.4L1190.7,2248.5L1191.0,2250.6L1191.3,2252.6L1191.6,2254.5L1191.9,2256.3L1192.2,2257.8L1192.5,2259.1L1192.8,2260.0L1193.1,2260.5L1193.3,2260.6L1193.4,2260.5L1193.7,2260.4L1194.0,2260.2L1194.3,2259.9L1194.6,2259.5L1194.9,2259.0L1195.2,2258.4L1195.5,2257.8L1195.8,2257.1L1196.1,2256.4L1196.4,2255.6L1196.7,2254.7L1197.0,2253.9L1197.3,2253.0L1197.6,2252.2L1197.9,2251.4L1197.9,2251.3L1198.2,2250.4L1198.5,2249.4L1198.8,2248.3L1199.1,2247.2L1199.4,2246.0L1199.7,2244.6L1200.0,2243.2L1200.3,2241.7L1200.6,2240.0L1200.9,2238.2L1201.2,2236.2L1201.5,2234.1L1201.8,2231.8L1202.1,2229.4L1202.5,2226.8L1202.5,2226.7L1202.8,2222.8L1203.1,2216.6L1203.4,2208.7L1203.7,2199.4L1204.0,2189.4L1204.3,2178.8L1204.6,2168.4L1204.9,2158.4L1205.2,2149.3L1205.5,2141.6L1205.8,2135.7L1206.1,2132.1L1206.3,2131.2L1206.4,2131.3L1206.7,2135.2L1207.0,2143.8L1207.3,2155.8L1207.6,2170.0L1207.9,2185.4L1208.2,2200.5L1208.5,2214.4L1208.8,2225.7L1209.1,2233.3L1209.3,2235.8L1209.4,2236.0L1209.7,2237.0L1210.0,2237.9L1210.3,2238.7L1210.6,2239.4L1210.9,2240.1L1211.2,2240.7L1211.5,2241.2L1211.8,2241.7L1212.1,2242.2L1212.4,2242.6L1212.7,2243.0L1213.0,2243.3L1213.3,2243.6L1213.6,2244.0L1213.9,2244.2L1214.2,2244.5L1214.5,2244.8L1214.8,2245.0L1215.1,2245.3L1215.5,2245.6L1215.8,2245.9L1216.1,2246.1L1216.4,2246.5L1216.7,2246.8L1217.0,2247.2L1217.3,2247.6L1217.6,2248.0L1217.7,2248.2L1217.9,2248.5L1218.2,2249.0L1218.5,2249.6L1218.8,2250.1L1219.1,2250.7L1219.4,2251.4L1219.7,2252.0L1220.0,2252.7L1220.3,2253.4L1220.6,2254.0L1220.9,2254.7L1221.2,2255.4L1221.5,2256.1L1221.8,2256.8L1222.1,2257.4L1222.4,2258.1L1222.7,2258.7L1223.0,2259.3L1223.3,2259.9L1223.6,2260.5L1223.9,2261.0L1224.2,2261.5L1224.5,2262.0L1224.8,2262.4L1225.1,2262.7L1225.4,2263.1L1225.7,2263.3L1226.0,2263.5L1226.3,2263.7L1226.6,2263.8L1226.9,2263.8L1226.9,2263.8L1227.2,2263.7L1227.5,2263.4L1227.8,2262.9L1228.2,2262.3L1228.5,2261.6L1228.8,2260.8L1229.1,2259.8L1229.4,2258.8L1229.7,2257.6L1230.0,2256.4L1230.3,2255.1L1230.6,2253.7L1230.9,2252.3L1231.2,2250.9L1231.5,2249.4L1231.8,2247.9L1232.1,2246.4L1232.4,2245.0L1232.7,2243.5L1232.9,2242.3L1233.0,2242.1L1233.3,2240.3L1233.6,2238.3L1233.9,2235.9L1234.2,2233.4L1234.5,2230.7L1234.8,2228.0L1235.1,2225.4L1235.4,2222.8L1235.7,2220.5L1236.0,2218.4L1236.3,2216.7L1236.6,2215.4L1236.9,2214.6L1237.2,2214.4L1237.2,2214.4L1237.5,2215.3L1237.8,2217.4L1238.1,2220.4L1238.4,2224.1L1238.7,2228.4L1239.0,2233.0L1239.3,2237.7L1239.6,2242.4L1239.9,2246.7L1240.2,2250.6L1240.5,2253.8L1240.8,2256.0L1241.2,2257.2L1241.3,2257.3L1241.5,2257.3L1241.8,2257.3L1242.1,2257.2L1242.4,2257.2L1242.7,2257.1L1243.0,2257.0L1243.3,2256.8L1243.6,2256.7L1243.9,2256.5L1244.2,2256.4L1244.5,2256.2L1244.8,2256.0L1245.1,2255.7L1245.4,2255.5L1245.7,2255.3L1246.0,2255.0L1246.3,2254.7L1246.6,2254.4L1246.9,2254.1L1247.2,2253.8L1247.5,2253.5L1247.8,2253.2L1248.1,2252.8L1248.2,2252.8L1248.4,2252.4L1248.7,2251.7L1249.0,2250.8L1249.3,2249.8L1249.6,2248.6L1249.9,2247.2L1250.2,2245.8L1250.5,2244.4L1250.8,2242.9L1251.1,2241.4L1251.4,2240.0L1251.7,2238.7L1252.0,2237.5L1252.3,2236.5L1252.6,2235.7L1252.9,2235.0L1253.2,2234.6L1253.5,2234.6L1253.5,2234.6L1253.9,2234.9L1254.2,2235.6L1254.5,2236.7L1254.8,2238.0L1255.1,2239.5L1255.4,2241.1L1255.7,2242.6L1256.0,2244.2L1256.3,2245.6L1256.6,2246.7L1256.9,2247.6L1257.2,2248.1L1257.4,2248.2L1257.5,2248.2L1257.8,2248.0L1258.1,2247.6L1258.4,2247.0L1258.7,2246.3L1259.0,2245.4L1259.3,2244.6L1259.6,2243.6L1259.9,2242.7L1260.2,2241.9L1260.5,2241.0L1260.8,2240.3L1261.1,2239.7L1261.4,2239.3L1261.7,2239.1L1261.8,2239.1L1262.0,2239.2L1262.3,2239.6L1262.6,2240.3L1262.9,2241.2L1263.2,2242.4L1263.5,2243.7L1263.8,2245.1L1264.1,2246.6L1264.4,2248.0L1264.7,2249.5L1265.0,2250.8L1265.3,2251.9L1265.6,2252.9L1265.9,2253.6L1266.2,2254.0L1266.4,2254.1L1266.6,2254.0L1266.9,2253.6L1267.2,2252.9L1267.5,2251.8L1267.8,2250.5L1268.1,2248.9L1268.4,2247.2L1268.7,2245.4L1269.0,2243.5L1269.3,2241.5L1269.6,2239.6L1269.9,2237.8L1270.2,2236.1L1270.5,2234.6L1270.8,2233.3L1271.1,2232.3L1271.4,2231.6L1271.7,2231.3L1271.8,2231.3L1272.0,2231.8L1272.3,2233.7L1272.6,2236.6L1272.9,2240.1L1273.2,2243.8L1273.5,2247.2L1273.8,2250.0L1274.0,2251.4L1274.1,2251.7L1274.4,2253.0L1274.7,2254.3L1275.0,2255.5L1275.3,2256.7L1275.6,2257.8L1275.9,2258.8L1276.2,2259.8L1276.5,2260.7L1276.8,2261.4L1277.1,2262.1L1277.4,2262.7L1277.7,2263.2L1278.0,2263.5L1278.3,2263.7L1278.6,2263.8L1278.6,2263.8L1278.9,2263.8L1279.2,2263.7L1279.6,2263.5L1279.9,2263.4L1280.2,2263.1L1280.5,2262.9L1280.8,2262.6L1281.1,2262.3L1281.4,2261.9L1281.7,2261.5L1282.0,2261.2L1282.3,2260.8L1282.6,2260.4L1282.9,2260.0L1283.2,2259.6L1283.5,2259.3L1283.8,2258.9L1284.1,2258.6L1284.4,2258.3L1284.7,2258.0L1285.0,2257.8L1285.3,2257.6L1285.6,2257.4L1285.9,2257.3L1286.2,2257.3L1286.3,2257.3L1286.5,2257.3L1286.8,2257.3L1287.1,2257.3L1287.4,2257.3L1287.7,2257.3L1288.0,2257.3L1288.3,2257.3L1288.6,2257.3L1288.9,2257.3L1289.2,2257.3L1289.5,2257.3L1289.8,2257.3L1290.1,2257.3L1290.4,2257.3L1290.7,2257.3L1290.9,2257.3L1291.0,2257.3L1291.3,2257.4L1291.6,2257.6L1291.9,2257.9L1292.3,2258.2L1292.6,2258.5L1292.9,2259.0L1293.2,2259.4L1293.5,2259.9L1293.8,2260.4L1294.1,2260.8L1294.4,2261.3L1294.7,2261.8L1295.0,2262.2L1295.3,2262.6L1295.6,2263.0L1295.9,2263.3L1296.2,2263.5L1296.5,2263.7L1296.8,2263.8L1296.9,2263.8L1297.1,2263.8L1297.4,2263.6L1297.7,2263.2L1298.0,2262.7L1298.3,2262.1L1298.6,2261.3L1298.9,2260.4L1299.2,2259.4L1299.5,2258.4L1299.8,2257.2L1300.1,2256.0L1300.4,2254.7L1300.7,2253.4L1301.0,2252.0L1301.3,2250.7L1301.6,2249.3L1301.9,2247.9L1302.2,2246.5L1302.5,2245.2L1302.8,2243.9L1303.1,2242.7L1303.4,2241.5L1303.7,2240.4L1304.0,2239.4L1304.3,2238.5L1304.6,2237.7L1304.9,2237.1L1305.3,2236.5L1305.6,2236.1L1305.9,2235.9L1306.1,2235.8L1306.2,2235.9L1306.5,2236.2L1306.8,2236.9L1307.1,2237.9L1307.4,2239.2L1307.7,2240.8L1308.0,2242.5L1308.3,2244.4L1308.6,2246.4L1308.9,2248.3L1309.2,2250.3L1309.5,2252.2L1309.8,2254.0L1310.1,2255.6L1310.4,2257.0L1310.7,2258.1L1311.0,2258.8L1311.3,2259.2L1311.4,2259.2L1311.6,2259.1L1311.9,2258.1L1312.2,2256.3L1312.5,2253.9L1312.8,2251.2L1313.1,2248.1L1313.4,2245.0L1313.7,2241.9L1314.0,2239.1L1314.3,2236.6L1314.6,2234.7L1314.9,2233.6L1315.2,2233.2L1315.2,2233.3L1315.5,2234.0L1315.8,2235.7L1316.1,2238.2L1316.4,2241.3L1316.7,2244.7L1317.0,2248.4L1317.3,2252.1L1317.6,2255.7L1318.0,2259.0L1318.3,2261.7L1318.6,2263.7L1318.9,2264.9L1319.0,2265.1L1319.2,2265.1L1319.5,2265.0L1319.8,2264.9L1320.1,2264.7L1320.4,2264.4L1320.7,2264.1L1321.0,2263.7L1321.3,2263.4L1321.6,2263.0L1321.9,2262.6L1322.2,2262.2L1322.5,2261.8L1322.8,2261.5L1323.1,2261.2L1323.4,2260.9L1323.7,2260.7L1324.0,2260.6L1324.3,2260.6L1324.4,2260.6L1324.6,2260.6L1324.9,2260.8L1325.2,2261.1L1325.5,2261.5L1325.8,2262.0L1326.1,2262.5L1326.4,2263.1L1326.7,2263.8L1327.0,2264.5L1327.3,2265.1L1327.6,2265.8L1327.9,2266.4L1328.2,2266.9L1328.5,2267.4L1328.8,2267.8L1329.1,2268.1L1329.4,2268.3L1329.7,2268.3L1329.7,2268.3L1330.0,2268.1L1330.3,2267.6L1330.6,2266.9L1331.0,2265.9L1331.3,2264.7L1331.6,2263.4L1331.9,2262.1L1332.2,2260.6L1332.5,2259.1L1332.8,2257.6L1333.1,2256.2L1333.4,2254.8L1333.6,2254.1L1333.7,2253.5L1334.0,2252.0L1334.3,2250.4L1334.6,2248.6L1334.9,2246.7L1335.2,2245.0L1335.5,2243.4L1335.8,2242.1L1336.1,2241.1L1336.4,2240.5L1336.6,2240.4L1336.7,2240.4L1337.0,2240.9L1337.3,2241.7L1337.6,2243.0L1337.9,2244.5L1338.2,2246.2L1338.5,2248.1L1338.8,2250.1L1339.1,2252.1L1339.4,2254.0L1339.7,2255.8L1340.0,2257.4L1340.3,2258.8L1340.6,2259.8L1340.9,2260.4L1341.2,2260.6L1341.2,2260.5L1341.5,2260.5L1341.8,2260.4L1342.1,2260.2L1342.4,2259.9L1342.7,2259.6L1343.0,2259.3L1343.3,2259.0L1343.7,2258.7L1344.0,2258.3L1344.3,2258.0L1344.6,2257.8L1344.9,2257.6L1345.2,2257.4L1345.5,2257.3L1345.6,2257.3L1345.8,2257.3L1346.1,2257.4L1346.4,2257.5L1346.7,2257.8L1347.0,2258.1L1347.3,2258.4L1347.6,2258.7L1347.9,2259.1L1348.2,2259.5L1348.5,2259.9L1348.8,2260.3L1349.1,2260.7L1349.4,2261.1L1349.7,2261.4L1350.0,2261.7L1350.2,2261.8L1350.3,2261.9L1350.6,2262.1L1350.9,2262.3L1351.2,2262.5L1351.5,2262.6L1351.8,2262.8L1352.1,2263.0L1352.4,2263.2L1352.7,2263.4L1353.0,2263.6L1353.3,2263.8L1353.6,2263.9L1353.9,2264.1L1354.2,2264.3L1354.5,2264.4L1354.8,2264.6L1355.1,2264.8L1355.4,2264.9L1355.7,2265.1L1356.0,2265.2L1356.4,2265.3L1356.7,2265.5L1357.0,2265.6L1357.3,2265.7L1357.6,2265.8L1357.9,2265.9L1358.2,2266.0L1358.5,2266.1L1358.8,2266.1L1359.1,2266.2L1359.4,2266.3L1359.7,2266.3L1360.0,2266.4L1360.3,2266.4L1360.6,2266.4L1360.9,2266.4L1360.9,2266.4L1361.2,2266.4L1361.5,2266.3L1361.8,2266.2L1362.1,2266.0L1362.4,2265.8L1362.7,2265.6L1363.0,2265.3L1363.3,2265.0L1363.6,2264.7L1363.9,2264.3L1364.2,2263.9L1364.5,2263.5L1364.8,2263.1L1365.1,2262.6L1365.4,2262.2L1365.7,2261.7L1366.0,2261.2L1366.3,2260.7L1366.6,2260.2L1366.9,2259.7L1367.2,2259.2L1367.5,2258.7L1367.8,2258.2L1368.1,2257.7L1368.4,2257.2L1368.7,2256.7L1369.0,2256.3L1369.4,2255.8L1369.7,2255.4L1370.0,2255.0L1370.3,2254.6L1370.6,2254.3L1370.9,2254.0L1371.2,2253.7L1371.5,2253.4L1371.8,2253.2L1372.1,2253.0L1372.4,2252.9L1372.7,2252.8L1373.0,2252.8L1373.1,2252.8L1373.3,2252.8L1373.6,2252.8L1373.9,2252.8L1374.2,2252.9L1374.5,2253.0L1374.8,2253.1L1375.1,2253.2L1375.4,2253.3L1375.7,2253.5L1376.0,2253.6L1376.3,2253.8L1376.6,2254.0L1376.9,2254.2L1377.2,2254.4L1377.5,2254.6L1377.8,2254.8L1378.1,2255.0L1378.4,2255.3L1378.7,2255.5L1379.0,2255.7L1379.3,2256.0L1379.6,2256.2L1379.9,2256.5L1380.2,2256.7L1380.5,2257.0L1380.8,2257.2L1381.1,2257.4L1381.4,2257.7L1381.7,2257.9L1382.1,2258.1L1382.4,2258.4L1382.7,2258.6L1383.0,2258.8L1383.3,2259.0L1383.6,2259.1L1383.7,2259.2L1383.9,2259.3L1384.2,2259.5L1384.5,2259.7L1384.8,2259.9L1385.1,2260.0L1385.4,2260.2L1385.7,2260.4L1386.0,2260.6L1386.3,2260.8L1386.6,2261.0L1386.9,2261.2L1387.2,2261.4L1387.5,2261.6L1387.8,2261.8L1388.1,2262.0L1388.4,2262.2L1388.7,2262.4L1389.0,2262.6L1389.3,2262.7L1389.6,2262.9L1389.9,2263.1L1390.2,2263.3L1390.5,2263.5L1390.8,2263.6L1391.1,2263.8L1391.4,2263.9L1391.7,2264.1L1392.0,2264.2L1392.3,2264.3L1392.6,2264.5L1392.9,2264.6L1393.2,2264.7L1393.5,2264.8L1393.8,2264.9L1394.1,2264.9L1394.4,2265.0L1394.7,2265.1L1395.0,2265.1L1395.1,2265.1L1395.4,2265.1L1395.7,2265.2L1396.0,2265.2L1396.3,2265.3L1396.6,2265.3L1396.9,2265.3L1397.2,2265.4L1397.5,2265.4L1397.8,2265.4L1398.1,2265.5L1398.4,2265.5L1398.7,2265.5L1399.0,2265.5L1399.3,2265.6L1399.6,2265.6L1399.9,2265.6L1400.2,2265.6L1400.5,2265.6L1400.8,2265.7L1401.1,2265.7L1401.4,2265.7L1401.7,2265.7L1402.0,2265.7L1402.3,2265.7L1402.6,2265.7L1402.9,2265.7L1403.2,2265.7L1403.5,2265.7L1403.6,2265.8L1403.8,2265.7L1404.1,2265.7L1404.4,2265.5L1404.7,2265.4L1405.0,2265.2L1405.3,2264.9L1405.6,2264.7L1405.9,2264.4L1406.2,2264.1L1406.5,2263.8L1406.8,2263.4L1407.1,2263.1L1407.4,2262.8L1407.8,2262.5L1408.1,2262.2L1408.4,2261.9L1408.7,2261.6L1409.0,2261.4L1409.3,2261.2L1409.3,2261.2L1409.6,2261.0L1409.9,2260.8L1410.2,2260.7L1410.5,2260.5L1410.8,2260.3L1411.1,2260.1L1411.4,2259.9L1411.7,2259.7L1412.0,2259.5L1412.3,2259.3L1412.6,2259.2L1412.9,2259.0L1413.2,2258.8L1413.5,2258.6L1413.8,2258.5L1414.1,2258.3L1414.4,2258.2L1414.7,2258.1L1415.0,2257.9L1415.3,2257.8L1415.6,2257.7L1415.9,2257.6L1416.2,2257.5L1416.5,2257.4L1416.8,2257.4L1417.1,2257.3L1417.4,2257.3L1417.7,2257.3L1417.8,2257.3L1418.0,2257.3L1418.3,2257.3L1418.6,2257.3L1418.9,2257.4L1419.2,2257.4L1419.5,2257.4L1419.8,2257.5L1420.1,2257.6L1420.4,2257.6L1420.8,2257.7L1421.1,2257.8L1421.4,2257.9L1421.7,2258.0L1422.0,2258.1L1422.3,2258.2L1422.6,2258.3L1422.9,2258.4L1423.2,2258.5L1423.5,2258.6L1423.5,2258.6L1423.8,2258.7L1424.1,2258.9L1424.4,2259.1L1424.7,2259.4L1425.0,2259.7L1425.3,2260.0L1425.6,2260.4L1425.9,2260.7L1426.2,2261.1L1426.5,2261.5L1426.8,2261.9L1427.1,2262.3L1427.4,2262.7L1427.7,2263.1L1428.0,2263.5L1428.3,2263.8L1428.6,2264.1L1428.9,2264.4L1429.2,2264.6L1429.5,2264.8L1429.8,2265.0L1430.1,2265.1L1430.4,2265.1L1430.4,2265.1L1430.7,2265.1L1431.0,2265.0L1431.3,2264.8L1431.6,2264.6L1431.9,2264.3L1432.2,2264.0L1432.5,2263.7L1432.8,2263.3L1433.1,2262.9L1433.5,2262.5L1433.8,2262.0L1434.1,2261.6L1434.4,2261.1L1434.7,2260.6L1435.0,2260.2L1435.3,2259.7L1435.6,2259.3L1435.9,2258.9L1436.1,2258.6L1436.2,2258.5L1436.5,2258.1L1436.8,2257.7L1437.1,2257.2L1437.4,2256.7L1437.7,2256.2L1438.0,2255.7L1438.3,2255.1L1438.6,2254.6L1438.9,2254.0L1439.2,2253.5L1439.5,2253.0L1439.8,2252.5L1440.1,2252.1L1440.4,2251.6L1440.7,2251.2L1441.0,2250.9L1441.3,2250.6L1441.6,2250.4L1441.9,2250.2L1442.2,2250.2L1442.4,2250.2L1442.5,2250.2L1442.8,2250.2L1443.1,2250.3L1443.4,2250.5L1443.7,2250.8L1444.0,2251.1L1444.3,2251.4L1444.6,2251.7L1444.9,2252.1L1445.2,2252.6L1445.5,2253.0L1445.8,2253.5L1446.2,2253.9L1446.5,2254.4L1446.8,2254.9L1447.1,2255.4L1447.4,2255.8L1447.5,2256.0L1447.7,2256.3L1448.0,2256.8L1448.3,2257.5L1448.6,2258.2L1448.9,2259.0L1449.2,2259.8L1449.5,2260.6L1449.8,2261.4L1450.1,2262.2L1450.4,2262.9L1450.7,2263.5L1451.0,2264.1L1451.3,2264.6L1451.6,2264.9L1451.9,2265.1L1452.1,2265.1L1452.2,2265.1L1452.5,2265.1L1452.8,2265.1L1453.1,2265.1L1453.4,2265.1L1453.7,2265.1L1454.0,2265.1L1454.3,2265.1L1454.6,2265.1L1454.9,2265.1L1455.2,2265.1L1455.5,2265.1L1455.8,2265.1L1456.1,2265.1L1456.4,2265.1L1456.7,2265.1L1457.0,2265.1L1457.3,2265.1L1457.6,2265.1L1457.8,2265.1L1457.9,2265.1L1458.2,2265.1L1458.5,2265.0L1458.8,2265.0L1459.2,2264.9L1459.5,2264.8L1459.8,2264.8L1460.1,2264.7L1460.4,2264.6L1460.7,2264.4L1461.0,2264.3L1461.3,2264.2L1461.6,2264.1L1461.9,2264.0L1462.2,2263.9L1462.5,2263.8L1462.8,2263.6L1463.1,2263.5L1463.4,2263.5L1463.7,2263.4L1464.0,2263.3L1464.3,2263.2L1464.6,2263.2L1464.9,2263.2L1465.2,2263.2L1465.3,2263.2L1465.5,2263.2L1465.8,2263.2L1466.1,2263.2L1466.4,2263.2L1466.7,2263.3L1467.0,2263.3L1467.3,2263.4L1467.6,2263.5L1467.9,2263.6L1468.2,2263.7L1468.5,2263.8L1468.8,2263.9L1469.1,2264.0L1469.4,2264.1L1469.7,2264.2L1470.0,2264.3L1470.3,2264.4L1470.6,2264.5L1470.9,2264.7L1471.2,2264.8L1471.5,2264.9L1471.9,2265.0L1472.0,2265.1L1472.2,2265.1L1472.5,2265.3L1472.8,2265.4L1473.1,2265.6L1473.4,2265.8L1473.7,2265.9L1474.0,2266.1L1474.3,2266.3L1474.6,2266.5L1474.9,2266.7L1475.2,2266.9L1475.5,2267.1L1475.8,2267.3L1476.1,2267.4L1476.4,2267.6L1476.6,2267.7L1476.7,2267.7L1477.0,2267.9L1477.3,2268.0L1477.6,2268.1L1477.9,2268.2L1478.2,2268.3L1478.2,2268.4" fill="none" stroke="#555c05" stroke-width="3.0" stroke-linejoin="round" stroke-linecap="round"/>
<g fill="#000">
<polygon points="722.1,2212.3 726.3,2220.2 735.4,2220.2 727.7,2227.0 730.2,2235.5 722.1,2230.7 714.0,2235.5 716.5,2227.0 708.8,2220.2 717.9,2220.2"/>
<polygon points="800.9,2123.9 805.1,2131.8 814.2,2131.8 806.5,2138.6 809.0,2147.1 800.9,2142.3 792.8,2147.1 795.3,2138.6 787.6,2131.8 796.7,2131.8"/>
<polygon points="810.8,2153.6 815.0,2161.5 824.1,2161.5 816.4,2168.3 818.9,2176.8 810.8,2172.0 802.7,2176.8 805.2,2168.3 797.5,2161.5 806.6,2161.5"/>
<polygon points="809.1,2130.7 831.7,2130.7 820.4,2150.2"/>
<polygon points="852.0,1616.0 856.2,1623.9 865.3,1623.9 857.6,1630.7 860.1,1639.2 852.0,1634.4 843.9,1639.2 846.4,1630.7 838.7,1623.9 847.8,1623.9"/>
<polygon points="892.8,1863.5 897.0,1871.4 906.1,1871.4 898.4,1878.2 900.9,1886.7 892.8,1881.9 884.7,1886.7 887.2,1878.2 879.5,1871.4 888.6,1871.4"/>
<use href="#pl" x="877.1" y="2196.5"/>
<text class="sf" x="875.5" y="2238.0" font-size="36" text-anchor="middle">&#162;</text>
<polygon points="922.8,2134.2 927.0,2142.1 936.1,2142.1 928.4,2148.9 930.9,2157.4 922.8,2152.6 914.7,2157.4 917.2,2148.9 909.5,2142.1 918.6,2142.1"/>
<use href="#pl" x="937.3" y="2011.0"/>
<polygon points="924.5,2024.8 947.1,2024.8 935.8,2044.2"/>
<polygon points="958.4,2174.8 981.0,2174.8 969.7,2194.3"/>
<polygon points="981.5,2205.8 985.7,2213.7 994.8,2213.7 987.1,2220.5 989.6,2229.0 981.5,2224.2 973.4,2229.0 975.9,2220.5 968.2,2213.7 977.3,2213.7"/>
<polygon points="1004.7,2176.9 1008.9,2184.8 1018.0,2184.8 1010.3,2191.6 1012.8,2200.1 1004.7,2195.3 996.6,2200.1 999.1,2191.6 991.4,2184.8 1000.5,2184.8"/>
<polygon points="1018.1,2203.5 1022.3,2211.4 1031.4,2211.4 1023.7,2218.2 1026.2,2226.7 1018.1,2221.9 1010.0,2226.7 1012.5,2218.2 1004.8,2211.4 1013.9,2211.4"/>
<polygon points="1023.6,2110.2 1046.2,2110.2 1034.9,2129.7"/>
<polygon points="1052.0,2187.9 1056.2,2195.8 1065.3,2195.8 1057.6,2202.6 1060.1,2211.1 1052.0,2206.3 1043.9,2211.1 1046.4,2202.6 1038.7,2195.8 1047.8,2195.8"/>
<polygon points="1063.8,2205.4 1068.0,2213.3 1077.1,2213.3 1069.4,2220.1 1071.9,2228.6 1063.8,2223.8 1055.7,2228.6 1058.2,2220.1 1050.5,2213.3 1059.6,2213.3"/>
<polygon points="1105.7,2162.4 1109.9,2170.3 1119.0,2170.3 1111.3,2177.1 1113.8,2185.6 1105.7,2180.8 1097.6,2185.6 1100.1,2177.1 1092.4,2170.3 1101.5,2170.3"/>
<use href="#pl" x="1119.4" y="2098.1"/>
<text class="sf" x="1118.6" y="2137.0" font-size="36" text-anchor="middle">&#162;</text>
<polygon points="1120.1,2144.1 1124.3,2152.0 1133.4,2152.0 1125.7,2158.8 1128.2,2167.3 1120.1,2162.5 1112.0,2167.3 1114.5,2158.8 1106.8,2152.0 1115.9,2152.0"/>
<polygon points="1132.7,2207.3 1136.9,2215.2 1146.0,2215.2 1138.3,2222.0 1140.8,2230.5 1132.7,2225.7 1124.6,2230.5 1127.1,2222.0 1119.4,2215.2 1128.5,2215.2"/>
<polygon points="1135.5,2161.9 1158.1,2161.9 1146.8,2181.4"/>
<polygon points="1165.9,2184.4 1170.1,2192.3 1179.2,2192.3 1171.5,2199.1 1174.0,2207.6 1165.9,2202.8 1157.8,2207.6 1160.3,2199.1 1152.6,2192.3 1161.7,2192.3"/>
<polygon points="1181.9,2167.3 1186.1,2175.2 1195.2,2175.2 1187.5,2182.0 1190.0,2190.5 1181.9,2185.7 1173.8,2190.5 1176.3,2182.0 1168.6,2175.2 1177.7,2175.2"/>
<polygon points="1194.6,2101.8 1217.2,2101.8 1205.9,2121.2"/>
<use href="#pl" x="1236.4" y="2172.9"/>
<polygon points="1236.7,2189.4 1240.9,2197.3 1250.0,2197.3 1242.3,2204.1 1244.8,2212.6 1236.7,2207.8 1228.6,2212.6 1231.1,2204.1 1223.4,2197.3 1232.5,2197.3"/>
<polygon points="1256.6,2206.5 1260.8,2214.4 1269.9,2214.4 1262.2,2221.2 1264.7,2229.7 1256.6,2224.9 1248.5,2229.7 1251.0,2221.2 1243.3,2214.4 1252.4,2214.4"/>
<use href="#pl" x="1274.5" y="2178.1"/>
<polygon points="1273.6,2189.9 1277.8,2197.8 1286.9,2197.8 1279.2,2204.6 1281.7,2213.1 1273.6,2208.3 1265.5,2213.1 1268.0,2204.6 1260.3,2197.8 1269.4,2197.8"/>
<polygon points="1288.9,2227.9 1293.1,2235.8 1302.2,2235.8 1294.5,2242.6 1297.0,2251.1 1288.9,2246.3 1280.8,2251.1 1283.3,2242.6 1275.6,2235.8 1284.7,2235.8"/>
<polygon points="1304.5,2208.9 1308.7,2216.8 1317.8,2216.8 1310.1,2223.6 1312.6,2232.1 1304.5,2227.3 1296.4,2232.1 1298.9,2223.6 1291.2,2216.8 1300.3,2216.8"/>
<polygon points="1305.4,2196.9 1328.0,2196.9 1316.7,2216.4"/>
<polygon points="1325.3,2209.9 1347.9,2209.9 1336.6,2229.4"/>
<polygon points="1350.3,2229.0 1354.5,2236.9 1363.6,2236.9 1355.9,2243.7 1358.4,2252.2 1350.3,2247.4 1342.2,2252.2 1344.7,2243.7 1337.0,2236.9 1346.1,2236.9"/>
<polygon points="1373.1,2224.1 1377.3,2232.0 1386.4,2232.0 1378.7,2238.8 1381.2,2247.3 1373.1,2242.5 1365.0,2247.3 1367.5,2238.8 1359.8,2232.0 1368.9,2232.0"/>
<polygon points="1423.0,2229.8 1427.2,2237.7 1436.3,2237.7 1428.6,2244.5 1431.1,2253.0 1423.0,2248.2 1414.9,2253.0 1417.4,2244.5 1409.7,2237.7 1418.8,2237.7"/>
<polygon points="1431.4,2222.8 1454.0,2222.8 1442.7,2242.2"/>
</g>
<g stroke="#000" stroke-width="3" fill="none">
<rect x="631.6" y="1612.7" width="846.6" height="682.3"/>
<path d="M631.6,2295.0h13.0M1478.2,2295.0h-13.0M631.6,2230.0h6.0M1478.2,2230.0h-6.0M631.6,2165.0h13.0M1478.2,2165.0h-13.0M631.6,2100.0h6.0M1478.2,2100.0h-6.0M631.6,2035.0h13.0M1478.2,2035.0h-13.0M631.6,1970.0h6.0M1478.2,1970.0h-6.0M631.6,1905.0h13.0M1478.2,1905.0h-13.0M631.6,1840.0h6.0M1478.2,1840.0h-6.0M631.6,1775.0h13.0M1478.2,1775.0h-13.0M631.6,1710.0h6.0M1478.2,1710.0h-6.0M631.6,1645.0h13.0M1478.2,1645.0h-13.0M692.1,2295.0v-6.5M752.5,2295.0v-13.5M813.0,2295.0v-6.5M873.5,2295.0v-13.5M934.0,2295.0v-6.5M994.4,2295.0v-13.5M1054.9,2295.0v-6.5M1115.4,2295.0v-13.5M1175.8,2295.0v-6.5M1236.3,2295.0v-13.5M1296.8,2295.0v-6.5M1357.3,2295.0v-13.5M1417.7,2295.0v-6.5" stroke-linecap="butt"/>
</g>
<g font-size="45" fill="#000">
<text x="620.6" y="2309.2" text-anchor="end">0</text>
<text x="620.6" y="2179.2" text-anchor="end">20</text>
<text x="620.6" y="2049.2" text-anchor="end">40</text>
<text x="620.6" y="1919.2" text-anchor="end">60</text>
<text x="620.6" y="1789.2" text-anchor="end">80</text>
<text x="620.6" y="1659.2" text-anchor="end">100</text>
<text x="631.6" y="2339.5" text-anchor="middle">10</text>
<text x="752.5" y="2339.5" text-anchor="middle">20</text>
<text x="873.5" y="2339.5" text-anchor="middle">30</text>
<text x="994.4" y="2339.5" text-anchor="middle">40</text>
<text x="1115.4" y="2339.5" text-anchor="middle">50</text>
<text x="1236.3" y="2339.5" text-anchor="middle">60</text>
<text x="1357.3" y="2339.5" text-anchor="middle">70</text>
<text x="1478.2" y="2339.5" text-anchor="middle">80</text>
</g>
<text font-size="45" transform="translate(547.1,1953.8) rotate(-90)" text-anchor="middle">Relative intensity (%)</text>
<text font-size="45" x="1054.9" y="2384.5" text-anchor="middle">2<tspan class="sf">&#952;</tspan> (&#176;)</text>
<text font-size="59" x="651.6" y="1672.1">(e)</text>
<text font-size="35" x="1462.7" y="1642.2" text-anchor="end" fill="#5c5c10">C7, 1650°C</text>
<polygon points="1014.1,1677.3 1018.0,1685.0 1026.6,1685.0 1019.4,1691.7 1021.7,1700.0 1014.1,1695.3 1006.5,1700.0 1008.8,1691.7 1001.6,1685.0 1010.2,1685.0" fill="#000"/>
<text x="1038.7" y="1701.2" font-size="35.5">ZrO<tspan font-size="22" dy="8.7">2</tspan><tspan dy="-8.7"> monoclinic</tspan></text>
<use href="#pl" x="1011.5" y="1748.2"/>
<text x="1033.5" y="1758.7" font-size="35.5">ZrO<tspan font-size="22" dy="8.7">2</tspan><tspan dy="-8.7"> tetragonal</tspan></text>
<text class="sf" x="999.4" y="1817.1" font-size="35.5">&#162;</text>
<text x="1027.8" y="1817.1" font-size="35.5">ZrO<tspan font-size="22" dy="8.7">2</tspan><tspan dy="-8.7"> cubic</tspan></text>
<polygon points="1000.5,1850.1 1027.8,1850.1 1014.1,1874.0" fill="#000"/>
<text x="1039.6" y="1875.1" font-size="35.5">Corundum, <tspan class="sf">&#945;</tspan>-Al<tspan font-size="22" dy="8.7">2</tspan><tspan dy="-8.7">O</tspan><tspan font-size="22" dy="8.7">3</tspan></text>
</svg></body></html>
